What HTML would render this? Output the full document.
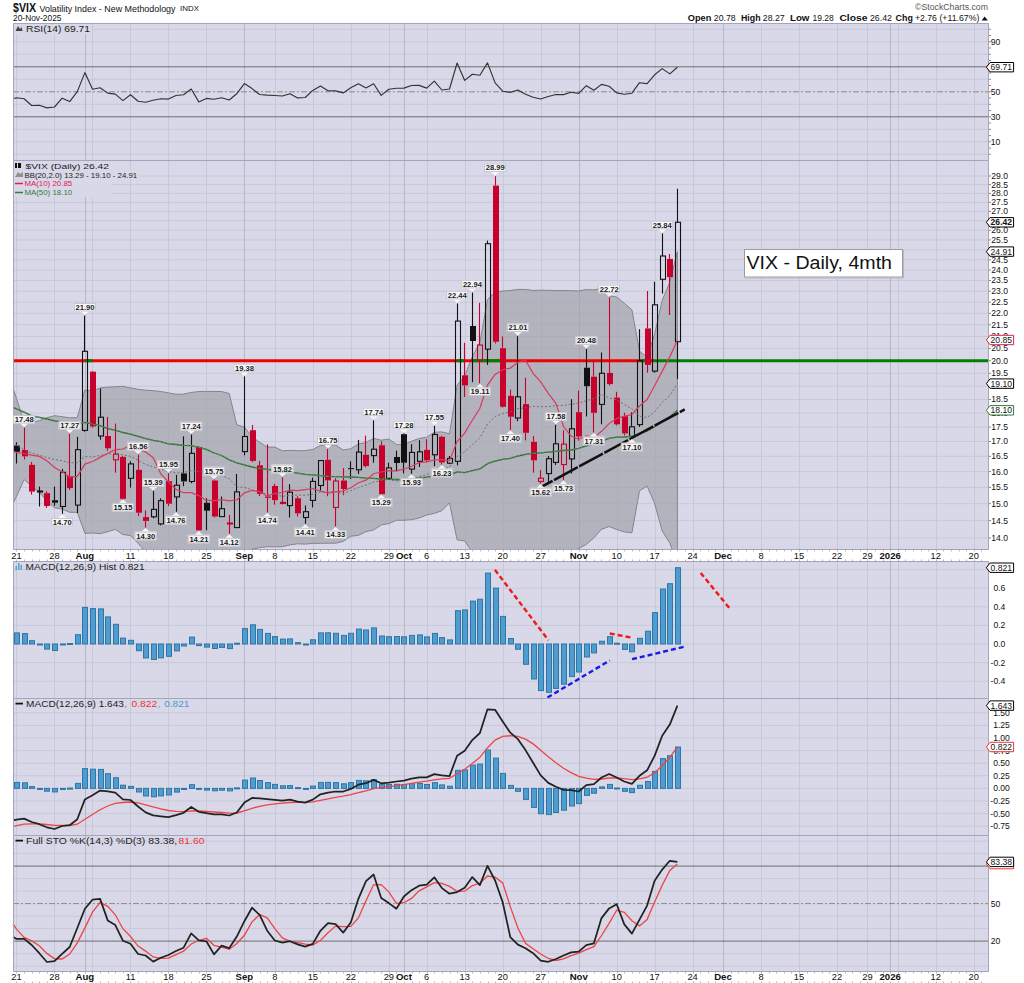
<!DOCTYPE html><html><head><meta charset="utf-8"><style>html,body{margin:0;padding:0;background:#fff;width:1024px;height:983px;overflow:hidden}svg{display:block}</style></head><body><svg width="1024" height="983" viewBox="0 0 1024 983" font-family='"Liberation Sans", sans-serif'>
<rect width="1024" height="983" fill="#fff"/>
<text x="13" y="11.5" font-size="12" font-weight="bold" fill="#111" textLength="23" lengthAdjust="spacingAndGlyphs">$VIX</text>
<text x="39.5" y="11.5" font-size="9.6" fill="#111" textLength="136" lengthAdjust="spacingAndGlyphs">Volatility Index - New Methodology</text>
<text x="180" y="11" font-size="8" fill="#111" textLength="19" lengthAdjust="spacingAndGlyphs">INDX</text>
<text x="13" y="21" font-size="8.5" fill="#111" textLength="48.5" lengthAdjust="spacingAndGlyphs">20-Nov-2025</text>
<text x="915" y="9.5" font-size="8.5" fill="#555" textLength="73" lengthAdjust="spacingAndGlyphs">&#169;StockCharts.com</text>
<text x="687.8" y="21.3" font-size="9" font-weight="bold" fill="#111" textLength="23.5" lengthAdjust="spacingAndGlyphs">Open</text>
<text x="713.8" y="21.3" font-size="9" fill="#111" textLength="21.8" lengthAdjust="spacingAndGlyphs">20.78</text>
<text x="741" y="21.3" font-size="9" font-weight="bold" fill="#111" textLength="19.6" lengthAdjust="spacingAndGlyphs">High</text>
<text x="762.8" y="21.3" font-size="9" fill="#111" textLength="21.9" lengthAdjust="spacingAndGlyphs">28.27</text>
<text x="790" y="21.3" font-size="9" font-weight="bold" fill="#111" textLength="19.4" lengthAdjust="spacingAndGlyphs">Low</text>
<text x="812.5" y="21.3" font-size="9" fill="#111" textLength="21.3" lengthAdjust="spacingAndGlyphs">19.28</text>
<text x="839.4" y="21.3" font-size="9" font-weight="bold" fill="#111" textLength="28.1" lengthAdjust="spacingAndGlyphs">Close</text>
<text x="870" y="21.3" font-size="9" fill="#111" textLength="21.9" lengthAdjust="spacingAndGlyphs">26.42</text>
<text x="895.6" y="21.3" font-size="9" font-weight="bold" fill="#111" textLength="17.2" lengthAdjust="spacingAndGlyphs">Chg</text>
<text x="915" y="21.3" font-size="9" fill="#111" textLength="21.9" lengthAdjust="spacingAndGlyphs">+2.76</text>
<text x="939.4" y="21.3" font-size="9" fill="#111" textLength="40" lengthAdjust="spacingAndGlyphs">(+11.67%)</text>
<polygon points="981.6,20.5 987.8,20.5 984.7,16.5" fill="#111"/>
<rect x="13" y="23" width="976" height="138" fill="#d8d8e8"/>
<line x1="13" x2="989" y1="29.3" y2="29.3" stroke="#c8c8da" stroke-width="1"/>
<line x1="13" x2="989" y1="41.8" y2="41.8" stroke="#c8c8da" stroke-width="1"/>
<line x1="13" x2="989" y1="54.3" y2="54.3" stroke="#c8c8da" stroke-width="1"/>
<line x1="13" x2="989" y1="79.3" y2="79.3" stroke="#c8c8da" stroke-width="1"/>
<line x1="13" x2="989" y1="104.3" y2="104.3" stroke="#c8c8da" stroke-width="1"/>
<line x1="13" x2="989" y1="129.3" y2="129.3" stroke="#c8c8da" stroke-width="1"/>
<line x1="13" x2="989" y1="141.8" y2="141.8" stroke="#c8c8da" stroke-width="1"/>
<line x1="13" x2="989" y1="154.3" y2="154.3" stroke="#c8c8da" stroke-width="1"/>
<line x1="16.5" x2="16.5" y1="23" y2="160" stroke="#c8c8da" stroke-width="1"/>
<line x1="54.5" x2="54.5" y1="23" y2="160" stroke="#c8c8da" stroke-width="1"/>
<line x1="92.5" x2="92.5" y1="23" y2="160" stroke="#c8c8da" stroke-width="1"/>
<line x1="130.5" x2="130.5" y1="23" y2="160" stroke="#c8c8da" stroke-width="1"/>
<line x1="168.5" x2="168.5" y1="23" y2="160" stroke="#c8c8da" stroke-width="1"/>
<line x1="206.5" x2="206.5" y1="23" y2="160" stroke="#c8c8da" stroke-width="1"/>
<line x1="275.5" x2="275.5" y1="23" y2="160" stroke="#c8c8da" stroke-width="1"/>
<line x1="313.5" x2="313.5" y1="23" y2="160" stroke="#c8c8da" stroke-width="1"/>
<line x1="351.5" x2="351.5" y1="23" y2="160" stroke="#c8c8da" stroke-width="1"/>
<line x1="389.5" x2="389.5" y1="23" y2="160" stroke="#c8c8da" stroke-width="1"/>
<line x1="427.5" x2="427.5" y1="23" y2="160" stroke="#c8c8da" stroke-width="1"/>
<line x1="465.5" x2="465.5" y1="23" y2="160" stroke="#c8c8da" stroke-width="1"/>
<line x1="503.5" x2="503.5" y1="23" y2="160" stroke="#c8c8da" stroke-width="1"/>
<line x1="541.5" x2="541.5" y1="23" y2="160" stroke="#c8c8da" stroke-width="1"/>
<line x1="617.5" x2="617.5" y1="23" y2="160" stroke="#c8c8da" stroke-width="1"/>
<line x1="655.5" x2="655.5" y1="23" y2="160" stroke="#c8c8da" stroke-width="1"/>
<line x1="693.5" x2="693.5" y1="23" y2="160" stroke="#c8c8da" stroke-width="1"/>
<line x1="761.5" x2="761.5" y1="23" y2="160" stroke="#c8c8da" stroke-width="1"/>
<line x1="799.5" x2="799.5" y1="23" y2="160" stroke="#c8c8da" stroke-width="1"/>
<line x1="837.5" x2="837.5" y1="23" y2="160" stroke="#c8c8da" stroke-width="1"/>
<line x1="867.5" x2="867.5" y1="23" y2="160" stroke="#c8c8da" stroke-width="1"/>
<line x1="898.5" x2="898.5" y1="23" y2="160" stroke="#c8c8da" stroke-width="1"/>
<line x1="936.5" x2="936.5" y1="23" y2="160" stroke="#c8c8da" stroke-width="1"/>
<line x1="974.5" x2="974.5" y1="23" y2="160" stroke="#c8c8da" stroke-width="1"/>
<line x1="85.5" x2="85.5" y1="23" y2="160" stroke="#b6b6c6" stroke-width="1"/>
<line x1="244.5" x2="244.5" y1="23" y2="160" stroke="#b6b6c6" stroke-width="1"/>
<line x1="404.5" x2="404.5" y1="23" y2="160" stroke="#b6b6c6" stroke-width="1"/>
<line x1="579.5" x2="579.5" y1="23" y2="160" stroke="#b6b6c6" stroke-width="1"/>
<line x1="723.5" x2="723.5" y1="23" y2="160" stroke="#b6b6c6" stroke-width="1"/>
<line x1="890.5" x2="890.5" y1="23" y2="160" stroke="#b6b6c6" stroke-width="1"/>
<line x1="13" x2="989" y1="66.8" y2="66.8" stroke="#6e6e6e" stroke-width="1"/>
<line x1="13" x2="989" y1="116.8" y2="116.8" stroke="#6e6e6e" stroke-width="1"/>
<line x1="13" x2="989" y1="91.8" y2="91.8" stroke="#8a8a8a" stroke-width="1" stroke-dasharray="6,2,2,2"/>
<polyline points="13,98.7 16.5,97.8 24.1,98.8 31.7,105.5 39.3,105.3 46.9,107.9 54.5,107.0 62.1,98.2 69.7,101.6 77.3,91.6 84.9,72.6 92.5,89.3 100.1,87.8 107.7,93.1 115.3,94.1 122.9,100.6 130.5,94.7 138.1,101.2 145.6,102.2 153.2,100.2 160.8,98.7 168.4,99.1 176.0,95.5 183.6,94.7 191.2,89.0 198.8,101.9 206.4,98.4 214.0,99.2 221.6,97.7 229.2,100.0 236.8,93.7 244.4,83.6 252.0,88.6 259.6,94.5 267.2,95.1 274.8,95.5 282.4,96.0 290.0,93.7 297.6,97.9 305.2,97.5 312.8,90.4 320.4,85.9 328.0,90.8 335.6,90.9 343.2,92.9 350.8,87.8 358.4,83.8 366.0,87.9 373.6,83.8 381.2,95.4 388.8,89.3 396.4,88.2 403.9,88.1 411.5,85.5 419.1,85.4 426.7,88.1 434.3,81.1 441.9,90.0 449.5,89.0 457.1,63.0 464.7,80.4 472.3,74.2 479.9,75.2 487.5,62.9 495.1,82.9 502.7,91.2 510.3,92.4 517.9,90.0 525.5,94.3 533.1,97.2 540.7,99.0 548.3,96.5 555.9,94.5 563.5,94.6 571.1,92.3 578.7,93.4 586.3,85.7 593.9,90.2 601.5,84.4 609.1,86.3 616.7,92.9 624.3,94.3 631.9,93.2 639.5,82.7 647.1,83.6 654.6,74.8 662.2,68.6 669.8,73.9 677.4,67.2" fill="none" stroke="#333" stroke-width="1.15" stroke-linejoin="round"/>
<path d="M13.5,23.5 H988.5 V160.5 H13.5 Z" fill="none" stroke="#a4a4bc" stroke-width="1"/>
<text x="1000.3" text-anchor="end" y="44.7" font-size="8.6" fill="#111">90</text>
<text x="1000.3" text-anchor="end" y="94.7" font-size="8.6" fill="#111">50</text>
<text x="1000.3" text-anchor="end" y="119.7" font-size="8.6" fill="#111">30</text>
<text x="1000.3" text-anchor="end" y="144.7" font-size="8.6" fill="#111">10</text>
<line x1="989" x2="991" y1="154.3" y2="154.3" stroke="#888"/>
<line x1="989" x2="991" y1="148.1" y2="148.1" stroke="#888"/>
<line x1="989" x2="991" y1="141.8" y2="141.8" stroke="#888"/>
<line x1="989" x2="991" y1="135.6" y2="135.6" stroke="#888"/>
<line x1="989" x2="991" y1="129.3" y2="129.3" stroke="#888"/>
<line x1="989" x2="991" y1="123.0" y2="123.0" stroke="#888"/>
<line x1="989" x2="991" y1="116.8" y2="116.8" stroke="#888"/>
<line x1="989" x2="991" y1="110.5" y2="110.5" stroke="#888"/>
<line x1="989" x2="991" y1="104.3" y2="104.3" stroke="#888"/>
<line x1="989" x2="991" y1="98.0" y2="98.0" stroke="#888"/>
<line x1="989" x2="991" y1="91.8" y2="91.8" stroke="#888"/>
<line x1="989" x2="991" y1="85.5" y2="85.5" stroke="#888"/>
<line x1="989" x2="991" y1="79.3" y2="79.3" stroke="#888"/>
<line x1="989" x2="991" y1="73.0" y2="73.0" stroke="#888"/>
<line x1="989" x2="991" y1="66.8" y2="66.8" stroke="#888"/>
<line x1="989" x2="991" y1="60.5" y2="60.5" stroke="#888"/>
<line x1="989" x2="991" y1="54.3" y2="54.3" stroke="#888"/>
<line x1="989" x2="991" y1="48.0" y2="48.0" stroke="#888"/>
<line x1="989" x2="991" y1="41.8" y2="41.8" stroke="#888"/>
<line x1="989" x2="991" y1="35.5" y2="35.5" stroke="#888"/>
<line x1="989" x2="991" y1="29.3" y2="29.3" stroke="#888"/>
<polygon points="986.4,67.2 990,62.5 1013.6,62.5 1013.6,71.9 990,71.9" fill="#fff" stroke="#000" stroke-width="1"/>
<text x="990.6" y="70.1" font-size="8.2" fill="#111" textLength="21.5" lengthAdjust="spacingAndGlyphs">69.71</text>
<rect x="14" y="24" width="78" height="10" fill="#d8d8e8"/>
<path d="M15.5,31 l2.5,-5 l2,3 l1.5,-2 l1,4 z" fill="#444"/>
<text x="26" y="32" font-size="8.4" fill="#222" textLength="64" lengthAdjust="spacingAndGlyphs">RSI(14) 69.71</text>
<rect x="13" y="160" width="976" height="390" fill="#d8d8e8"/>
<line x1="13" x2="989" y1="538.0" y2="538.0" stroke="#c8c8da" stroke-width="1"/>
<line x1="13" x2="989" y1="520.6" y2="520.6" stroke="#c8c8da" stroke-width="1"/>
<line x1="13" x2="989" y1="503.7" y2="503.7" stroke="#c8c8da" stroke-width="1"/>
<line x1="13" x2="989" y1="487.4" y2="487.4" stroke="#c8c8da" stroke-width="1"/>
<line x1="13" x2="989" y1="471.6" y2="471.6" stroke="#c8c8da" stroke-width="1"/>
<line x1="13" x2="989" y1="456.3" y2="456.3" stroke="#c8c8da" stroke-width="1"/>
<line x1="13" x2="989" y1="441.5" y2="441.5" stroke="#c8c8da" stroke-width="1"/>
<line x1="13" x2="989" y1="427.1" y2="427.1" stroke="#c8c8da" stroke-width="1"/>
<line x1="13" x2="989" y1="413.1" y2="413.1" stroke="#c8c8da" stroke-width="1"/>
<line x1="13" x2="989" y1="399.5" y2="399.5" stroke="#c8c8da" stroke-width="1"/>
<line x1="13" x2="989" y1="386.2" y2="386.2" stroke="#c8c8da" stroke-width="1"/>
<line x1="13" x2="989" y1="373.3" y2="373.3" stroke="#c8c8da" stroke-width="1"/>
<line x1="13" x2="989" y1="360.7" y2="360.7" stroke="#c8c8da" stroke-width="1"/>
<line x1="13" x2="989" y1="348.4" y2="348.4" stroke="#c8c8da" stroke-width="1"/>
<line x1="13" x2="989" y1="336.5" y2="336.5" stroke="#c8c8da" stroke-width="1"/>
<line x1="13" x2="989" y1="324.8" y2="324.8" stroke="#c8c8da" stroke-width="1"/>
<line x1="13" x2="989" y1="313.3" y2="313.3" stroke="#c8c8da" stroke-width="1"/>
<line x1="13" x2="989" y1="302.2" y2="302.2" stroke="#c8c8da" stroke-width="1"/>
<line x1="13" x2="989" y1="291.2" y2="291.2" stroke="#c8c8da" stroke-width="1"/>
<line x1="13" x2="989" y1="280.5" y2="280.5" stroke="#c8c8da" stroke-width="1"/>
<line x1="13" x2="989" y1="270.1" y2="270.1" stroke="#c8c8da" stroke-width="1"/>
<line x1="13" x2="989" y1="259.8" y2="259.8" stroke="#c8c8da" stroke-width="1"/>
<line x1="13" x2="989" y1="249.8" y2="249.8" stroke="#c8c8da" stroke-width="1"/>
<line x1="13" x2="989" y1="239.9" y2="239.9" stroke="#c8c8da" stroke-width="1"/>
<line x1="13" x2="989" y1="230.3" y2="230.3" stroke="#c8c8da" stroke-width="1"/>
<line x1="13" x2="989" y1="220.8" y2="220.8" stroke="#c8c8da" stroke-width="1"/>
<line x1="13" x2="989" y1="211.5" y2="211.5" stroke="#c8c8da" stroke-width="1"/>
<line x1="13" x2="989" y1="202.4" y2="202.4" stroke="#c8c8da" stroke-width="1"/>
<line x1="13" x2="989" y1="193.4" y2="193.4" stroke="#c8c8da" stroke-width="1"/>
<line x1="13" x2="989" y1="184.6" y2="184.6" stroke="#c8c8da" stroke-width="1"/>
<line x1="13" x2="989" y1="176.0" y2="176.0" stroke="#c8c8da" stroke-width="1"/>
<line x1="16.5" x2="16.5" y1="160" y2="549" stroke="#c8c8da" stroke-width="1"/>
<line x1="54.5" x2="54.5" y1="160" y2="549" stroke="#c8c8da" stroke-width="1"/>
<line x1="92.5" x2="92.5" y1="160" y2="549" stroke="#c8c8da" stroke-width="1"/>
<line x1="130.5" x2="130.5" y1="160" y2="549" stroke="#c8c8da" stroke-width="1"/>
<line x1="168.5" x2="168.5" y1="160" y2="549" stroke="#c8c8da" stroke-width="1"/>
<line x1="206.5" x2="206.5" y1="160" y2="549" stroke="#c8c8da" stroke-width="1"/>
<line x1="275.5" x2="275.5" y1="160" y2="549" stroke="#c8c8da" stroke-width="1"/>
<line x1="313.5" x2="313.5" y1="160" y2="549" stroke="#c8c8da" stroke-width="1"/>
<line x1="351.5" x2="351.5" y1="160" y2="549" stroke="#c8c8da" stroke-width="1"/>
<line x1="389.5" x2="389.5" y1="160" y2="549" stroke="#c8c8da" stroke-width="1"/>
<line x1="427.5" x2="427.5" y1="160" y2="549" stroke="#c8c8da" stroke-width="1"/>
<line x1="465.5" x2="465.5" y1="160" y2="549" stroke="#c8c8da" stroke-width="1"/>
<line x1="503.5" x2="503.5" y1="160" y2="549" stroke="#c8c8da" stroke-width="1"/>
<line x1="541.5" x2="541.5" y1="160" y2="549" stroke="#c8c8da" stroke-width="1"/>
<line x1="617.5" x2="617.5" y1="160" y2="549" stroke="#c8c8da" stroke-width="1"/>
<line x1="655.5" x2="655.5" y1="160" y2="549" stroke="#c8c8da" stroke-width="1"/>
<line x1="693.5" x2="693.5" y1="160" y2="549" stroke="#c8c8da" stroke-width="1"/>
<line x1="761.5" x2="761.5" y1="160" y2="549" stroke="#c8c8da" stroke-width="1"/>
<line x1="799.5" x2="799.5" y1="160" y2="549" stroke="#c8c8da" stroke-width="1"/>
<line x1="837.5" x2="837.5" y1="160" y2="549" stroke="#c8c8da" stroke-width="1"/>
<line x1="867.5" x2="867.5" y1="160" y2="549" stroke="#c8c8da" stroke-width="1"/>
<line x1="898.5" x2="898.5" y1="160" y2="549" stroke="#c8c8da" stroke-width="1"/>
<line x1="936.5" x2="936.5" y1="160" y2="549" stroke="#c8c8da" stroke-width="1"/>
<line x1="974.5" x2="974.5" y1="160" y2="549" stroke="#c8c8da" stroke-width="1"/>
<line x1="85.5" x2="85.5" y1="160" y2="549" stroke="#b6b6c6" stroke-width="1"/>
<line x1="244.5" x2="244.5" y1="160" y2="549" stroke="#b6b6c6" stroke-width="1"/>
<line x1="404.5" x2="404.5" y1="160" y2="549" stroke="#b6b6c6" stroke-width="1"/>
<line x1="579.5" x2="579.5" y1="160" y2="549" stroke="#b6b6c6" stroke-width="1"/>
<line x1="723.5" x2="723.5" y1="160" y2="549" stroke="#b6b6c6" stroke-width="1"/>
<line x1="890.5" x2="890.5" y1="160" y2="549" stroke="#b6b6c6" stroke-width="1"/>
<clipPath id="cp"><rect x="13" y="160" width="976" height="389"/></clipPath><g clip-path="url(#cp)">
<polygon points="8.9,375.8 16.5,398.4 24.1,422.0 31.7,422.2 39.3,420.7 46.9,417.7 54.5,415.7 62.1,416.7 69.7,417.8 77.3,417.6 84.9,390.1 92.5,391.1 100.1,387.9 107.7,387.1 115.3,386.8 122.9,386.3 130.5,387.9 138.1,389.3 145.6,390.2 153.2,390.7 160.8,391.5 168.4,392.9 176.0,394.3 183.6,394.1 191.2,392.5 198.8,391.5 206.4,391.4 214.0,391.5 221.6,391.5 229.2,393.5 236.8,424.8 244.4,427.1 252.0,436.7 259.6,442.2 267.2,447.1 274.8,447.1 282.4,450.8 290.0,450.4 297.6,450.7 305.2,450.6 312.8,449.5 320.4,445.5 328.0,445.1 335.6,445.1 343.2,450.0 350.8,448.8 358.4,444.0 366.0,442.5 373.6,438.4 381.2,440.2 388.8,439.0 396.4,444.4 403.9,444.7 411.5,441.3 419.1,438.4 426.7,437.3 434.3,432.3 441.9,431.9 449.5,433.8 457.1,385.3 464.7,375.8 472.3,356.8 479.9,342.6 487.5,299.5 495.1,292.0 502.7,291.1 510.3,290.5 517.9,289.4 525.5,289.4 533.1,290.5 540.7,290.2 548.3,290.3 555.9,290.6 563.5,290.6 571.1,290.7 578.7,291.0 586.3,289.6 593.9,289.9 601.5,288.5 609.1,295.8 616.7,297.0 624.3,303.3 631.9,309.7 639.5,351.2 647.1,357.2 654.6,334.4 662.2,300.4 669.8,282.2 677.4,251.6 677.4,563.9 669.8,542.9 662.2,531.0 654.6,503.3 647.1,486.1 639.5,490.8 631.9,532.8 624.3,531.9 616.7,529.5 609.1,526.5 601.5,529.3 593.9,537.8 586.3,544.4 578.7,548.4 571.1,551.8 563.5,554.8 555.9,555.9 548.3,558.7 540.7,559.4 533.1,557.6 525.5,563.6 517.9,565.6 510.3,572.8 502.7,576.6 495.1,583.2 487.5,590.5 479.9,555.6 472.3,552.3 464.7,540.9 457.1,539.8 449.5,502.8 441.9,510.7 434.3,513.4 426.7,515.0 419.1,518.0 411.5,519.7 403.9,520.2 396.4,520.3 388.8,523.6 381.2,524.9 373.6,530.0 366.0,531.6 358.4,535.4 350.8,536.2 343.2,541.4 335.6,543.2 328.0,543.2 320.4,543.3 312.8,543.4 305.2,544.1 297.6,543.8 290.0,544.9 282.4,546.7 274.8,546.8 267.2,546.7 259.6,547.7 252.0,549.1 244.4,556.0 236.8,557.7 229.2,581.9 221.6,576.0 214.0,573.6 206.4,568.6 198.8,567.5 191.2,563.4 183.6,565.7 176.0,566.6 168.4,565.0 160.8,561.0 153.2,557.2 145.6,551.7 138.1,543.3 130.5,535.6 122.9,534.5 115.3,529.4 107.7,531.7 100.1,533.7 92.5,533.0 84.9,533.4 77.3,512.3 69.7,512.3 62.1,509.0 54.5,507.7 46.9,501.1 39.3,492.2 31.7,486.1 24.1,479.6 16.5,496.5 8.9,511.8" fill="#a0a0a8" fill-opacity="0.65" stroke="#84848e" stroke-width="1"/>
<line x1="13" x2="654" y1="360.7" y2="360.7" stroke="#f00000" stroke-width="3"/>
<line x1="85.2" x2="92.5" y1="360.7" y2="360.7" stroke="#008000" stroke-width="3"/>
<line x1="457" x2="464" y1="360.7" y2="360.7" stroke="#008000" stroke-width="3"/>
<line x1="473" x2="503" y1="360.7" y2="360.7" stroke="#008000" stroke-width="3"/>
<line x1="640.7" x2="645.6" y1="360.7" y2="360.7" stroke="#008000" stroke-width="3"/>
<line x1="654" x2="989" y1="360.7" y2="360.7" stroke="#008000" stroke-width="3"/>
<line x1="16.5" x2="16.5" y1="442.3" y2="445.6" stroke="#111111" stroke-width="1.1"/><line x1="16.5" x2="16.5" y1="451.8" y2="463.5" stroke="#111111" stroke-width="1.1"/>
<rect x="14" y="445.6" width="6" height="6.2" fill="#111111"/>
<line x1="24.5" x2="24.5" y1="427.7" y2="450.0" stroke="#c8002c" stroke-width="1.1"/><line x1="24.5" x2="24.5" y1="456.3" y2="459.5" stroke="#c8002c" stroke-width="1.1"/>
<rect x="22" y="450.0" width="6" height="6.3" fill="#c8002c"/>
<line x1="31.5" x2="31.5" y1="462.0" y2="464.8" stroke="#c8002c" stroke-width="1.1"/><line x1="31.5" x2="31.5" y1="491.6" y2="494.6" stroke="#c8002c" stroke-width="1.1"/>
<rect x="29" y="464.8" width="6" height="26.8" fill="#c8002c"/>
<line x1="39.5" x2="39.5" y1="486.6" y2="491.0" stroke="#111111" stroke-width="1.1"/><line x1="39.5" x2="39.5" y1="492.0" y2="506.5" stroke="#111111" stroke-width="1.1"/>
<rect x="37.5" y="491.0" width="5" height="1.0" fill="none" stroke="#111111" stroke-width="1.1"/>
<line x1="46.5" x2="46.5" y1="491.3" y2="493.2" stroke="#c8002c" stroke-width="1.1"/><line x1="46.5" x2="46.5" y1="506.0" y2="507.8" stroke="#c8002c" stroke-width="1.1"/>
<rect x="44" y="493.2" width="6" height="12.8" fill="#c8002c"/>
<line x1="54.5" x2="54.5" y1="486.6" y2="500.2" stroke="#111111" stroke-width="1.1"/><line x1="54.5" x2="54.5" y1="502.7" y2="505.8" stroke="#111111" stroke-width="1.1"/>
<rect x="52" y="500.2" width="6" height="2.5" fill="#111111"/>
<line x1="62.5" x2="62.5" y1="468.8" y2="472.3" stroke="#111111" stroke-width="1.1"/><line x1="62.5" x2="62.5" y1="506.5" y2="513.8" stroke="#111111" stroke-width="1.1"/>
<rect x="60.5" y="472.3" width="5" height="34.2" fill="none" stroke="#111111" stroke-width="1.1"/>
<line x1="69.5" x2="69.5" y1="433.7" y2="476.0" stroke="#c8002c" stroke-width="1.1"/><line x1="69.5" x2="69.5" y1="488.1" y2="490.0" stroke="#c8002c" stroke-width="1.1"/>
<rect x="67" y="476.0" width="6" height="12.1" fill="#c8002c"/>
<line x1="77.5" x2="77.5" y1="436.8" y2="449.7" stroke="#111111" stroke-width="1.1"/><line x1="77.5" x2="77.5" y1="505.1" y2="513.0" stroke="#111111" stroke-width="1.1"/>
<rect x="75.5" y="449.7" width="5" height="55.4" fill="none" stroke="#111111" stroke-width="1.1"/>
<line x1="84.5" x2="84.5" y1="315.6" y2="351.3" stroke="#111111" stroke-width="1.1"/><line x1="84.5" x2="84.5" y1="430.4" y2="431.7" stroke="#111111" stroke-width="1.1"/>
<rect x="82.5" y="351.3" width="5" height="79.1" fill="none" stroke="#111111" stroke-width="1.1"/>
<line x1="92.5" x2="92.5" y1="371.0" y2="371.7" stroke="#c8002c" stroke-width="1.1"/><line x1="92.5" x2="92.5" y1="426.5" y2="427.8" stroke="#c8002c" stroke-width="1.1"/>
<rect x="90" y="371.7" width="6" height="54.8" fill="#c8002c"/>
<line x1="100.5" x2="100.5" y1="388.5" y2="417.2" stroke="#111111" stroke-width="1.1"/><line x1="100.5" x2="100.5" y1="436.0" y2="439.7" stroke="#111111" stroke-width="1.1"/>
<rect x="98.5" y="417.2" width="5" height="18.8" fill="none" stroke="#111111" stroke-width="1.1"/>
<line x1="107.5" x2="107.5" y1="416.9" y2="436.0" stroke="#c8002c" stroke-width="1.1"/><line x1="107.5" x2="107.5" y1="448.3" y2="450.9" stroke="#c8002c" stroke-width="1.1"/>
<rect x="105" y="436.0" width="6" height="12.3" fill="#c8002c"/>
<line x1="115.5" x2="115.5" y1="423.5" y2="454.2" stroke="#c8002c" stroke-width="1.1"/><line x1="115.5" x2="115.5" y1="459.8" y2="472.7" stroke="#c8002c" stroke-width="1.1"/>
<rect x="113.5" y="454.2" width="5" height="5.6" fill="none" stroke="#c8002c" stroke-width="1.1"/>
<line x1="122.5" x2="122.5" y1="456.0" y2="456.9" stroke="#c8002c" stroke-width="1.1"/><line x1="122.5" x2="122.5" y1="498.8" y2="500.0" stroke="#c8002c" stroke-width="1.1"/>
<rect x="120" y="456.9" width="6" height="41.9" fill="#c8002c"/>
<line x1="130.5" x2="130.5" y1="461.3" y2="463.9" stroke="#111111" stroke-width="1.1"/><line x1="130.5" x2="130.5" y1="478.3" y2="487.6" stroke="#111111" stroke-width="1.1"/>
<rect x="128.5" y="463.9" width="5" height="14.4" fill="none" stroke="#111111" stroke-width="1.1"/>
<line x1="138.5" x2="138.5" y1="454.5" y2="469.8" stroke="#c8002c" stroke-width="1.1"/><line x1="138.5" x2="138.5" y1="512.7" y2="516.1" stroke="#c8002c" stroke-width="1.1"/>
<rect x="136" y="469.8" width="6" height="42.9" fill="#c8002c"/>
<line x1="145.5" x2="145.5" y1="510.4" y2="517.1" stroke="#c8002c" stroke-width="1.1"/><line x1="145.5" x2="145.5" y1="520.9" y2="527.5" stroke="#c8002c" stroke-width="1.1"/>
<rect x="143" y="517.1" width="6" height="3.8" fill="#c8002c"/>
<line x1="153.5" x2="153.5" y1="491.0" y2="509.4" stroke="#111111" stroke-width="1.1"/><line x1="153.5" x2="153.5" y1="516.8" y2="518.2" stroke="#111111" stroke-width="1.1"/>
<rect x="151.5" y="509.4" width="5" height="7.4" fill="none" stroke="#111111" stroke-width="1.1"/>
<line x1="160.5" x2="160.5" y1="498.3" y2="500.7" stroke="#111111" stroke-width="1.1"/><line x1="160.5" x2="160.5" y1="523.9" y2="525.4" stroke="#111111" stroke-width="1.1"/>
<rect x="158.5" y="500.7" width="5" height="23.2" fill="none" stroke="#111111" stroke-width="1.1"/>
<line x1="168.5" x2="168.5" y1="473.2" y2="481.2" stroke="#c8002c" stroke-width="1.1"/><line x1="168.5" x2="168.5" y1="503.7" y2="506.1" stroke="#c8002c" stroke-width="1.1"/>
<rect x="166" y="481.2" width="6" height="22.5" fill="#c8002c"/>
<line x1="176.5" x2="176.5" y1="474.8" y2="485.2" stroke="#111111" stroke-width="1.1"/><line x1="176.5" x2="176.5" y1="496.9" y2="511.7" stroke="#111111" stroke-width="1.1"/>
<rect x="174.5" y="485.2" width="5" height="11.7" fill="none" stroke="#111111" stroke-width="1.1"/>
<line x1="183.5" x2="183.5" y1="436.3" y2="473.4" stroke="#111111" stroke-width="1.1"/><line x1="183.5" x2="183.5" y1="481.4" y2="486.2" stroke="#111111" stroke-width="1.1"/>
<rect x="181" y="473.4" width="6" height="8.0" fill="#111111"/>
<line x1="191.5" x2="191.5" y1="434.5" y2="453.3" stroke="#111111" stroke-width="1.1"/><line x1="191.5" x2="191.5" y1="481.5" y2="483.3" stroke="#111111" stroke-width="1.1"/>
<rect x="189.5" y="453.3" width="5" height="28.2" fill="none" stroke="#111111" stroke-width="1.1"/>
<line x1="198.5" x2="198.5" y1="446.0" y2="447.0" stroke="#c8002c" stroke-width="1.1"/><line x1="198.5" x2="198.5" y1="530.3" y2="530.6" stroke="#c8002c" stroke-width="1.1"/>
<rect x="196" y="447.0" width="6" height="83.3" fill="#c8002c"/>
<line x1="206.5" x2="206.5" y1="498.3" y2="502.8" stroke="#111111" stroke-width="1.1"/><line x1="206.5" x2="206.5" y1="510.7" y2="530.3" stroke="#111111" stroke-width="1.1"/>
<rect x="204" y="502.8" width="6" height="7.9" fill="#111111"/>
<line x1="214.5" x2="214.5" y1="479.5" y2="480.5" stroke="#c8002c" stroke-width="1.1"/><line x1="214.5" x2="214.5" y1="516.5" y2="517.6" stroke="#c8002c" stroke-width="1.1"/>
<rect x="212" y="480.5" width="6" height="36.0" fill="#c8002c"/>
<line x1="221.5" x2="221.5" y1="496.5" y2="508.7" stroke="#111111" stroke-width="1.1"/><line x1="221.5" x2="221.5" y1="516.6" y2="517.0" stroke="#111111" stroke-width="1.1"/>
<rect x="219.5" y="508.7" width="5" height="7.9" fill="none" stroke="#111111" stroke-width="1.1"/>
<line x1="229.5" x2="229.5" y1="514.8" y2="523.0" stroke="#c8002c" stroke-width="1.1"/><line x1="229.5" x2="229.5" y1="524.0" y2="533.8" stroke="#c8002c" stroke-width="1.1"/>
<rect x="227.5" y="523.0" width="5" height="1.0" fill="none" stroke="#c8002c" stroke-width="1.1"/>
<line x1="236.5" x2="236.5" y1="474.0" y2="491.9" stroke="#111111" stroke-width="1.1"/><line x1="236.5" x2="236.5" y1="527.6" y2="528.0" stroke="#111111" stroke-width="1.1"/>
<rect x="234.5" y="491.9" width="5" height="35.7" fill="none" stroke="#111111" stroke-width="1.1"/>
<line x1="244.5" x2="244.5" y1="376.4" y2="436.5" stroke="#111111" stroke-width="1.1"/><line x1="244.5" x2="244.5" y1="451.6" y2="455.3" stroke="#111111" stroke-width="1.1"/>
<rect x="242.5" y="436.5" width="5" height="15.1" fill="none" stroke="#111111" stroke-width="1.1"/>
<line x1="252.5" x2="252.5" y1="425.0" y2="430.2" stroke="#c8002c" stroke-width="1.1"/><line x1="252.5" x2="252.5" y1="460.9" y2="462.0" stroke="#c8002c" stroke-width="1.1"/>
<rect x="250" y="430.2" width="6" height="30.7" fill="#c8002c"/>
<line x1="259.5" x2="259.5" y1="460.8" y2="465.3" stroke="#c8002c" stroke-width="1.1"/><line x1="259.5" x2="259.5" y1="493.9" y2="496.0" stroke="#c8002c" stroke-width="1.1"/>
<rect x="257" y="465.3" width="6" height="28.6" fill="#c8002c"/>
<line x1="267.5" x2="267.5" y1="444.3" y2="496.5" stroke="#c8002c" stroke-width="1.1"/><line x1="267.5" x2="267.5" y1="497.8" y2="512.4" stroke="#c8002c" stroke-width="1.1"/>
<rect x="265" y="496.5" width="6" height="1.3" fill="#c8002c"/>
<line x1="274.5" x2="274.5" y1="483.7" y2="486.0" stroke="#c8002c" stroke-width="1.1"/><line x1="274.5" x2="274.5" y1="500.1" y2="504.7" stroke="#c8002c" stroke-width="1.1"/>
<rect x="272" y="486.0" width="6" height="14.1" fill="#c8002c"/>
<line x1="282.5" x2="282.5" y1="477.3" y2="502.4" stroke="#c8002c" stroke-width="1.1"/><line x1="282.5" x2="282.5" y1="503.5" y2="504.5" stroke="#c8002c" stroke-width="1.1"/>
<rect x="280.5" y="502.4" width="5" height="1.1" fill="none" stroke="#c8002c" stroke-width="1.1"/>
<line x1="289.5" x2="289.5" y1="484.2" y2="492.2" stroke="#111111" stroke-width="1.1"/><line x1="289.5" x2="289.5" y1="505.6" y2="517.6" stroke="#111111" stroke-width="1.1"/>
<rect x="287.5" y="492.2" width="5" height="13.4" fill="none" stroke="#111111" stroke-width="1.1"/>
<line x1="297.5" x2="297.5" y1="496.2" y2="498.3" stroke="#c8002c" stroke-width="1.1"/><line x1="297.5" x2="297.5" y1="513.4" y2="516.5" stroke="#c8002c" stroke-width="1.1"/>
<rect x="295" y="498.3" width="6" height="15.1" fill="#c8002c"/>
<line x1="305.5" x2="305.5" y1="505.4" y2="511.7" stroke="#111111" stroke-width="1.1"/><line x1="305.5" x2="305.5" y1="517.5" y2="523.7" stroke="#111111" stroke-width="1.1"/>
<rect x="303.5" y="511.7" width="5" height="5.8" fill="none" stroke="#111111" stroke-width="1.1"/>
<line x1="312.5" x2="312.5" y1="477.6" y2="481.4" stroke="#111111" stroke-width="1.1"/><line x1="312.5" x2="312.5" y1="500.4" y2="507.5" stroke="#111111" stroke-width="1.1"/>
<rect x="310.5" y="481.4" width="5" height="19.0" fill="none" stroke="#111111" stroke-width="1.1"/>
<line x1="320.5" x2="320.5" y1="460.5" y2="460.6" stroke="#111111" stroke-width="1.1"/><line x1="320.5" x2="320.5" y1="485.5" y2="490.5" stroke="#111111" stroke-width="1.1"/>
<rect x="318.5" y="460.6" width="5" height="24.9" fill="none" stroke="#111111" stroke-width="1.1"/>
<line x1="327.5" x2="327.5" y1="448.9" y2="459.8" stroke="#c8002c" stroke-width="1.1"/><line x1="327.5" x2="327.5" y1="480.4" y2="496.2" stroke="#c8002c" stroke-width="1.1"/>
<rect x="325" y="459.8" width="6" height="20.6" fill="#c8002c"/>
<line x1="335.5" x2="335.5" y1="478.3" y2="481.0" stroke="#c8002c" stroke-width="1.1"/><line x1="335.5" x2="335.5" y1="507.5" y2="526.4" stroke="#c8002c" stroke-width="1.1"/>
<rect x="333.5" y="481.0" width="5" height="26.5" fill="none" stroke="#c8002c" stroke-width="1.1"/>
<line x1="343.5" x2="343.5" y1="468.1" y2="480.5" stroke="#c8002c" stroke-width="1.1"/><line x1="343.5" x2="343.5" y1="489.0" y2="495.2" stroke="#c8002c" stroke-width="1.1"/>
<rect x="341" y="480.5" width="6" height="8.5" fill="#c8002c"/>
<line x1="350.5" x2="350.5" y1="461.3" y2="468.1" stroke="#111111" stroke-width="1.1"/><line x1="350.5" x2="350.5" y1="469.1" y2="479.0" stroke="#111111" stroke-width="1.1"/>
<rect x="348" y="468.1" width="6" height="1.0" fill="#111111"/>
<line x1="358.5" x2="358.5" y1="439.9" y2="452.1" stroke="#111111" stroke-width="1.1"/><line x1="358.5" x2="358.5" y1="469.8" y2="474.0" stroke="#111111" stroke-width="1.1"/>
<rect x="356.5" y="452.1" width="5" height="17.7" fill="none" stroke="#111111" stroke-width="1.1"/>
<line x1="365.5" x2="365.5" y1="435.6" y2="454.8" stroke="#c8002c" stroke-width="1.1"/><line x1="365.5" x2="365.5" y1="466.1" y2="467.5" stroke="#c8002c" stroke-width="1.1"/>
<rect x="363" y="454.8" width="6" height="11.3" fill="#c8002c"/>
<line x1="373.5" x2="373.5" y1="420.3" y2="449.2" stroke="#111111" stroke-width="1.1"/><line x1="373.5" x2="373.5" y1="455.6" y2="462.7" stroke="#111111" stroke-width="1.1"/>
<rect x="371.5" y="449.2" width="5" height="6.4" fill="none" stroke="#111111" stroke-width="1.1"/>
<line x1="381.5" x2="381.5" y1="441.3" y2="445.3" stroke="#c8002c" stroke-width="1.1"/><line x1="381.5" x2="381.5" y1="494.2" y2="494.2" stroke="#c8002c" stroke-width="1.1"/>
<rect x="379" y="445.3" width="6" height="48.9" fill="#c8002c"/>
<line x1="388.5" x2="388.5" y1="462.7" y2="467.9" stroke="#111111" stroke-width="1.1"/><line x1="388.5" x2="388.5" y1="478.3" y2="479.8" stroke="#111111" stroke-width="1.1"/>
<rect x="386.5" y="467.9" width="5" height="10.4" fill="none" stroke="#111111" stroke-width="1.1"/>
<line x1="396.5" x2="396.5" y1="450.6" y2="457.0" stroke="#111111" stroke-width="1.1"/><line x1="396.5" x2="396.5" y1="463.0" y2="471.2" stroke="#111111" stroke-width="1.1"/>
<rect x="394" y="457.0" width="6" height="6.0" fill="#111111"/>
<line x1="403.5" x2="403.5" y1="433.4" y2="434.2" stroke="#111111" stroke-width="1.1"/><line x1="403.5" x2="403.5" y1="462.7" y2="473.4" stroke="#111111" stroke-width="1.1"/>
<rect x="401" y="434.2" width="6" height="28.5" fill="#111111"/>
<line x1="411.5" x2="411.5" y1="444.2" y2="452.4" stroke="#111111" stroke-width="1.1"/><line x1="411.5" x2="411.5" y1="469.1" y2="473.8" stroke="#111111" stroke-width="1.1"/>
<rect x="409.5" y="452.4" width="5" height="16.7" fill="none" stroke="#111111" stroke-width="1.1"/>
<line x1="419.5" x2="419.5" y1="440.2" y2="451.8" stroke="#111111" stroke-width="1.1"/><line x1="419.5" x2="419.5" y1="461.3" y2="467.0" stroke="#111111" stroke-width="1.1"/>
<rect x="417.5" y="451.8" width="5" height="9.5" fill="none" stroke="#111111" stroke-width="1.1"/>
<line x1="426.5" x2="426.5" y1="439.2" y2="449.9" stroke="#c8002c" stroke-width="1.1"/><line x1="426.5" x2="426.5" y1="460.3" y2="462.0" stroke="#c8002c" stroke-width="1.1"/>
<rect x="424" y="449.9" width="6" height="10.4" fill="#c8002c"/>
<line x1="434.5" x2="434.5" y1="425.7" y2="434.5" stroke="#111111" stroke-width="1.1"/><line x1="434.5" x2="434.5" y1="454.8" y2="466.2" stroke="#111111" stroke-width="1.1"/>
<rect x="432.5" y="434.5" width="5" height="20.3" fill="none" stroke="#111111" stroke-width="1.1"/>
<line x1="441.5" x2="441.5" y1="435.6" y2="436.8" stroke="#c8002c" stroke-width="1.1"/><line x1="441.5" x2="441.5" y1="462.4" y2="464.5" stroke="#c8002c" stroke-width="1.1"/>
<rect x="439" y="436.8" width="6" height="25.6" fill="#c8002c"/>
<line x1="449.5" x2="449.5" y1="456.0" y2="458.4" stroke="#111111" stroke-width="1.1"/><line x1="449.5" x2="449.5" y1="463.2" y2="464.0" stroke="#111111" stroke-width="1.1"/>
<rect x="447.5" y="458.4" width="5" height="4.8" fill="none" stroke="#111111" stroke-width="1.1"/>
<line x1="457.5" x2="457.5" y1="303.5" y2="321.1" stroke="#111111" stroke-width="1.1"/><line x1="457.5" x2="457.5" y1="461.3" y2="465.3" stroke="#111111" stroke-width="1.1"/>
<rect x="455.5" y="321.1" width="5" height="140.2" fill="none" stroke="#111111" stroke-width="1.1"/>
<line x1="464.5" x2="464.5" y1="342.8" y2="375.3" stroke="#c8002c" stroke-width="1.1"/><line x1="464.5" x2="464.5" y1="385.4" y2="397.0" stroke="#c8002c" stroke-width="1.1"/>
<rect x="462" y="375.3" width="6" height="10.1" fill="#c8002c"/>
<line x1="472.5" x2="472.5" y1="292.5" y2="326.0" stroke="#111111" stroke-width="1.1"/><line x1="472.5" x2="472.5" y1="341.0" y2="382.2" stroke="#111111" stroke-width="1.1"/>
<rect x="470" y="326.0" width="6" height="15.0" fill="#111111"/>
<line x1="479.5" x2="479.5" y1="302.8" y2="345.0" stroke="#c8002c" stroke-width="1.1"/><line x1="479.5" x2="479.5" y1="360.6" y2="383.3" stroke="#c8002c" stroke-width="1.1"/>
<rect x="477.5" y="345.0" width="5" height="15.6" fill="none" stroke="#c8002c" stroke-width="1.1"/>
<line x1="487.5" x2="487.5" y1="240.6" y2="243.7" stroke="#111111" stroke-width="1.1"/><line x1="487.5" x2="487.5" y1="349.2" y2="364.9" stroke="#111111" stroke-width="1.1"/>
<rect x="485.5" y="243.7" width="5" height="105.5" fill="none" stroke="#111111" stroke-width="1.1"/>
<line x1="495.5" x2="495.5" y1="176.2" y2="185.6" stroke="#c8002c" stroke-width="1.1"/><line x1="495.5" x2="495.5" y1="341.7" y2="343.5" stroke="#c8002c" stroke-width="1.1"/>
<rect x="493" y="185.6" width="6" height="156.1" fill="#c8002c"/>
<line x1="502.5" x2="502.5" y1="336.4" y2="348.2" stroke="#c8002c" stroke-width="1.1"/><line x1="502.5" x2="502.5" y1="406.8" y2="407.6" stroke="#c8002c" stroke-width="1.1"/>
<rect x="500" y="348.2" width="6" height="58.6" fill="#c8002c"/>
<line x1="510.5" x2="510.5" y1="389.5" y2="395.8" stroke="#c8002c" stroke-width="1.1"/><line x1="510.5" x2="510.5" y1="416.7" y2="429.9" stroke="#c8002c" stroke-width="1.1"/>
<rect x="508" y="395.8" width="6" height="20.9" fill="#c8002c"/>
<line x1="517.5" x2="517.5" y1="336.2" y2="396.8" stroke="#111111" stroke-width="1.1"/><line x1="517.5" x2="517.5" y1="418.0" y2="421.2" stroke="#111111" stroke-width="1.1"/>
<rect x="515.5" y="396.8" width="5" height="21.2" fill="none" stroke="#111111" stroke-width="1.1"/>
<line x1="525.5" x2="525.5" y1="377.7" y2="404.1" stroke="#c8002c" stroke-width="1.1"/><line x1="525.5" x2="525.5" y1="432.8" y2="440.4" stroke="#c8002c" stroke-width="1.1"/>
<rect x="523" y="404.1" width="6" height="28.7" fill="#c8002c"/>
<line x1="533.5" x2="533.5" y1="436.0" y2="441.8" stroke="#c8002c" stroke-width="1.1"/><line x1="533.5" x2="533.5" y1="460.3" y2="472.7" stroke="#c8002c" stroke-width="1.1"/>
<rect x="531" y="441.8" width="6" height="18.5" fill="#c8002c"/>
<line x1="540.5" x2="540.5" y1="470.1" y2="478.2" stroke="#c8002c" stroke-width="1.1"/><line x1="540.5" x2="540.5" y1="481.4" y2="483.6" stroke="#c8002c" stroke-width="1.1"/>
<rect x="538.5" y="478.2" width="5" height="3.2" fill="none" stroke="#c8002c" stroke-width="1.1"/>
<line x1="548.5" x2="548.5" y1="456.0" y2="458.7" stroke="#111111" stroke-width="1.1"/><line x1="548.5" x2="548.5" y1="473.6" y2="483.0" stroke="#111111" stroke-width="1.1"/>
<rect x="546.5" y="458.7" width="5" height="14.9" fill="none" stroke="#111111" stroke-width="1.1"/>
<line x1="555.5" x2="555.5" y1="424.8" y2="443.8" stroke="#111111" stroke-width="1.1"/><line x1="555.5" x2="555.5" y1="462.4" y2="465.0" stroke="#111111" stroke-width="1.1"/>
<rect x="553.5" y="443.8" width="5" height="18.6" fill="none" stroke="#111111" stroke-width="1.1"/>
<line x1="563.5" x2="563.5" y1="430.3" y2="444.1" stroke="#c8002c" stroke-width="1.1"/><line x1="563.5" x2="563.5" y1="464.6" y2="480.1" stroke="#c8002c" stroke-width="1.1"/>
<rect x="561.5" y="444.1" width="5" height="20.5" fill="none" stroke="#c8002c" stroke-width="1.1"/>
<line x1="571.5" x2="571.5" y1="399.2" y2="428.8" stroke="#111111" stroke-width="1.1"/><line x1="571.5" x2="571.5" y1="458.9" y2="473.6" stroke="#111111" stroke-width="1.1"/>
<rect x="569.5" y="428.8" width="5" height="30.1" fill="none" stroke="#111111" stroke-width="1.1"/>
<line x1="578.5" x2="578.5" y1="390.6" y2="412.2" stroke="#c8002c" stroke-width="1.1"/><line x1="578.5" x2="578.5" y1="436.5" y2="440.7" stroke="#c8002c" stroke-width="1.1"/>
<rect x="576" y="412.2" width="6" height="24.3" fill="#c8002c"/>
<line x1="586.5" x2="586.5" y1="348.9" y2="367.7" stroke="#111111" stroke-width="1.1"/><line x1="586.5" x2="586.5" y1="386.2" y2="416.5" stroke="#111111" stroke-width="1.1"/>
<rect x="584" y="367.7" width="6" height="18.5" fill="#111111"/>
<line x1="593.5" x2="593.5" y1="361.1" y2="376.7" stroke="#c8002c" stroke-width="1.1"/><line x1="593.5" x2="593.5" y1="412.8" y2="432.5" stroke="#c8002c" stroke-width="1.1"/>
<rect x="591" y="376.7" width="6" height="36.1" fill="#c8002c"/>
<line x1="601.5" x2="601.5" y1="352.5" y2="373.3" stroke="#111111" stroke-width="1.1"/><line x1="601.5" x2="601.5" y1="404.4" y2="424.3" stroke="#111111" stroke-width="1.1"/>
<rect x="599.5" y="373.3" width="5" height="31.1" fill="none" stroke="#111111" stroke-width="1.1"/>
<line x1="609.5" x2="609.5" y1="297.3" y2="372.9" stroke="#c8002c" stroke-width="1.1"/><line x1="609.5" x2="609.5" y1="384.1" y2="385.5" stroke="#c8002c" stroke-width="1.1"/>
<rect x="607" y="372.9" width="6" height="11.2" fill="#c8002c"/>
<line x1="616.5" x2="616.5" y1="391.8" y2="397.6" stroke="#c8002c" stroke-width="1.1"/><line x1="616.5" x2="616.5" y1="424.3" y2="425.5" stroke="#c8002c" stroke-width="1.1"/>
<rect x="614" y="397.6" width="6" height="26.7" fill="#c8002c"/>
<line x1="624.5" x2="624.5" y1="412.8" y2="416.2" stroke="#c8002c" stroke-width="1.1"/><line x1="624.5" x2="624.5" y1="433.4" y2="435.5" stroke="#c8002c" stroke-width="1.1"/>
<rect x="622" y="416.2" width="6" height="17.2" fill="#c8002c"/>
<line x1="631.5" x2="631.5" y1="412.4" y2="426.8" stroke="#111111" stroke-width="1.1"/><line x1="631.5" x2="631.5" y1="436.3" y2="438.6" stroke="#111111" stroke-width="1.1"/>
<rect x="629.5" y="426.8" width="5" height="9.5" fill="none" stroke="#111111" stroke-width="1.1"/>
<line x1="639.5" x2="639.5" y1="329.2" y2="360.7" stroke="#111111" stroke-width="1.1"/><line x1="639.5" x2="639.5" y1="424.6" y2="426.9" stroke="#111111" stroke-width="1.1"/>
<rect x="637.5" y="360.7" width="5" height="63.9" fill="none" stroke="#111111" stroke-width="1.1"/>
<line x1="647.5" x2="647.5" y1="291.0" y2="328.4" stroke="#c8002c" stroke-width="1.1"/><line x1="647.5" x2="647.5" y1="364.9" y2="372.7" stroke="#c8002c" stroke-width="1.1"/>
<rect x="645" y="328.4" width="6" height="36.5" fill="#c8002c"/>
<line x1="654.5" x2="654.5" y1="281.7" y2="304.8" stroke="#111111" stroke-width="1.1"/><line x1="654.5" x2="654.5" y1="371.1" y2="372.7" stroke="#111111" stroke-width="1.1"/>
<rect x="652.5" y="304.8" width="5" height="66.3" fill="none" stroke="#111111" stroke-width="1.1"/>
<line x1="662.5" x2="662.5" y1="233.4" y2="256.0" stroke="#111111" stroke-width="1.1"/><line x1="662.5" x2="662.5" y1="279.3" y2="293.6" stroke="#111111" stroke-width="1.1"/>
<rect x="660.5" y="256.0" width="5" height="23.3" fill="none" stroke="#111111" stroke-width="1.1"/>
<line x1="669.5" x2="669.5" y1="254.0" y2="258.9" stroke="#c8002c" stroke-width="1.1"/><line x1="669.5" x2="669.5" y1="277.2" y2="315.0" stroke="#c8002c" stroke-width="1.1"/>
<rect x="667" y="258.9" width="6" height="18.3" fill="#c8002c"/>
<line x1="677.5" x2="677.5" y1="188.7" y2="222.3" stroke="#111111" stroke-width="1.1"/><line x1="677.5" x2="677.5" y1="341.7" y2="378.9" stroke="#111111" stroke-width="1.1"/>
<rect x="675.5" y="222.3" width="5" height="119.4" fill="none" stroke="#111111" stroke-width="1.1"/>
<polyline points="8.9,439.2 16.5,445.0 24.1,449.9 31.7,453.1 39.3,455.1 46.9,457.6 54.5,459.6 62.1,460.7 69.7,462.8 77.3,462.7 84.9,456.6 92.5,457.0 100.1,455.4 107.7,454.2 115.3,453.0 122.9,454.9 130.5,456.3 138.1,460.3 145.6,464.4 153.2,467.0 160.8,469.0 168.4,471.6 176.0,473.0 183.6,472.5 191.2,470.7 198.8,471.8 206.4,472.1 214.0,474.2 221.6,475.2 229.2,478.8 236.8,486.8 244.4,487.4 252.0,489.8 259.6,492.1 267.2,494.4 274.8,494.5 282.4,496.4 290.0,495.4 297.6,495.1 305.2,495.2 312.8,494.2 320.4,492.0 328.0,491.8 335.6,491.7 343.2,493.6 350.8,490.6 358.4,487.6 366.0,485.1 373.6,482.1 381.2,480.7 388.8,479.5 396.4,480.9 403.9,481.0 411.5,478.9 419.1,476.6 426.7,474.6 434.3,471.2 441.9,469.7 449.5,467.1 457.1,456.6 464.7,451.6 472.3,445.0 479.9,437.8 487.5,424.0 495.1,416.6 502.7,413.6 510.3,411.9 517.9,408.6 525.5,407.8 533.1,406.3 540.7,406.8 548.3,406.6 555.9,405.7 563.5,405.4 571.1,404.3 578.7,403.2 586.3,400.8 593.9,398.5 601.5,394.4 609.1,397.9 616.7,399.8 624.3,404.6 631.9,408.8 639.5,416.2 647.1,417.5 654.6,411.7 662.2,402.4 669.8,395.6 677.4,383.6" fill="none" stroke="#6e6e6e" stroke-width="1" stroke-dasharray="2,2"/>
<polyline points="8.9,405.1 16.5,408.9 24.1,412.2 31.7,415.8 39.3,417.4 46.9,419.0 54.5,420.8 62.1,421.8 69.7,422.8 77.3,423.6 84.9,422.3 92.5,424.2 100.1,425.6 107.7,428.7 115.3,430.1 122.9,432.5 130.5,434.1 138.1,436.4 145.6,438.6 153.2,440.3 160.8,441.7 168.4,443.8 176.0,444.5 183.6,445.4 191.2,445.6 198.8,447.4 206.4,449.3 214.0,453.0 221.6,455.5 229.2,459.9 236.8,462.8 244.4,464.9 252.0,467.0 259.6,468.4 267.2,469.3 274.8,470.3 282.4,471.1 290.0,471.9 297.6,473.2 305.2,474.4 312.8,474.8 320.4,475.7 328.0,476.4 335.6,476.6 343.2,476.8 350.8,477.0 358.4,477.3 366.0,478.1 373.6,478.3 381.2,479.1 388.8,479.3 396.4,479.5 403.9,479.7 411.5,478.9 419.1,478.1 426.7,477.2 434.3,475.8 441.9,475.6 449.5,475.0 457.1,471.9 464.7,472.7 472.3,470.7 479.9,469.0 487.5,463.7 495.1,461.1 502.7,459.3 510.3,458.3 517.9,456.0 525.5,454.3 533.1,453.3 540.7,452.9 548.3,452.1 555.9,451.3 563.5,450.5 571.1,450.0 578.7,448.3 586.3,445.8 593.9,443.8 601.5,441.1 609.1,438.4 616.7,437.1 624.3,437.0 631.9,436.3 639.5,433.6 647.1,431.0 654.6,426.8 662.2,421.4 669.8,416.7 677.4,410.2" fill="none" stroke="#4a5a4a" stroke-width="1.3"/>
<polyline points="8.9,405.1 16.5,408.9 24.1,412.2 31.7,415.8 39.3,417.4 46.9,419.0 54.5,420.8 62.1,421.8 69.7,422.8 77.3,423.6 84.9,422.3 92.5,424.2 100.1,425.6 107.7,428.7 115.3,430.1 122.9,432.5 130.5,434.1 138.1,436.4 145.6,438.6 153.2,440.3 160.8,441.7 168.4,443.8 176.0,444.5 183.6,445.4 191.2,445.6 198.8,447.4 206.4,449.3 214.0,453.0 221.6,455.5 229.2,459.9 236.8,462.8 244.4,464.9 252.0,467.0 259.6,468.4 267.2,469.3 274.8,470.3 282.4,471.1 290.0,471.9 297.6,473.2 305.2,474.4 312.8,474.8 320.4,475.7 328.0,476.4 335.6,476.6 343.2,476.8 350.8,477.0 358.4,477.3 366.0,478.1 373.6,478.3 381.2,479.1 388.8,479.3 396.4,479.5 403.9,479.7 411.5,478.9 419.1,478.1 426.7,477.2 434.3,475.8 441.9,475.6 449.5,475.0 457.1,471.9 464.7,472.7 472.3,470.7 479.9,469.0 487.5,463.7 495.1,461.1 502.7,459.3 510.3,458.3 517.9,456.0 525.5,454.3 533.1,453.3 540.7,452.9 548.3,452.1 555.9,451.3 563.5,450.5 571.1,450.0 578.7,448.3 586.3,445.8 593.9,443.8 601.5,441.1 609.1,438.4 616.7,437.1 624.3,437.0 631.9,436.3 639.5,433.6 647.1,431.0 654.6,426.8 662.2,421.4 669.8,416.7 677.4,410.2" fill="none" stroke="#3aa040" stroke-width="1.3" stroke-dasharray="2.2,1.8"/>
<polyline points="8.9,449.2 16.5,452.6 24.1,453.5 31.7,455.2 39.3,456.4 46.9,460.8 54.5,467.5 62.1,471.8 69.7,477.1 77.3,476.4 84.9,464.1 92.5,461.5 100.1,457.4 107.7,453.2 115.3,449.7 122.9,449.0 130.5,445.4 138.1,449.1 145.6,452.0 153.2,457.7 160.8,474.0 168.4,481.9 176.0,489.2 183.6,492.7 191.2,492.6 198.8,495.6 206.4,500.4 214.0,500.7 221.6,499.6 229.2,500.9 236.8,500.0 244.4,492.9 252.0,490.4 259.6,491.6 267.2,496.2 274.8,493.3 282.4,492.5 290.0,490.2 297.6,490.6 305.2,489.6 312.8,488.5 320.4,491.1 328.0,493.2 335.6,491.9 343.2,491.0 350.8,487.8 358.4,482.7 366.0,480.1 373.6,473.7 381.2,472.0 388.8,470.7 396.4,470.9 403.9,469.2 411.5,466.3 419.1,462.6 426.7,461.8 434.3,460.0 441.9,459.6 449.5,460.6 457.1,441.6 464.7,433.1 472.3,420.3 479.9,408.2 487.5,385.1 495.1,374.4 502.7,369.7 510.3,368.1 517.9,362.3 525.5,360.1 533.1,373.4 540.7,381.8 548.3,393.3 555.9,403.3 563.5,426.5 571.1,436.1 578.7,439.2 586.3,435.9 593.9,437.6 601.5,431.3 609.1,423.6 616.7,418.5 624.3,416.1 631.9,414.5 639.5,406.0 647.1,399.5 654.6,385.7 662.2,371.1 669.8,356.9 677.4,340.1" fill="none" stroke="#d83a5c" stroke-width="1.2"/>
<line x1="541.7" y1="486.7" x2="684.7" y2="409.4" stroke="#111" stroke-width="2.5" stroke-dasharray="27,1.6" stroke-dashoffset="-14"/>
</g>
<path d="M13.5,160.5 H988.5 V549.5 H13.5 Z" fill="none" stroke="#a4a4bc" stroke-width="1"/>
<text x="1008" text-anchor="end" y="540.9" font-size="8.6" fill="#111">14.0</text>
<line x1="989" x2="991" y1="538.0" y2="538.0" stroke="#888"/>
<text x="1008" text-anchor="end" y="523.5" font-size="8.6" fill="#111">14.5</text>
<line x1="989" x2="991" y1="520.6" y2="520.6" stroke="#888"/>
<text x="1008" text-anchor="end" y="506.6" font-size="8.6" fill="#111">15.0</text>
<line x1="989" x2="991" y1="503.7" y2="503.7" stroke="#888"/>
<text x="1008" text-anchor="end" y="490.3" font-size="8.6" fill="#111">15.5</text>
<line x1="989" x2="991" y1="487.4" y2="487.4" stroke="#888"/>
<text x="1008" text-anchor="end" y="474.5" font-size="8.6" fill="#111">16.0</text>
<line x1="989" x2="991" y1="471.6" y2="471.6" stroke="#888"/>
<text x="1008" text-anchor="end" y="459.2" font-size="8.6" fill="#111">16.5</text>
<line x1="989" x2="991" y1="456.3" y2="456.3" stroke="#888"/>
<text x="1008" text-anchor="end" y="444.4" font-size="8.6" fill="#111">17.0</text>
<line x1="989" x2="991" y1="441.5" y2="441.5" stroke="#888"/>
<text x="1008" text-anchor="end" y="430.0" font-size="8.6" fill="#111">17.5</text>
<line x1="989" x2="991" y1="427.1" y2="427.1" stroke="#888"/>
<text x="1008" text-anchor="end" y="416.0" font-size="8.6" fill="#111">18.0</text>
<line x1="989" x2="991" y1="413.1" y2="413.1" stroke="#888"/>
<text x="1008" text-anchor="end" y="402.4" font-size="8.6" fill="#111">18.5</text>
<line x1="989" x2="991" y1="399.5" y2="399.5" stroke="#888"/>
<text x="1008" text-anchor="end" y="389.1" font-size="8.6" fill="#111">19.0</text>
<line x1="989" x2="991" y1="386.2" y2="386.2" stroke="#888"/>
<text x="1008" text-anchor="end" y="376.2" font-size="8.6" fill="#111">19.5</text>
<line x1="989" x2="991" y1="373.3" y2="373.3" stroke="#888"/>
<text x="1008" text-anchor="end" y="363.6" font-size="8.6" fill="#111">20.0</text>
<line x1="989" x2="991" y1="360.7" y2="360.7" stroke="#888"/>
<text x="1008" text-anchor="end" y="351.3" font-size="8.6" fill="#111">20.5</text>
<line x1="989" x2="991" y1="348.4" y2="348.4" stroke="#888"/>
<text x="1008" text-anchor="end" y="339.4" font-size="8.6" fill="#111">21.0</text>
<line x1="989" x2="991" y1="336.5" y2="336.5" stroke="#888"/>
<text x="1008" text-anchor="end" y="327.7" font-size="8.6" fill="#111">21.5</text>
<line x1="989" x2="991" y1="324.8" y2="324.8" stroke="#888"/>
<text x="1008" text-anchor="end" y="316.2" font-size="8.6" fill="#111">22.0</text>
<line x1="989" x2="991" y1="313.3" y2="313.3" stroke="#888"/>
<text x="1008" text-anchor="end" y="305.1" font-size="8.6" fill="#111">22.5</text>
<line x1="989" x2="991" y1="302.2" y2="302.2" stroke="#888"/>
<text x="1008" text-anchor="end" y="294.1" font-size="8.6" fill="#111">23.0</text>
<line x1="989" x2="991" y1="291.2" y2="291.2" stroke="#888"/>
<text x="1008" text-anchor="end" y="283.4" font-size="8.6" fill="#111">23.5</text>
<line x1="989" x2="991" y1="280.5" y2="280.5" stroke="#888"/>
<text x="1008" text-anchor="end" y="273.0" font-size="8.6" fill="#111">24.0</text>
<line x1="989" x2="991" y1="270.1" y2="270.1" stroke="#888"/>
<text x="1008" text-anchor="end" y="262.7" font-size="8.6" fill="#111">24.5</text>
<line x1="989" x2="991" y1="259.8" y2="259.8" stroke="#888"/>
<text x="1008" text-anchor="end" y="252.7" font-size="8.6" fill="#111">25.0</text>
<line x1="989" x2="991" y1="249.8" y2="249.8" stroke="#888"/>
<text x="1008" text-anchor="end" y="242.8" font-size="8.6" fill="#111">25.5</text>
<line x1="989" x2="991" y1="239.9" y2="239.9" stroke="#888"/>
<text x="1008" text-anchor="end" y="233.2" font-size="8.6" fill="#111">26.0</text>
<line x1="989" x2="991" y1="230.3" y2="230.3" stroke="#888"/>
<text x="1008" text-anchor="end" y="223.7" font-size="8.6" fill="#111">26.5</text>
<line x1="989" x2="991" y1="220.8" y2="220.8" stroke="#888"/>
<text x="1008" text-anchor="end" y="214.4" font-size="8.6" fill="#111">27.0</text>
<line x1="989" x2="991" y1="211.5" y2="211.5" stroke="#888"/>
<text x="1008" text-anchor="end" y="205.3" font-size="8.6" fill="#111">27.5</text>
<line x1="989" x2="991" y1="202.4" y2="202.4" stroke="#888"/>
<text x="1008" text-anchor="end" y="196.3" font-size="8.6" fill="#111">28.0</text>
<line x1="989" x2="991" y1="193.4" y2="193.4" stroke="#888"/>
<text x="1008" text-anchor="end" y="187.5" font-size="8.6" fill="#111">28.5</text>
<line x1="989" x2="991" y1="184.6" y2="184.6" stroke="#888"/>
<text x="1008" text-anchor="end" y="178.9" font-size="8.6" fill="#111">29.0</text>
<line x1="989" x2="991" y1="176.0" y2="176.0" stroke="#888"/>
<path d="M13.1,415.0 h22 v8.6 h-22 z M20.1,423.6 L24.1,427.2 L28.1,423.6 z" fill="#ffffff" fill-opacity="0.85" stroke="none"/>
<rect x="13.6" y="415.5" width="21" height="7.6" fill="none" stroke="#c4c4cc" stroke-width="1"/>
<text x="14.7" y="421.9" font-size="8" font-weight="bold" fill="#1a1a1a" textLength="19" lengthAdjust="spacingAndGlyphs">17.48</text>
<path d="M58.7,421.0 h22 v8.6 h-22 z M65.7,429.6 L69.7,433.2 L73.7,429.6 z" fill="#ffffff" fill-opacity="0.85" stroke="none"/>
<rect x="59.2" y="421.5" width="21" height="7.6" fill="none" stroke="#c4c4cc" stroke-width="1"/>
<text x="60.3" y="427.9" font-size="8" font-weight="bold" fill="#1a1a1a" textLength="19" lengthAdjust="spacingAndGlyphs">17.27</text>
<path d="M73.9,302.9 h22 v8.6 h-22 z M80.9,311.5 L84.9,315.1 L88.9,311.5 z" fill="#ffffff" fill-opacity="0.85" stroke="none"/>
<rect x="74.4" y="303.4" width="21" height="7.6" fill="none" stroke="#c4c4cc" stroke-width="1"/>
<text x="75.5" y="309.8" font-size="8" font-weight="bold" fill="#1a1a1a" textLength="19" lengthAdjust="spacingAndGlyphs">21.90</text>
<path d="M127.1,441.8 h22 v8.6 h-22 z M134.1,450.4 L138.1,454.0 L142.1,450.4 z" fill="#ffffff" fill-opacity="0.85" stroke="none"/>
<rect x="127.6" y="442.3" width="21" height="7.6" fill="none" stroke="#c4c4cc" stroke-width="1"/>
<text x="128.7" y="448.7" font-size="8" font-weight="bold" fill="#1a1a1a" textLength="19" lengthAdjust="spacingAndGlyphs">16.56</text>
<path d="M142.2,478.3 h22 v8.6 h-22 z M149.2,486.9 L153.2,490.5 L157.2,486.9 z" fill="#ffffff" fill-opacity="0.85" stroke="none"/>
<rect x="142.7" y="478.8" width="21" height="7.6" fill="none" stroke="#c4c4cc" stroke-width="1"/>
<text x="143.8" y="485.2" font-size="8" font-weight="bold" fill="#1a1a1a" textLength="19" lengthAdjust="spacingAndGlyphs">15.39</text>
<path d="M157.4,460.5 h22 v8.6 h-22 z M164.4,469.1 L168.4,472.7 L172.4,469.1 z" fill="#ffffff" fill-opacity="0.85" stroke="none"/>
<rect x="157.9" y="461.0" width="21" height="7.6" fill="none" stroke="#c4c4cc" stroke-width="1"/>
<text x="159.0" y="467.4" font-size="8" font-weight="bold" fill="#1a1a1a" textLength="19" lengthAdjust="spacingAndGlyphs">15.95</text>
<path d="M180.2,421.8 h22 v8.6 h-22 z M187.2,430.4 L191.2,434.0 L195.2,430.4 z" fill="#ffffff" fill-opacity="0.85" stroke="none"/>
<rect x="180.7" y="422.3" width="21" height="7.6" fill="none" stroke="#c4c4cc" stroke-width="1"/>
<text x="181.8" y="428.7" font-size="8" font-weight="bold" fill="#1a1a1a" textLength="19" lengthAdjust="spacingAndGlyphs">17.24</text>
<path d="M203.0,466.8 h22 v8.6 h-22 z M210.0,475.4 L214.0,479.0 L218.0,475.4 z" fill="#ffffff" fill-opacity="0.85" stroke="none"/>
<rect x="203.5" y="467.3" width="21" height="7.6" fill="none" stroke="#c4c4cc" stroke-width="1"/>
<text x="204.6" y="473.7" font-size="8" font-weight="bold" fill="#1a1a1a" textLength="19" lengthAdjust="spacingAndGlyphs">15.75</text>
<path d="M233.4,363.7 h22 v8.6 h-22 z M240.4,372.3 L244.4,375.9 L248.4,372.3 z" fill="#ffffff" fill-opacity="0.85" stroke="none"/>
<rect x="233.9" y="364.2" width="21" height="7.6" fill="none" stroke="#c4c4cc" stroke-width="1"/>
<text x="235.0" y="370.6" font-size="8" font-weight="bold" fill="#1a1a1a" textLength="19" lengthAdjust="spacingAndGlyphs">19.38</text>
<path d="M271.4,464.6 h22 v8.6 h-22 z M278.4,473.2 L282.4,476.8 L286.4,473.2 z" fill="#ffffff" fill-opacity="0.85" stroke="none"/>
<rect x="271.9" y="465.1" width="21" height="7.6" fill="none" stroke="#c4c4cc" stroke-width="1"/>
<text x="273.0" y="471.5" font-size="8" font-weight="bold" fill="#1a1a1a" textLength="19" lengthAdjust="spacingAndGlyphs">15.82</text>
<path d="M317.0,436.2 h22 v8.6 h-22 z M324.0,444.8 L328.0,448.4 L332.0,444.8 z" fill="#ffffff" fill-opacity="0.85" stroke="none"/>
<rect x="317.5" y="436.7" width="21" height="7.6" fill="none" stroke="#c4c4cc" stroke-width="1"/>
<text x="318.6" y="443.1" font-size="8" font-weight="bold" fill="#1a1a1a" textLength="19" lengthAdjust="spacingAndGlyphs">16.75</text>
<path d="M362.6,407.6 h22 v8.6 h-22 z M369.6,416.2 L373.6,419.8 L377.6,416.2 z" fill="#ffffff" fill-opacity="0.85" stroke="none"/>
<rect x="363.1" y="408.1" width="21" height="7.6" fill="none" stroke="#c4c4cc" stroke-width="1"/>
<text x="364.2" y="414.5" font-size="8" font-weight="bold" fill="#1a1a1a" textLength="19" lengthAdjust="spacingAndGlyphs">17.74</text>
<path d="M392.9,420.7 h22 v8.6 h-22 z M399.9,429.3 L403.9,432.9 L407.9,429.3 z" fill="#ffffff" fill-opacity="0.85" stroke="none"/>
<rect x="393.4" y="421.2" width="21" height="7.6" fill="none" stroke="#c4c4cc" stroke-width="1"/>
<text x="394.5" y="427.6" font-size="8" font-weight="bold" fill="#1a1a1a" textLength="19" lengthAdjust="spacingAndGlyphs">17.28</text>
<path d="M423.3,413.0 h22 v8.6 h-22 z M430.3,421.6 L434.3,425.2 L438.3,421.6 z" fill="#ffffff" fill-opacity="0.85" stroke="none"/>
<rect x="423.8" y="413.5" width="21" height="7.6" fill="none" stroke="#c4c4cc" stroke-width="1"/>
<text x="424.9" y="419.9" font-size="8" font-weight="bold" fill="#1a1a1a" textLength="19" lengthAdjust="spacingAndGlyphs">17.55</text>
<path d="M446.1,290.8 h22 v8.6 h-22 z M453.1,299.4 L457.1,303.0 L461.1,299.4 z" fill="#ffffff" fill-opacity="0.85" stroke="none"/>
<rect x="446.6" y="291.3" width="21" height="7.6" fill="none" stroke="#c4c4cc" stroke-width="1"/>
<text x="447.7" y="297.7" font-size="8" font-weight="bold" fill="#1a1a1a" textLength="19" lengthAdjust="spacingAndGlyphs">22.44</text>
<path d="M461.3,279.8 h22 v8.6 h-22 z M468.3,288.4 L472.3,292.0 L476.3,288.4 z" fill="#ffffff" fill-opacity="0.85" stroke="none"/>
<rect x="461.8" y="280.3" width="21" height="7.6" fill="none" stroke="#c4c4cc" stroke-width="1"/>
<text x="462.9" y="286.7" font-size="8" font-weight="bold" fill="#1a1a1a" textLength="19" lengthAdjust="spacingAndGlyphs">22.94</text>
<path d="M484.1,163.5 h22 v8.6 h-22 z M491.1,172.1 L495.1,175.7 L499.1,172.1 z" fill="#ffffff" fill-opacity="0.85" stroke="none"/>
<rect x="484.6" y="164.0" width="21" height="7.6" fill="none" stroke="#c4c4cc" stroke-width="1"/>
<text x="485.7" y="170.4" font-size="8" font-weight="bold" fill="#1a1a1a" textLength="19" lengthAdjust="spacingAndGlyphs">28.99</text>
<path d="M506.9,323.5 h22 v8.6 h-22 z M513.9,332.1 L517.9,335.7 L521.9,332.1 z" fill="#ffffff" fill-opacity="0.85" stroke="none"/>
<rect x="507.4" y="324.0" width="21" height="7.6" fill="none" stroke="#c4c4cc" stroke-width="1"/>
<text x="508.5" y="330.4" font-size="8" font-weight="bold" fill="#1a1a1a" textLength="19" lengthAdjust="spacingAndGlyphs">21.01</text>
<path d="M544.9,412.1 h22 v8.6 h-22 z M551.9,420.7 L555.9,424.3 L559.9,420.7 z" fill="#ffffff" fill-opacity="0.85" stroke="none"/>
<rect x="545.4" y="412.6" width="21" height="7.6" fill="none" stroke="#c4c4cc" stroke-width="1"/>
<text x="546.5" y="419.0" font-size="8" font-weight="bold" fill="#1a1a1a" textLength="19" lengthAdjust="spacingAndGlyphs">17.58</text>
<path d="M575.3,336.2 h22 v8.6 h-22 z M582.3,344.8 L586.3,348.4 L590.3,344.8 z" fill="#ffffff" fill-opacity="0.85" stroke="none"/>
<rect x="575.8" y="336.7" width="21" height="7.6" fill="none" stroke="#c4c4cc" stroke-width="1"/>
<text x="576.9" y="343.1" font-size="8" font-weight="bold" fill="#1a1a1a" textLength="19" lengthAdjust="spacingAndGlyphs">20.48</text>
<path d="M598.1,284.6 h22 v8.6 h-22 z M605.1,293.2 L609.1,296.8 L613.1,293.2 z" fill="#ffffff" fill-opacity="0.85" stroke="none"/>
<rect x="598.6" y="285.1" width="21" height="7.6" fill="none" stroke="#c4c4cc" stroke-width="1"/>
<text x="599.7" y="291.5" font-size="8" font-weight="bold" fill="#1a1a1a" textLength="19" lengthAdjust="spacingAndGlyphs">22.72</text>
<path d="M651.2,220.7 h22 v8.6 h-22 z M658.2,229.3 L662.2,232.9 L666.2,229.3 z" fill="#ffffff" fill-opacity="0.85" stroke="none"/>
<rect x="651.7" y="221.2" width="21" height="7.6" fill="none" stroke="#c4c4cc" stroke-width="1"/>
<text x="652.8" y="227.6" font-size="8" font-weight="bold" fill="#1a1a1a" textLength="19" lengthAdjust="spacingAndGlyphs">25.84</text>
<path d="M51.1,517.9 h22 v8.6 h-22 z M58.1,517.9 L62.1,514.3 L66.1,517.9 z" fill="#ffffff" fill-opacity="0.85" stroke="none"/>
<rect x="51.6" y="518.4" width="21" height="7.6" fill="none" stroke="#c4c4cc" stroke-width="1"/>
<text x="52.7" y="524.8" font-size="8" font-weight="bold" fill="#1a1a1a" textLength="19" lengthAdjust="spacingAndGlyphs">14.70</text>
<path d="M111.9,502.9 h22 v8.6 h-22 z M118.9,502.9 L122.9,499.3 L126.9,502.9 z" fill="#ffffff" fill-opacity="0.85" stroke="none"/>
<rect x="112.4" y="503.4" width="21" height="7.6" fill="none" stroke="#c4c4cc" stroke-width="1"/>
<text x="113.5" y="509.8" font-size="8" font-weight="bold" fill="#1a1a1a" textLength="19" lengthAdjust="spacingAndGlyphs">15.15</text>
<path d="M134.6,531.6 h22 v8.6 h-22 z M141.6,531.6 L145.6,528.0 L149.6,531.6 z" fill="#ffffff" fill-opacity="0.85" stroke="none"/>
<rect x="135.1" y="532.1" width="21" height="7.6" fill="none" stroke="#c4c4cc" stroke-width="1"/>
<text x="136.2" y="538.5" font-size="8" font-weight="bold" fill="#1a1a1a" textLength="19" lengthAdjust="spacingAndGlyphs">14.30</text>
<path d="M165.0,515.8 h22 v8.6 h-22 z M172.0,515.8 L176.0,512.2 L180.0,515.8 z" fill="#ffffff" fill-opacity="0.85" stroke="none"/>
<rect x="165.5" y="516.3" width="21" height="7.6" fill="none" stroke="#c4c4cc" stroke-width="1"/>
<text x="166.6" y="522.7" font-size="8" font-weight="bold" fill="#1a1a1a" textLength="19" lengthAdjust="spacingAndGlyphs">14.76</text>
<path d="M187.8,534.7 h22 v8.6 h-22 z M194.8,534.7 L198.8,531.1 L202.8,534.7 z" fill="#ffffff" fill-opacity="0.85" stroke="none"/>
<rect x="188.3" y="535.2" width="21" height="7.6" fill="none" stroke="#c4c4cc" stroke-width="1"/>
<text x="189.4" y="541.6" font-size="8" font-weight="bold" fill="#1a1a1a" textLength="19" lengthAdjust="spacingAndGlyphs">14.21</text>
<path d="M218.2,537.9 h22 v8.6 h-22 z M225.2,537.9 L229.2,534.3 L233.2,537.9 z" fill="#ffffff" fill-opacity="0.85" stroke="none"/>
<rect x="218.7" y="538.4" width="21" height="7.6" fill="none" stroke="#c4c4cc" stroke-width="1"/>
<text x="219.8" y="544.8" font-size="8" font-weight="bold" fill="#1a1a1a" textLength="19" lengthAdjust="spacingAndGlyphs">14.12</text>
<path d="M256.2,516.5 h22 v8.6 h-22 z M263.2,516.5 L267.2,512.9 L271.2,516.5 z" fill="#ffffff" fill-opacity="0.85" stroke="none"/>
<rect x="256.7" y="517.0" width="21" height="7.6" fill="none" stroke="#c4c4cc" stroke-width="1"/>
<text x="257.8" y="523.4" font-size="8" font-weight="bold" fill="#1a1a1a" textLength="19" lengthAdjust="spacingAndGlyphs">14.74</text>
<path d="M294.2,527.8 h22 v8.6 h-22 z M301.2,527.8 L305.2,524.2 L309.2,527.8 z" fill="#ffffff" fill-opacity="0.85" stroke="none"/>
<rect x="294.7" y="528.3" width="21" height="7.6" fill="none" stroke="#c4c4cc" stroke-width="1"/>
<text x="295.8" y="534.7" font-size="8" font-weight="bold" fill="#1a1a1a" textLength="19" lengthAdjust="spacingAndGlyphs">14.41</text>
<path d="M324.6,530.5 h22 v8.6 h-22 z M331.6,530.5 L335.6,526.9 L339.6,530.5 z" fill="#ffffff" fill-opacity="0.85" stroke="none"/>
<rect x="325.1" y="531.0" width="21" height="7.6" fill="none" stroke="#c4c4cc" stroke-width="1"/>
<text x="326.2" y="537.4" font-size="8" font-weight="bold" fill="#1a1a1a" textLength="19" lengthAdjust="spacingAndGlyphs">14.33</text>
<path d="M370.2,498.3 h22 v8.6 h-22 z M377.2,498.3 L381.2,494.7 L385.2,498.3 z" fill="#ffffff" fill-opacity="0.85" stroke="none"/>
<rect x="370.7" y="498.8" width="21" height="7.6" fill="none" stroke="#c4c4cc" stroke-width="1"/>
<text x="371.8" y="505.2" font-size="8" font-weight="bold" fill="#1a1a1a" textLength="19" lengthAdjust="spacingAndGlyphs">15.29</text>
<path d="M400.5,477.9 h22 v8.6 h-22 z M407.5,477.9 L411.5,474.3 L415.5,477.9 z" fill="#ffffff" fill-opacity="0.85" stroke="none"/>
<rect x="401.0" y="478.4" width="21" height="7.6" fill="none" stroke="#c4c4cc" stroke-width="1"/>
<text x="402.1" y="484.8" font-size="8" font-weight="bold" fill="#1a1a1a" textLength="19" lengthAdjust="spacingAndGlyphs">15.93</text>
<path d="M430.9,468.6 h22 v8.6 h-22 z M437.9,468.6 L441.9,465.0 L445.9,468.6 z" fill="#ffffff" fill-opacity="0.85" stroke="none"/>
<rect x="431.4" y="469.1" width="21" height="7.6" fill="none" stroke="#c4c4cc" stroke-width="1"/>
<text x="432.5" y="475.5" font-size="8" font-weight="bold" fill="#1a1a1a" textLength="19" lengthAdjust="spacingAndGlyphs">16.23</text>
<path d="M468.9,387.4 h22 v8.6 h-22 z M475.9,387.4 L479.9,383.8 L483.9,387.4 z" fill="#ffffff" fill-opacity="0.85" stroke="none"/>
<rect x="469.4" y="387.9" width="21" height="7.6" fill="none" stroke="#c4c4cc" stroke-width="1"/>
<text x="470.5" y="394.3" font-size="8" font-weight="bold" fill="#1a1a1a" textLength="19" lengthAdjust="spacingAndGlyphs">19.11</text>
<path d="M499.3,434.0 h22 v8.6 h-22 z M506.3,434.0 L510.3,430.4 L514.3,434.0 z" fill="#ffffff" fill-opacity="0.85" stroke="none"/>
<rect x="499.8" y="434.5" width="21" height="7.6" fill="none" stroke="#c4c4cc" stroke-width="1"/>
<text x="500.9" y="440.9" font-size="8" font-weight="bold" fill="#1a1a1a" textLength="19" lengthAdjust="spacingAndGlyphs">17.40</text>
<path d="M529.7,487.7 h22 v8.6 h-22 z M536.7,487.7 L540.7,484.1 L544.7,487.7 z" fill="#ffffff" fill-opacity="0.85" stroke="none"/>
<rect x="530.2" y="488.2" width="21" height="7.6" fill="none" stroke="#c4c4cc" stroke-width="1"/>
<text x="531.3" y="494.6" font-size="8" font-weight="bold" fill="#1a1a1a" textLength="19" lengthAdjust="spacingAndGlyphs">15.62</text>
<path d="M552.5,484.2 h22 v8.6 h-22 z M559.5,484.2 L563.5,480.6 L567.5,484.2 z" fill="#ffffff" fill-opacity="0.85" stroke="none"/>
<rect x="553.0" y="484.7" width="21" height="7.6" fill="none" stroke="#c4c4cc" stroke-width="1"/>
<text x="554.1" y="491.1" font-size="8" font-weight="bold" fill="#1a1a1a" textLength="19" lengthAdjust="spacingAndGlyphs">15.73</text>
<path d="M582.9,436.6 h22 v8.6 h-22 z M589.9,436.6 L593.9,433.0 L597.9,436.6 z" fill="#ffffff" fill-opacity="0.85" stroke="none"/>
<rect x="583.4" y="437.1" width="21" height="7.6" fill="none" stroke="#c4c4cc" stroke-width="1"/>
<text x="584.5" y="443.5" font-size="8" font-weight="bold" fill="#1a1a1a" textLength="19" lengthAdjust="spacingAndGlyphs">17.31</text>
<path d="M620.9,442.7 h22 v8.6 h-22 z M627.9,442.7 L631.9,439.1 L635.9,442.7 z" fill="#ffffff" fill-opacity="0.85" stroke="none"/>
<rect x="621.4" y="443.2" width="21" height="7.6" fill="none" stroke="#c4c4cc" stroke-width="1"/>
<text x="622.5" y="449.6" font-size="8" font-weight="bold" fill="#1a1a1a" textLength="19" lengthAdjust="spacingAndGlyphs">17.10</text>
<rect x="744.5" y="249.5" width="158" height="27.5" fill="#fff" stroke="#9a9a9a" stroke-width="1"/>
<line x1="745" y1="278" x2="903.5" y2="278" stroke="#b8b8c0" stroke-width="1"/><line x1="903.5" y1="250" x2="903.5" y2="278" stroke="#b8b8c0" stroke-width="1"/>
<text x="746.5" y="269.2" font-size="18.3" fill="#111" textLength="145.5" lengthAdjust="spacingAndGlyphs">VIX - Daily, 4mth</text>
<rect x="14" y="161" width="97" height="36" fill="#d8d8e8"/><rect x="14" y="170" width="125" height="9" fill="#d8d8e8"/>
<text x="25.5" y="168.7" font-size="7.6" fill="#222" textLength="83.5" lengthAdjust="spacingAndGlyphs">$VIX (Daily) 26.42</text>
<path d="M15,168 v-5 h2 v5 z M18,168 v-5 h3 v5 z" fill="#111"/>
<text x="24.4" y="177.6" font-size="7.6" fill="#222" textLength="112.8" lengthAdjust="spacingAndGlyphs">BB(20,2.0) 13.29 - 19.10 - 24.91</text>
<path d="M15,177 l3,-5 l2,2 l3,-2 v5 z" fill="#909090"/>
<line x1="15" x2="23" y1="183.5" y2="183.5" stroke="#e0204a" stroke-width="1.5"/>
<text x="24.4" y="186.2" font-size="7.6" fill="#e0204a" textLength="47.8" lengthAdjust="spacingAndGlyphs">MA(10) 20.85</text>
<line x1="15" x2="23" y1="192.5" y2="192.5" stroke="#2f7f3a" stroke-width="1.5"/>
<text x="24.4" y="195.3" font-size="7.6" fill="#2f7f3a" textLength="47.8" lengthAdjust="spacingAndGlyphs">MA(50) 18.10</text>
<polygon points="986.4,222.3 990,217.6 1013.6,217.6 1013.6,227.0 990,227.0" fill="#fff" stroke="#000" stroke-width="1"/>
<text x="990.6" y="225.2" font-size="8.2" font-weight="bold" fill="#111" textLength="21.5" lengthAdjust="spacingAndGlyphs">26.42</text>
<polygon points="986.4,251.6 990,246.9 1013.6,246.9 1013.6,256.3 990,256.3" fill="#fff" stroke="#000" stroke-width="1"/>
<text x="990.6" y="254.5" font-size="8.2" fill="#111" textLength="21.5" lengthAdjust="spacingAndGlyphs">24.91</text>
<polygon points="986.4,340.0 990,335.3 1013.6,335.3 1013.6,344.7 990,344.7" fill="#fff" stroke="#e0204a" stroke-width="1"/>
<text x="990.6" y="342.9" font-size="8.2" fill="#111" textLength="21.5" lengthAdjust="spacingAndGlyphs">20.85</text>
<polygon points="986.4,383.6 990,378.9 1013.6,378.9 1013.6,388.3 990,388.3" fill="#fff" stroke="#000" stroke-width="1"/>
<text x="990.6" y="386.5" font-size="8.2" fill="#111" textLength="21.5" lengthAdjust="spacingAndGlyphs">19.10</text>
<polygon points="986.4,410.3 990,405.6 1013.6,405.6 1013.6,415.0 990,415.0" fill="#fff" stroke="#2f7f3a" stroke-width="1"/>
<text x="990.6" y="413.2" font-size="8.2" fill="#111" textLength="21.5" lengthAdjust="spacingAndGlyphs">18.10</text>
<line x1="16.5" x2="16.5" y1="550" y2="551.5" stroke="#b8b8b8" stroke-width="1"/>
<line x1="16.5" x2="16.5" y1="559.5" y2="561" stroke="#b8b8b8" stroke-width="1"/>
<line x1="24.5" x2="24.5" y1="550" y2="551.5" stroke="#b8b8b8" stroke-width="1"/>
<line x1="24.5" x2="24.5" y1="559.5" y2="561" stroke="#b8b8b8" stroke-width="1"/>
<line x1="32.5" x2="32.5" y1="550" y2="551.5" stroke="#b8b8b8" stroke-width="1"/>
<line x1="32.5" x2="32.5" y1="559.5" y2="561" stroke="#b8b8b8" stroke-width="1"/>
<line x1="39.5" x2="39.5" y1="550" y2="551.5" stroke="#b8b8b8" stroke-width="1"/>
<line x1="39.5" x2="39.5" y1="559.5" y2="561" stroke="#b8b8b8" stroke-width="1"/>
<line x1="47.5" x2="47.5" y1="550" y2="551.5" stroke="#b8b8b8" stroke-width="1"/>
<line x1="47.5" x2="47.5" y1="559.5" y2="561" stroke="#b8b8b8" stroke-width="1"/>
<line x1="54.5" x2="54.5" y1="550" y2="551.5" stroke="#b8b8b8" stroke-width="1"/>
<line x1="54.5" x2="54.5" y1="559.5" y2="561" stroke="#b8b8b8" stroke-width="1"/>
<line x1="62.5" x2="62.5" y1="550" y2="551.5" stroke="#b8b8b8" stroke-width="1"/>
<line x1="62.5" x2="62.5" y1="559.5" y2="561" stroke="#b8b8b8" stroke-width="1"/>
<line x1="70.5" x2="70.5" y1="550" y2="551.5" stroke="#b8b8b8" stroke-width="1"/>
<line x1="70.5" x2="70.5" y1="559.5" y2="561" stroke="#b8b8b8" stroke-width="1"/>
<line x1="77.5" x2="77.5" y1="550" y2="551.5" stroke="#b8b8b8" stroke-width="1"/>
<line x1="77.5" x2="77.5" y1="559.5" y2="561" stroke="#b8b8b8" stroke-width="1"/>
<line x1="85.5" x2="85.5" y1="550" y2="551.5" stroke="#b8b8b8" stroke-width="1"/>
<line x1="85.5" x2="85.5" y1="559.5" y2="561" stroke="#b8b8b8" stroke-width="1"/>
<line x1="92.5" x2="92.5" y1="550" y2="551.5" stroke="#b8b8b8" stroke-width="1"/>
<line x1="92.5" x2="92.5" y1="559.5" y2="561" stroke="#b8b8b8" stroke-width="1"/>
<line x1="100.5" x2="100.5" y1="550" y2="551.5" stroke="#b8b8b8" stroke-width="1"/>
<line x1="100.5" x2="100.5" y1="559.5" y2="561" stroke="#b8b8b8" stroke-width="1"/>
<line x1="108.5" x2="108.5" y1="550" y2="551.5" stroke="#b8b8b8" stroke-width="1"/>
<line x1="108.5" x2="108.5" y1="559.5" y2="561" stroke="#b8b8b8" stroke-width="1"/>
<line x1="115.5" x2="115.5" y1="550" y2="551.5" stroke="#b8b8b8" stroke-width="1"/>
<line x1="115.5" x2="115.5" y1="559.5" y2="561" stroke="#b8b8b8" stroke-width="1"/>
<line x1="123.5" x2="123.5" y1="550" y2="551.5" stroke="#b8b8b8" stroke-width="1"/>
<line x1="123.5" x2="123.5" y1="559.5" y2="561" stroke="#b8b8b8" stroke-width="1"/>
<line x1="130.5" x2="130.5" y1="550" y2="551.5" stroke="#b8b8b8" stroke-width="1"/>
<line x1="130.5" x2="130.5" y1="559.5" y2="561" stroke="#b8b8b8" stroke-width="1"/>
<line x1="138.5" x2="138.5" y1="550" y2="551.5" stroke="#b8b8b8" stroke-width="1"/>
<line x1="138.5" x2="138.5" y1="559.5" y2="561" stroke="#b8b8b8" stroke-width="1"/>
<line x1="146.5" x2="146.5" y1="550" y2="551.5" stroke="#b8b8b8" stroke-width="1"/>
<line x1="146.5" x2="146.5" y1="559.5" y2="561" stroke="#b8b8b8" stroke-width="1"/>
<line x1="153.5" x2="153.5" y1="550" y2="551.5" stroke="#b8b8b8" stroke-width="1"/>
<line x1="153.5" x2="153.5" y1="559.5" y2="561" stroke="#b8b8b8" stroke-width="1"/>
<line x1="161.5" x2="161.5" y1="550" y2="551.5" stroke="#b8b8b8" stroke-width="1"/>
<line x1="161.5" x2="161.5" y1="559.5" y2="561" stroke="#b8b8b8" stroke-width="1"/>
<line x1="168.5" x2="168.5" y1="550" y2="551.5" stroke="#b8b8b8" stroke-width="1"/>
<line x1="168.5" x2="168.5" y1="559.5" y2="561" stroke="#b8b8b8" stroke-width="1"/>
<line x1="176.5" x2="176.5" y1="550" y2="551.5" stroke="#b8b8b8" stroke-width="1"/>
<line x1="176.5" x2="176.5" y1="559.5" y2="561" stroke="#b8b8b8" stroke-width="1"/>
<line x1="184.5" x2="184.5" y1="550" y2="551.5" stroke="#b8b8b8" stroke-width="1"/>
<line x1="184.5" x2="184.5" y1="559.5" y2="561" stroke="#b8b8b8" stroke-width="1"/>
<line x1="191.5" x2="191.5" y1="550" y2="551.5" stroke="#b8b8b8" stroke-width="1"/>
<line x1="191.5" x2="191.5" y1="559.5" y2="561" stroke="#b8b8b8" stroke-width="1"/>
<line x1="199.5" x2="199.5" y1="550" y2="551.5" stroke="#b8b8b8" stroke-width="1"/>
<line x1="199.5" x2="199.5" y1="559.5" y2="561" stroke="#b8b8b8" stroke-width="1"/>
<line x1="206.5" x2="206.5" y1="550" y2="551.5" stroke="#b8b8b8" stroke-width="1"/>
<line x1="206.5" x2="206.5" y1="559.5" y2="561" stroke="#b8b8b8" stroke-width="1"/>
<line x1="214.5" x2="214.5" y1="550" y2="551.5" stroke="#b8b8b8" stroke-width="1"/>
<line x1="214.5" x2="214.5" y1="559.5" y2="561" stroke="#b8b8b8" stroke-width="1"/>
<line x1="222.5" x2="222.5" y1="550" y2="551.5" stroke="#b8b8b8" stroke-width="1"/>
<line x1="222.5" x2="222.5" y1="559.5" y2="561" stroke="#b8b8b8" stroke-width="1"/>
<line x1="229.5" x2="229.5" y1="550" y2="551.5" stroke="#b8b8b8" stroke-width="1"/>
<line x1="229.5" x2="229.5" y1="559.5" y2="561" stroke="#b8b8b8" stroke-width="1"/>
<line x1="237.5" x2="237.5" y1="550" y2="551.5" stroke="#b8b8b8" stroke-width="1"/>
<line x1="237.5" x2="237.5" y1="559.5" y2="561" stroke="#b8b8b8" stroke-width="1"/>
<line x1="244.5" x2="244.5" y1="550" y2="551.5" stroke="#b8b8b8" stroke-width="1"/>
<line x1="244.5" x2="244.5" y1="559.5" y2="561" stroke="#b8b8b8" stroke-width="1"/>
<line x1="252.5" x2="252.5" y1="550" y2="551.5" stroke="#b8b8b8" stroke-width="1"/>
<line x1="252.5" x2="252.5" y1="559.5" y2="561" stroke="#b8b8b8" stroke-width="1"/>
<line x1="260.5" x2="260.5" y1="550" y2="551.5" stroke="#b8b8b8" stroke-width="1"/>
<line x1="260.5" x2="260.5" y1="559.5" y2="561" stroke="#b8b8b8" stroke-width="1"/>
<line x1="267.5" x2="267.5" y1="550" y2="551.5" stroke="#b8b8b8" stroke-width="1"/>
<line x1="267.5" x2="267.5" y1="559.5" y2="561" stroke="#b8b8b8" stroke-width="1"/>
<line x1="275.5" x2="275.5" y1="550" y2="551.5" stroke="#b8b8b8" stroke-width="1"/>
<line x1="275.5" x2="275.5" y1="559.5" y2="561" stroke="#b8b8b8" stroke-width="1"/>
<line x1="282.5" x2="282.5" y1="550" y2="551.5" stroke="#b8b8b8" stroke-width="1"/>
<line x1="282.5" x2="282.5" y1="559.5" y2="561" stroke="#b8b8b8" stroke-width="1"/>
<line x1="290.5" x2="290.5" y1="550" y2="551.5" stroke="#b8b8b8" stroke-width="1"/>
<line x1="290.5" x2="290.5" y1="559.5" y2="561" stroke="#b8b8b8" stroke-width="1"/>
<line x1="298.5" x2="298.5" y1="550" y2="551.5" stroke="#b8b8b8" stroke-width="1"/>
<line x1="298.5" x2="298.5" y1="559.5" y2="561" stroke="#b8b8b8" stroke-width="1"/>
<line x1="305.5" x2="305.5" y1="550" y2="551.5" stroke="#b8b8b8" stroke-width="1"/>
<line x1="305.5" x2="305.5" y1="559.5" y2="561" stroke="#b8b8b8" stroke-width="1"/>
<line x1="313.5" x2="313.5" y1="550" y2="551.5" stroke="#b8b8b8" stroke-width="1"/>
<line x1="313.5" x2="313.5" y1="559.5" y2="561" stroke="#b8b8b8" stroke-width="1"/>
<line x1="320.5" x2="320.5" y1="550" y2="551.5" stroke="#b8b8b8" stroke-width="1"/>
<line x1="320.5" x2="320.5" y1="559.5" y2="561" stroke="#b8b8b8" stroke-width="1"/>
<line x1="328.5" x2="328.5" y1="550" y2="551.5" stroke="#b8b8b8" stroke-width="1"/>
<line x1="328.5" x2="328.5" y1="559.5" y2="561" stroke="#b8b8b8" stroke-width="1"/>
<line x1="336.5" x2="336.5" y1="550" y2="551.5" stroke="#b8b8b8" stroke-width="1"/>
<line x1="336.5" x2="336.5" y1="559.5" y2="561" stroke="#b8b8b8" stroke-width="1"/>
<line x1="343.5" x2="343.5" y1="550" y2="551.5" stroke="#b8b8b8" stroke-width="1"/>
<line x1="343.5" x2="343.5" y1="559.5" y2="561" stroke="#b8b8b8" stroke-width="1"/>
<line x1="351.5" x2="351.5" y1="550" y2="551.5" stroke="#b8b8b8" stroke-width="1"/>
<line x1="351.5" x2="351.5" y1="559.5" y2="561" stroke="#b8b8b8" stroke-width="1"/>
<line x1="358.5" x2="358.5" y1="550" y2="551.5" stroke="#b8b8b8" stroke-width="1"/>
<line x1="358.5" x2="358.5" y1="559.5" y2="561" stroke="#b8b8b8" stroke-width="1"/>
<line x1="366.5" x2="366.5" y1="550" y2="551.5" stroke="#b8b8b8" stroke-width="1"/>
<line x1="366.5" x2="366.5" y1="559.5" y2="561" stroke="#b8b8b8" stroke-width="1"/>
<line x1="374.5" x2="374.5" y1="550" y2="551.5" stroke="#b8b8b8" stroke-width="1"/>
<line x1="374.5" x2="374.5" y1="559.5" y2="561" stroke="#b8b8b8" stroke-width="1"/>
<line x1="381.5" x2="381.5" y1="550" y2="551.5" stroke="#b8b8b8" stroke-width="1"/>
<line x1="381.5" x2="381.5" y1="559.5" y2="561" stroke="#b8b8b8" stroke-width="1"/>
<line x1="389.5" x2="389.5" y1="550" y2="551.5" stroke="#b8b8b8" stroke-width="1"/>
<line x1="389.5" x2="389.5" y1="559.5" y2="561" stroke="#b8b8b8" stroke-width="1"/>
<line x1="396.5" x2="396.5" y1="550" y2="551.5" stroke="#b8b8b8" stroke-width="1"/>
<line x1="396.5" x2="396.5" y1="559.5" y2="561" stroke="#b8b8b8" stroke-width="1"/>
<line x1="404.5" x2="404.5" y1="550" y2="551.5" stroke="#b8b8b8" stroke-width="1"/>
<line x1="404.5" x2="404.5" y1="559.5" y2="561" stroke="#b8b8b8" stroke-width="1"/>
<line x1="412.5" x2="412.5" y1="550" y2="551.5" stroke="#b8b8b8" stroke-width="1"/>
<line x1="412.5" x2="412.5" y1="559.5" y2="561" stroke="#b8b8b8" stroke-width="1"/>
<line x1="419.5" x2="419.5" y1="550" y2="551.5" stroke="#b8b8b8" stroke-width="1"/>
<line x1="419.5" x2="419.5" y1="559.5" y2="561" stroke="#b8b8b8" stroke-width="1"/>
<line x1="427.5" x2="427.5" y1="550" y2="551.5" stroke="#b8b8b8" stroke-width="1"/>
<line x1="427.5" x2="427.5" y1="559.5" y2="561" stroke="#b8b8b8" stroke-width="1"/>
<line x1="434.5" x2="434.5" y1="550" y2="551.5" stroke="#b8b8b8" stroke-width="1"/>
<line x1="434.5" x2="434.5" y1="559.5" y2="561" stroke="#b8b8b8" stroke-width="1"/>
<line x1="442.5" x2="442.5" y1="550" y2="551.5" stroke="#b8b8b8" stroke-width="1"/>
<line x1="442.5" x2="442.5" y1="559.5" y2="561" stroke="#b8b8b8" stroke-width="1"/>
<line x1="450.5" x2="450.5" y1="550" y2="551.5" stroke="#b8b8b8" stroke-width="1"/>
<line x1="450.5" x2="450.5" y1="559.5" y2="561" stroke="#b8b8b8" stroke-width="1"/>
<line x1="457.5" x2="457.5" y1="550" y2="551.5" stroke="#b8b8b8" stroke-width="1"/>
<line x1="457.5" x2="457.5" y1="559.5" y2="561" stroke="#b8b8b8" stroke-width="1"/>
<line x1="465.5" x2="465.5" y1="550" y2="551.5" stroke="#b8b8b8" stroke-width="1"/>
<line x1="465.5" x2="465.5" y1="559.5" y2="561" stroke="#b8b8b8" stroke-width="1"/>
<line x1="472.5" x2="472.5" y1="550" y2="551.5" stroke="#b8b8b8" stroke-width="1"/>
<line x1="472.5" x2="472.5" y1="559.5" y2="561" stroke="#b8b8b8" stroke-width="1"/>
<line x1="480.5" x2="480.5" y1="550" y2="551.5" stroke="#b8b8b8" stroke-width="1"/>
<line x1="480.5" x2="480.5" y1="559.5" y2="561" stroke="#b8b8b8" stroke-width="1"/>
<line x1="488.5" x2="488.5" y1="550" y2="551.5" stroke="#b8b8b8" stroke-width="1"/>
<line x1="488.5" x2="488.5" y1="559.5" y2="561" stroke="#b8b8b8" stroke-width="1"/>
<line x1="495.5" x2="495.5" y1="550" y2="551.5" stroke="#b8b8b8" stroke-width="1"/>
<line x1="495.5" x2="495.5" y1="559.5" y2="561" stroke="#b8b8b8" stroke-width="1"/>
<line x1="503.5" x2="503.5" y1="550" y2="551.5" stroke="#b8b8b8" stroke-width="1"/>
<line x1="503.5" x2="503.5" y1="559.5" y2="561" stroke="#b8b8b8" stroke-width="1"/>
<line x1="510.5" x2="510.5" y1="550" y2="551.5" stroke="#b8b8b8" stroke-width="1"/>
<line x1="510.5" x2="510.5" y1="559.5" y2="561" stroke="#b8b8b8" stroke-width="1"/>
<line x1="518.5" x2="518.5" y1="550" y2="551.5" stroke="#b8b8b8" stroke-width="1"/>
<line x1="518.5" x2="518.5" y1="559.5" y2="561" stroke="#b8b8b8" stroke-width="1"/>
<line x1="525.5" x2="525.5" y1="550" y2="551.5" stroke="#b8b8b8" stroke-width="1"/>
<line x1="525.5" x2="525.5" y1="559.5" y2="561" stroke="#b8b8b8" stroke-width="1"/>
<line x1="533.5" x2="533.5" y1="550" y2="551.5" stroke="#b8b8b8" stroke-width="1"/>
<line x1="533.5" x2="533.5" y1="559.5" y2="561" stroke="#b8b8b8" stroke-width="1"/>
<line x1="541.5" x2="541.5" y1="550" y2="551.5" stroke="#b8b8b8" stroke-width="1"/>
<line x1="541.5" x2="541.5" y1="559.5" y2="561" stroke="#b8b8b8" stroke-width="1"/>
<line x1="548.5" x2="548.5" y1="550" y2="551.5" stroke="#b8b8b8" stroke-width="1"/>
<line x1="548.5" x2="548.5" y1="559.5" y2="561" stroke="#b8b8b8" stroke-width="1"/>
<line x1="556.5" x2="556.5" y1="550" y2="551.5" stroke="#b8b8b8" stroke-width="1"/>
<line x1="556.5" x2="556.5" y1="559.5" y2="561" stroke="#b8b8b8" stroke-width="1"/>
<line x1="563.5" x2="563.5" y1="550" y2="551.5" stroke="#b8b8b8" stroke-width="1"/>
<line x1="563.5" x2="563.5" y1="559.5" y2="561" stroke="#b8b8b8" stroke-width="1"/>
<line x1="571.5" x2="571.5" y1="550" y2="551.5" stroke="#b8b8b8" stroke-width="1"/>
<line x1="571.5" x2="571.5" y1="559.5" y2="561" stroke="#b8b8b8" stroke-width="1"/>
<line x1="579.5" x2="579.5" y1="550" y2="551.5" stroke="#b8b8b8" stroke-width="1"/>
<line x1="579.5" x2="579.5" y1="559.5" y2="561" stroke="#b8b8b8" stroke-width="1"/>
<line x1="586.5" x2="586.5" y1="550" y2="551.5" stroke="#b8b8b8" stroke-width="1"/>
<line x1="586.5" x2="586.5" y1="559.5" y2="561" stroke="#b8b8b8" stroke-width="1"/>
<line x1="594.5" x2="594.5" y1="550" y2="551.5" stroke="#b8b8b8" stroke-width="1"/>
<line x1="594.5" x2="594.5" y1="559.5" y2="561" stroke="#b8b8b8" stroke-width="1"/>
<line x1="601.5" x2="601.5" y1="550" y2="551.5" stroke="#b8b8b8" stroke-width="1"/>
<line x1="601.5" x2="601.5" y1="559.5" y2="561" stroke="#b8b8b8" stroke-width="1"/>
<line x1="609.5" x2="609.5" y1="550" y2="551.5" stroke="#b8b8b8" stroke-width="1"/>
<line x1="609.5" x2="609.5" y1="559.5" y2="561" stroke="#b8b8b8" stroke-width="1"/>
<line x1="617.5" x2="617.5" y1="550" y2="551.5" stroke="#b8b8b8" stroke-width="1"/>
<line x1="617.5" x2="617.5" y1="559.5" y2="561" stroke="#b8b8b8" stroke-width="1"/>
<line x1="624.5" x2="624.5" y1="550" y2="551.5" stroke="#b8b8b8" stroke-width="1"/>
<line x1="624.5" x2="624.5" y1="559.5" y2="561" stroke="#b8b8b8" stroke-width="1"/>
<line x1="632.5" x2="632.5" y1="550" y2="551.5" stroke="#b8b8b8" stroke-width="1"/>
<line x1="632.5" x2="632.5" y1="559.5" y2="561" stroke="#b8b8b8" stroke-width="1"/>
<line x1="639.5" x2="639.5" y1="550" y2="551.5" stroke="#b8b8b8" stroke-width="1"/>
<line x1="639.5" x2="639.5" y1="559.5" y2="561" stroke="#b8b8b8" stroke-width="1"/>
<line x1="647.5" x2="647.5" y1="550" y2="551.5" stroke="#b8b8b8" stroke-width="1"/>
<line x1="647.5" x2="647.5" y1="559.5" y2="561" stroke="#b8b8b8" stroke-width="1"/>
<line x1="655.5" x2="655.5" y1="550" y2="551.5" stroke="#b8b8b8" stroke-width="1"/>
<line x1="655.5" x2="655.5" y1="559.5" y2="561" stroke="#b8b8b8" stroke-width="1"/>
<line x1="662.5" x2="662.5" y1="550" y2="551.5" stroke="#b8b8b8" stroke-width="1"/>
<line x1="662.5" x2="662.5" y1="559.5" y2="561" stroke="#b8b8b8" stroke-width="1"/>
<line x1="670.5" x2="670.5" y1="550" y2="551.5" stroke="#b8b8b8" stroke-width="1"/>
<line x1="670.5" x2="670.5" y1="559.5" y2="561" stroke="#b8b8b8" stroke-width="1"/>
<line x1="677.5" x2="677.5" y1="550" y2="551.5" stroke="#b8b8b8" stroke-width="1"/>
<line x1="677.5" x2="677.5" y1="559.5" y2="561" stroke="#b8b8b8" stroke-width="1"/>
<line x1="685.5" x2="685.5" y1="550" y2="551.5" stroke="#b8b8b8" stroke-width="1"/>
<line x1="685.5" x2="685.5" y1="559.5" y2="561" stroke="#b8b8b8" stroke-width="1"/>
<line x1="693.5" x2="693.5" y1="550" y2="551.5" stroke="#b8b8b8" stroke-width="1"/>
<line x1="693.5" x2="693.5" y1="559.5" y2="561" stroke="#b8b8b8" stroke-width="1"/>
<line x1="700.5" x2="700.5" y1="550" y2="551.5" stroke="#b8b8b8" stroke-width="1"/>
<line x1="700.5" x2="700.5" y1="559.5" y2="561" stroke="#b8b8b8" stroke-width="1"/>
<line x1="708.5" x2="708.5" y1="550" y2="551.5" stroke="#b8b8b8" stroke-width="1"/>
<line x1="708.5" x2="708.5" y1="559.5" y2="561" stroke="#b8b8b8" stroke-width="1"/>
<line x1="715.5" x2="715.5" y1="550" y2="551.5" stroke="#b8b8b8" stroke-width="1"/>
<line x1="715.5" x2="715.5" y1="559.5" y2="561" stroke="#b8b8b8" stroke-width="1"/>
<line x1="723.5" x2="723.5" y1="550" y2="551.5" stroke="#b8b8b8" stroke-width="1"/>
<line x1="723.5" x2="723.5" y1="559.5" y2="561" stroke="#b8b8b8" stroke-width="1"/>
<line x1="731.5" x2="731.5" y1="550" y2="551.5" stroke="#b8b8b8" stroke-width="1"/>
<line x1="731.5" x2="731.5" y1="559.5" y2="561" stroke="#b8b8b8" stroke-width="1"/>
<line x1="738.5" x2="738.5" y1="550" y2="551.5" stroke="#b8b8b8" stroke-width="1"/>
<line x1="738.5" x2="738.5" y1="559.5" y2="561" stroke="#b8b8b8" stroke-width="1"/>
<line x1="746.5" x2="746.5" y1="550" y2="551.5" stroke="#b8b8b8" stroke-width="1"/>
<line x1="746.5" x2="746.5" y1="559.5" y2="561" stroke="#b8b8b8" stroke-width="1"/>
<line x1="753.5" x2="753.5" y1="550" y2="551.5" stroke="#b8b8b8" stroke-width="1"/>
<line x1="753.5" x2="753.5" y1="559.5" y2="561" stroke="#b8b8b8" stroke-width="1"/>
<line x1="761.5" x2="761.5" y1="550" y2="551.5" stroke="#b8b8b8" stroke-width="1"/>
<line x1="761.5" x2="761.5" y1="559.5" y2="561" stroke="#b8b8b8" stroke-width="1"/>
<line x1="769.5" x2="769.5" y1="550" y2="551.5" stroke="#b8b8b8" stroke-width="1"/>
<line x1="769.5" x2="769.5" y1="559.5" y2="561" stroke="#b8b8b8" stroke-width="1"/>
<line x1="776.5" x2="776.5" y1="550" y2="551.5" stroke="#b8b8b8" stroke-width="1"/>
<line x1="776.5" x2="776.5" y1="559.5" y2="561" stroke="#b8b8b8" stroke-width="1"/>
<line x1="784.5" x2="784.5" y1="550" y2="551.5" stroke="#b8b8b8" stroke-width="1"/>
<line x1="784.5" x2="784.5" y1="559.5" y2="561" stroke="#b8b8b8" stroke-width="1"/>
<line x1="791.5" x2="791.5" y1="550" y2="551.5" stroke="#b8b8b8" stroke-width="1"/>
<line x1="791.5" x2="791.5" y1="559.5" y2="561" stroke="#b8b8b8" stroke-width="1"/>
<line x1="799.5" x2="799.5" y1="550" y2="551.5" stroke="#b8b8b8" stroke-width="1"/>
<line x1="799.5" x2="799.5" y1="559.5" y2="561" stroke="#b8b8b8" stroke-width="1"/>
<line x1="807.5" x2="807.5" y1="550" y2="551.5" stroke="#b8b8b8" stroke-width="1"/>
<line x1="807.5" x2="807.5" y1="559.5" y2="561" stroke="#b8b8b8" stroke-width="1"/>
<line x1="814.5" x2="814.5" y1="550" y2="551.5" stroke="#b8b8b8" stroke-width="1"/>
<line x1="814.5" x2="814.5" y1="559.5" y2="561" stroke="#b8b8b8" stroke-width="1"/>
<line x1="822.5" x2="822.5" y1="550" y2="551.5" stroke="#b8b8b8" stroke-width="1"/>
<line x1="822.5" x2="822.5" y1="559.5" y2="561" stroke="#b8b8b8" stroke-width="1"/>
<line x1="829.5" x2="829.5" y1="550" y2="551.5" stroke="#b8b8b8" stroke-width="1"/>
<line x1="829.5" x2="829.5" y1="559.5" y2="561" stroke="#b8b8b8" stroke-width="1"/>
<line x1="837.5" x2="837.5" y1="550" y2="551.5" stroke="#b8b8b8" stroke-width="1"/>
<line x1="837.5" x2="837.5" y1="559.5" y2="561" stroke="#b8b8b8" stroke-width="1"/>
<line x1="845.5" x2="845.5" y1="550" y2="551.5" stroke="#b8b8b8" stroke-width="1"/>
<line x1="845.5" x2="845.5" y1="559.5" y2="561" stroke="#b8b8b8" stroke-width="1"/>
<line x1="852.5" x2="852.5" y1="550" y2="551.5" stroke="#b8b8b8" stroke-width="1"/>
<line x1="852.5" x2="852.5" y1="559.5" y2="561" stroke="#b8b8b8" stroke-width="1"/>
<line x1="860.5" x2="860.5" y1="550" y2="551.5" stroke="#b8b8b8" stroke-width="1"/>
<line x1="860.5" x2="860.5" y1="559.5" y2="561" stroke="#b8b8b8" stroke-width="1"/>
<line x1="867.5" x2="867.5" y1="550" y2="551.5" stroke="#b8b8b8" stroke-width="1"/>
<line x1="867.5" x2="867.5" y1="559.5" y2="561" stroke="#b8b8b8" stroke-width="1"/>
<line x1="875.5" x2="875.5" y1="550" y2="551.5" stroke="#b8b8b8" stroke-width="1"/>
<line x1="875.5" x2="875.5" y1="559.5" y2="561" stroke="#b8b8b8" stroke-width="1"/>
<line x1="883.5" x2="883.5" y1="550" y2="551.5" stroke="#b8b8b8" stroke-width="1"/>
<line x1="883.5" x2="883.5" y1="559.5" y2="561" stroke="#b8b8b8" stroke-width="1"/>
<line x1="890.5" x2="890.5" y1="550" y2="551.5" stroke="#b8b8b8" stroke-width="1"/>
<line x1="890.5" x2="890.5" y1="559.5" y2="561" stroke="#b8b8b8" stroke-width="1"/>
<line x1="898.5" x2="898.5" y1="550" y2="551.5" stroke="#b8b8b8" stroke-width="1"/>
<line x1="898.5" x2="898.5" y1="559.5" y2="561" stroke="#b8b8b8" stroke-width="1"/>
<line x1="905.5" x2="905.5" y1="550" y2="551.5" stroke="#b8b8b8" stroke-width="1"/>
<line x1="905.5" x2="905.5" y1="559.5" y2="561" stroke="#b8b8b8" stroke-width="1"/>
<line x1="913.5" x2="913.5" y1="550" y2="551.5" stroke="#b8b8b8" stroke-width="1"/>
<line x1="913.5" x2="913.5" y1="559.5" y2="561" stroke="#b8b8b8" stroke-width="1"/>
<line x1="921.5" x2="921.5" y1="550" y2="551.5" stroke="#b8b8b8" stroke-width="1"/>
<line x1="921.5" x2="921.5" y1="559.5" y2="561" stroke="#b8b8b8" stroke-width="1"/>
<line x1="928.5" x2="928.5" y1="550" y2="551.5" stroke="#b8b8b8" stroke-width="1"/>
<line x1="928.5" x2="928.5" y1="559.5" y2="561" stroke="#b8b8b8" stroke-width="1"/>
<line x1="936.5" x2="936.5" y1="550" y2="551.5" stroke="#b8b8b8" stroke-width="1"/>
<line x1="936.5" x2="936.5" y1="559.5" y2="561" stroke="#b8b8b8" stroke-width="1"/>
<line x1="943.5" x2="943.5" y1="550" y2="551.5" stroke="#b8b8b8" stroke-width="1"/>
<line x1="943.5" x2="943.5" y1="559.5" y2="561" stroke="#b8b8b8" stroke-width="1"/>
<line x1="951.5" x2="951.5" y1="550" y2="551.5" stroke="#b8b8b8" stroke-width="1"/>
<line x1="951.5" x2="951.5" y1="559.5" y2="561" stroke="#b8b8b8" stroke-width="1"/>
<line x1="959.5" x2="959.5" y1="550" y2="551.5" stroke="#b8b8b8" stroke-width="1"/>
<line x1="959.5" x2="959.5" y1="559.5" y2="561" stroke="#b8b8b8" stroke-width="1"/>
<line x1="966.5" x2="966.5" y1="550" y2="551.5" stroke="#b8b8b8" stroke-width="1"/>
<line x1="966.5" x2="966.5" y1="559.5" y2="561" stroke="#b8b8b8" stroke-width="1"/>
<line x1="974.5" x2="974.5" y1="550" y2="551.5" stroke="#b8b8b8" stroke-width="1"/>
<line x1="974.5" x2="974.5" y1="559.5" y2="561" stroke="#b8b8b8" stroke-width="1"/>
<line x1="981.5" x2="981.5" y1="550" y2="551.5" stroke="#b8b8b8" stroke-width="1"/>
<line x1="981.5" x2="981.5" y1="559.5" y2="561" stroke="#b8b8b8" stroke-width="1"/>
<text x="16.5" y="558.6" font-size="9.3" font-weight="normal" text-anchor="middle" fill="#111">21</text>
<text x="54.5" y="558.6" font-size="9.3" font-weight="normal" text-anchor="middle" fill="#111">28</text>
<text x="130.5" y="558.6" font-size="9.3" font-weight="normal" text-anchor="middle" fill="#111">11</text>
<text x="168.4" y="558.6" font-size="9.3" font-weight="normal" text-anchor="middle" fill="#111">18</text>
<text x="206.4" y="558.6" font-size="9.3" font-weight="normal" text-anchor="middle" fill="#111">25</text>
<text x="274.8" y="558.6" font-size="9.3" font-weight="normal" text-anchor="middle" fill="#111">8</text>
<text x="312.8" y="558.6" font-size="9.3" font-weight="normal" text-anchor="middle" fill="#111">15</text>
<text x="350.8" y="558.6" font-size="9.3" font-weight="normal" text-anchor="middle" fill="#111">22</text>
<text x="388.8" y="558.6" font-size="9.3" font-weight="normal" text-anchor="middle" fill="#111">29</text>
<text x="426.7" y="558.6" font-size="9.3" font-weight="normal" text-anchor="middle" fill="#111">6</text>
<text x="464.7" y="558.6" font-size="9.3" font-weight="normal" text-anchor="middle" fill="#111">13</text>
<text x="502.7" y="558.6" font-size="9.3" font-weight="normal" text-anchor="middle" fill="#111">20</text>
<text x="540.7" y="558.6" font-size="9.3" font-weight="normal" text-anchor="middle" fill="#111">27</text>
<text x="616.7" y="558.6" font-size="9.3" font-weight="normal" text-anchor="middle" fill="#111">10</text>
<text x="654.6" y="558.6" font-size="9.3" font-weight="normal" text-anchor="middle" fill="#111">17</text>
<text x="692.6" y="558.6" font-size="9.3" font-weight="normal" text-anchor="middle" fill="#111">24</text>
<text x="761.0" y="558.6" font-size="9.3" font-weight="normal" text-anchor="middle" fill="#111">8</text>
<text x="799.0" y="558.6" font-size="9.3" font-weight="normal" text-anchor="middle" fill="#111">15</text>
<text x="837.0" y="558.6" font-size="9.3" font-weight="normal" text-anchor="middle" fill="#111">22</text>
<text x="867.4" y="558.6" font-size="9.3" font-weight="normal" text-anchor="middle" fill="#111">29</text>
<text x="935.7" y="558.6" font-size="9.3" font-weight="normal" text-anchor="middle" fill="#111">12</text>
<text x="973.7" y="558.6" font-size="9.3" font-weight="normal" text-anchor="middle" fill="#111">20</text>
<text x="84.9" y="558.6" font-size="9.6" font-weight="bold" text-anchor="middle" fill="#111">Aug</text>
<text x="244.4" y="558.6" font-size="9.6" font-weight="bold" text-anchor="middle" fill="#111">Sep</text>
<text x="403.9" y="558.6" font-size="9.6" font-weight="bold" text-anchor="middle" fill="#111">Oct</text>
<text x="578.7" y="558.6" font-size="9.6" font-weight="bold" text-anchor="middle" fill="#111">Nov</text>
<text x="723.0" y="558.6" font-size="9.6" font-weight="bold" text-anchor="middle" fill="#111">Dec</text>
<text x="890.2" y="558.6" font-size="9.6" font-weight="bold" text-anchor="middle" fill="#111">2026</text>
<rect x="13" y="561" width="976" height="138" fill="#d8d8e8"/>
<line x1="13" x2="989" y1="569.6" y2="569.6" stroke="#c8c8da" stroke-width="1"/>
<line x1="13" x2="989" y1="588.2" y2="588.2" stroke="#c8c8da" stroke-width="1"/>
<line x1="13" x2="989" y1="606.8" y2="606.8" stroke="#c8c8da" stroke-width="1"/>
<line x1="13" x2="989" y1="625.4" y2="625.4" stroke="#c8c8da" stroke-width="1"/>
<line x1="13" x2="989" y1="644.0" y2="644.0" stroke="#c8c8da" stroke-width="1"/>
<line x1="13" x2="989" y1="662.6" y2="662.6" stroke="#c8c8da" stroke-width="1"/>
<line x1="13" x2="989" y1="681.2" y2="681.2" stroke="#c8c8da" stroke-width="1"/>
<line x1="13" x2="989" y1="699.8" y2="699.8" stroke="#c8c8da" stroke-width="1"/>
<line x1="16.5" x2="16.5" y1="561" y2="698" stroke="#c8c8da" stroke-width="1"/>
<line x1="54.5" x2="54.5" y1="561" y2="698" stroke="#c8c8da" stroke-width="1"/>
<line x1="92.5" x2="92.5" y1="561" y2="698" stroke="#c8c8da" stroke-width="1"/>
<line x1="130.5" x2="130.5" y1="561" y2="698" stroke="#c8c8da" stroke-width="1"/>
<line x1="168.5" x2="168.5" y1="561" y2="698" stroke="#c8c8da" stroke-width="1"/>
<line x1="206.5" x2="206.5" y1="561" y2="698" stroke="#c8c8da" stroke-width="1"/>
<line x1="275.5" x2="275.5" y1="561" y2="698" stroke="#c8c8da" stroke-width="1"/>
<line x1="313.5" x2="313.5" y1="561" y2="698" stroke="#c8c8da" stroke-width="1"/>
<line x1="351.5" x2="351.5" y1="561" y2="698" stroke="#c8c8da" stroke-width="1"/>
<line x1="389.5" x2="389.5" y1="561" y2="698" stroke="#c8c8da" stroke-width="1"/>
<line x1="427.5" x2="427.5" y1="561" y2="698" stroke="#c8c8da" stroke-width="1"/>
<line x1="465.5" x2="465.5" y1="561" y2="698" stroke="#c8c8da" stroke-width="1"/>
<line x1="503.5" x2="503.5" y1="561" y2="698" stroke="#c8c8da" stroke-width="1"/>
<line x1="541.5" x2="541.5" y1="561" y2="698" stroke="#c8c8da" stroke-width="1"/>
<line x1="617.5" x2="617.5" y1="561" y2="698" stroke="#c8c8da" stroke-width="1"/>
<line x1="655.5" x2="655.5" y1="561" y2="698" stroke="#c8c8da" stroke-width="1"/>
<line x1="693.5" x2="693.5" y1="561" y2="698" stroke="#c8c8da" stroke-width="1"/>
<line x1="761.5" x2="761.5" y1="561" y2="698" stroke="#c8c8da" stroke-width="1"/>
<line x1="799.5" x2="799.5" y1="561" y2="698" stroke="#c8c8da" stroke-width="1"/>
<line x1="837.5" x2="837.5" y1="561" y2="698" stroke="#c8c8da" stroke-width="1"/>
<line x1="867.5" x2="867.5" y1="561" y2="698" stroke="#c8c8da" stroke-width="1"/>
<line x1="898.5" x2="898.5" y1="561" y2="698" stroke="#c8c8da" stroke-width="1"/>
<line x1="936.5" x2="936.5" y1="561" y2="698" stroke="#c8c8da" stroke-width="1"/>
<line x1="974.5" x2="974.5" y1="561" y2="698" stroke="#c8c8da" stroke-width="1"/>
<line x1="85.5" x2="85.5" y1="561" y2="698" stroke="#b6b6c6" stroke-width="1"/>
<line x1="244.5" x2="244.5" y1="561" y2="698" stroke="#b6b6c6" stroke-width="1"/>
<line x1="404.5" x2="404.5" y1="561" y2="698" stroke="#b6b6c6" stroke-width="1"/>
<line x1="579.5" x2="579.5" y1="561" y2="698" stroke="#b6b6c6" stroke-width="1"/>
<line x1="723.5" x2="723.5" y1="561" y2="698" stroke="#b6b6c6" stroke-width="1"/>
<line x1="890.5" x2="890.5" y1="561" y2="698" stroke="#b6b6c6" stroke-width="1"/>
<rect x="14.5" y="632.9" width="5" height="11.1" fill="#4d9dd0" stroke="#2f76a6" stroke-width="1"/>
<rect x="22.5" y="633.6" width="5" height="10.4" fill="#4d9dd0" stroke="#2f76a6" stroke-width="1"/>
<rect x="29.5" y="640.7" width="5" height="3.3" fill="#4d9dd0" stroke="#2f76a6" stroke-width="1"/>
<rect x="37.5" y="644.0" width="5" height="1.0" fill="#4d9dd0" stroke="#2f76a6" stroke-width="1"/>
<rect x="44.5" y="644.0" width="5" height="5.1" fill="#4d9dd0" stroke="#2f76a6" stroke-width="1"/>
<rect x="52.5" y="644.0" width="5" height="6.5" fill="#4d9dd0" stroke="#2f76a6" stroke-width="1"/>
<rect x="60.5" y="644.0" width="5" height="1.0" fill="#4d9dd0" stroke="#2f76a6" stroke-width="1"/>
<rect x="67.5" y="643.5" width="5" height="1.0" fill="#4d9dd0" stroke="#2f76a6" stroke-width="1"/>
<rect x="75.5" y="634.7" width="5" height="9.3" fill="#4d9dd0" stroke="#2f76a6" stroke-width="1"/>
<rect x="82.5" y="607.4" width="5" height="36.6" fill="#4d9dd0" stroke="#2f76a6" stroke-width="1"/>
<rect x="90.5" y="608.6" width="5" height="35.4" fill="#4d9dd0" stroke="#2f76a6" stroke-width="1"/>
<rect x="98.5" y="608.9" width="5" height="35.1" fill="#4d9dd0" stroke="#2f76a6" stroke-width="1"/>
<rect x="105.5" y="616.9" width="5" height="27.1" fill="#4d9dd0" stroke="#2f76a6" stroke-width="1"/>
<rect x="113.5" y="624.3" width="5" height="19.7" fill="#4d9dd0" stroke="#2f76a6" stroke-width="1"/>
<rect x="120.5" y="638.1" width="5" height="5.9" fill="#4d9dd0" stroke="#2f76a6" stroke-width="1"/>
<rect x="128.5" y="640.3" width="5" height="3.7" fill="#4d9dd0" stroke="#2f76a6" stroke-width="1"/>
<rect x="136.5" y="644.0" width="5" height="6.7" fill="#4d9dd0" stroke="#2f76a6" stroke-width="1"/>
<rect x="143.5" y="644.0" width="5" height="14.0" fill="#4d9dd0" stroke="#2f76a6" stroke-width="1"/>
<rect x="151.5" y="644.0" width="5" height="15.5" fill="#4d9dd0" stroke="#2f76a6" stroke-width="1"/>
<rect x="158.5" y="644.0" width="5" height="13.9" fill="#4d9dd0" stroke="#2f76a6" stroke-width="1"/>
<rect x="166.5" y="644.0" width="5" height="12.3" fill="#4d9dd0" stroke="#2f76a6" stroke-width="1"/>
<rect x="174.5" y="644.0" width="5" height="6.9" fill="#4d9dd0" stroke="#2f76a6" stroke-width="1"/>
<rect x="181.5" y="644.0" width="5" height="2.0" fill="#4d9dd0" stroke="#2f76a6" stroke-width="1"/>
<rect x="189.5" y="637.1" width="5" height="6.9" fill="#4d9dd0" stroke="#2f76a6" stroke-width="1"/>
<rect x="196.5" y="644.0" width="5" height="1.6" fill="#4d9dd0" stroke="#2f76a6" stroke-width="1"/>
<rect x="204.5" y="644.0" width="5" height="3.1" fill="#4d9dd0" stroke="#2f76a6" stroke-width="1"/>
<rect x="212.5" y="644.0" width="5" height="4.5" fill="#4d9dd0" stroke="#2f76a6" stroke-width="1"/>
<rect x="219.5" y="644.0" width="5" height="3.4" fill="#4d9dd0" stroke="#2f76a6" stroke-width="1"/>
<rect x="227.5" y="644.0" width="5" height="4.6" fill="#4d9dd0" stroke="#2f76a6" stroke-width="1"/>
<rect x="234.5" y="643.2" width="5" height="1.0" fill="#4d9dd0" stroke="#2f76a6" stroke-width="1"/>
<rect x="242.5" y="628.6" width="5" height="15.4" fill="#4d9dd0" stroke="#2f76a6" stroke-width="1"/>
<rect x="250.5" y="624.8" width="5" height="19.2" fill="#4d9dd0" stroke="#2f76a6" stroke-width="1"/>
<rect x="257.5" y="629.4" width="5" height="14.6" fill="#4d9dd0" stroke="#2f76a6" stroke-width="1"/>
<rect x="265.5" y="633.4" width="5" height="10.6" fill="#4d9dd0" stroke="#2f76a6" stroke-width="1"/>
<rect x="272.5" y="636.6" width="5" height="7.4" fill="#4d9dd0" stroke="#2f76a6" stroke-width="1"/>
<rect x="280.5" y="639.1" width="5" height="4.9" fill="#4d9dd0" stroke="#2f76a6" stroke-width="1"/>
<rect x="287.5" y="638.9" width="5" height="5.1" fill="#4d9dd0" stroke="#2f76a6" stroke-width="1"/>
<rect x="295.5" y="642.6" width="5" height="1.4" fill="#4d9dd0" stroke="#2f76a6" stroke-width="1"/>
<rect x="303.5" y="644.0" width="5" height="1.0" fill="#4d9dd0" stroke="#2f76a6" stroke-width="1"/>
<rect x="310.5" y="639.8" width="5" height="4.2" fill="#4d9dd0" stroke="#2f76a6" stroke-width="1"/>
<rect x="318.5" y="632.9" width="5" height="11.1" fill="#4d9dd0" stroke="#2f76a6" stroke-width="1"/>
<rect x="325.5" y="632.8" width="5" height="11.2" fill="#4d9dd0" stroke="#2f76a6" stroke-width="1"/>
<rect x="333.5" y="633.3" width="5" height="10.7" fill="#4d9dd0" stroke="#2f76a6" stroke-width="1"/>
<rect x="341.5" y="635.4" width="5" height="8.6" fill="#4d9dd0" stroke="#2f76a6" stroke-width="1"/>
<rect x="348.5" y="633.3" width="5" height="10.7" fill="#4d9dd0" stroke="#2f76a6" stroke-width="1"/>
<rect x="356.5" y="629.1" width="5" height="14.9" fill="#4d9dd0" stroke="#2f76a6" stroke-width="1"/>
<rect x="363.5" y="630.0" width="5" height="14.0" fill="#4d9dd0" stroke="#2f76a6" stroke-width="1"/>
<rect x="371.5" y="627.9" width="5" height="16.1" fill="#4d9dd0" stroke="#2f76a6" stroke-width="1"/>
<rect x="379.5" y="636.0" width="5" height="8.0" fill="#4d9dd0" stroke="#2f76a6" stroke-width="1"/>
<rect x="386.5" y="636.7" width="5" height="7.3" fill="#4d9dd0" stroke="#2f76a6" stroke-width="1"/>
<rect x="394.5" y="636.5" width="5" height="7.5" fill="#4d9dd0" stroke="#2f76a6" stroke-width="1"/>
<rect x="401.5" y="636.8" width="5" height="7.2" fill="#4d9dd0" stroke="#2f76a6" stroke-width="1"/>
<rect x="409.5" y="635.4" width="5" height="8.6" fill="#4d9dd0" stroke="#2f76a6" stroke-width="1"/>
<rect x="417.5" y="634.9" width="5" height="9.1" fill="#4d9dd0" stroke="#2f76a6" stroke-width="1"/>
<rect x="424.5" y="636.9" width="5" height="7.1" fill="#4d9dd0" stroke="#2f76a6" stroke-width="1"/>
<rect x="432.5" y="633.4" width="5" height="10.6" fill="#4d9dd0" stroke="#2f76a6" stroke-width="1"/>
<rect x="439.5" y="637.6" width="5" height="6.4" fill="#4d9dd0" stroke="#2f76a6" stroke-width="1"/>
<rect x="447.5" y="639.9" width="5" height="4.1" fill="#4d9dd0" stroke="#2f76a6" stroke-width="1"/>
<rect x="455.5" y="610.7" width="5" height="33.3" fill="#4d9dd0" stroke="#2f76a6" stroke-width="1"/>
<rect x="462.5" y="609.9" width="5" height="34.1" fill="#4d9dd0" stroke="#2f76a6" stroke-width="1"/>
<rect x="470.5" y="601.1" width="5" height="42.9" fill="#4d9dd0" stroke="#2f76a6" stroke-width="1"/>
<rect x="477.5" y="599.2" width="5" height="44.8" fill="#4d9dd0" stroke="#2f76a6" stroke-width="1"/>
<rect x="485.5" y="573.1" width="5" height="70.9" fill="#4d9dd0" stroke="#2f76a6" stroke-width="1"/>
<rect x="493.5" y="588.1" width="5" height="55.9" fill="#4d9dd0" stroke="#2f76a6" stroke-width="1"/>
<rect x="500.5" y="616.4" width="5" height="27.6" fill="#4d9dd0" stroke="#2f76a6" stroke-width="1"/>
<rect x="508.5" y="638.5" width="5" height="5.5" fill="#4d9dd0" stroke="#2f76a6" stroke-width="1"/>
<rect x="515.5" y="644.0" width="5" height="5.3" fill="#4d9dd0" stroke="#2f76a6" stroke-width="1"/>
<rect x="523.5" y="644.0" width="5" height="20.3" fill="#4d9dd0" stroke="#2f76a6" stroke-width="1"/>
<rect x="531.5" y="644.0" width="5" height="35.0" fill="#4d9dd0" stroke="#2f76a6" stroke-width="1"/>
<rect x="538.5" y="644.0" width="5" height="46.6" fill="#4d9dd0" stroke="#2f76a6" stroke-width="1"/>
<rect x="546.5" y="644.0" width="5" height="48.3" fill="#4d9dd0" stroke="#2f76a6" stroke-width="1"/>
<rect x="553.5" y="644.0" width="5" height="44.4" fill="#4d9dd0" stroke="#2f76a6" stroke-width="1"/>
<rect x="561.5" y="644.0" width="5" height="40.2" fill="#4d9dd0" stroke="#2f76a6" stroke-width="1"/>
<rect x="569.5" y="644.0" width="5" height="32.6" fill="#4d9dd0" stroke="#2f76a6" stroke-width="1"/>
<rect x="576.5" y="644.0" width="5" height="28.0" fill="#4d9dd0" stroke="#2f76a6" stroke-width="1"/>
<rect x="584.5" y="644.0" width="5" height="13.0" fill="#4d9dd0" stroke="#2f76a6" stroke-width="1"/>
<rect x="591.5" y="644.0" width="5" height="8.9" fill="#4d9dd0" stroke="#2f76a6" stroke-width="1"/>
<rect x="599.5" y="641.2" width="5" height="2.8" fill="#4d9dd0" stroke="#2f76a6" stroke-width="1"/>
<rect x="607.5" y="636.7" width="5" height="7.3" fill="#4d9dd0" stroke="#2f76a6" stroke-width="1"/>
<rect x="614.5" y="643.2" width="5" height="1.0" fill="#4d9dd0" stroke="#2f76a6" stroke-width="1"/>
<rect x="622.5" y="644.0" width="5" height="5.4" fill="#4d9dd0" stroke="#2f76a6" stroke-width="1"/>
<rect x="629.5" y="644.0" width="5" height="7.8" fill="#4d9dd0" stroke="#2f76a6" stroke-width="1"/>
<rect x="637.5" y="638.3" width="5" height="5.7" fill="#4d9dd0" stroke="#2f76a6" stroke-width="1"/>
<rect x="645.5" y="631.2" width="5" height="12.8" fill="#4d9dd0" stroke="#2f76a6" stroke-width="1"/>
<rect x="652.5" y="612.6" width="5" height="31.4" fill="#4d9dd0" stroke="#2f76a6" stroke-width="1"/>
<rect x="660.5" y="589.1" width="5" height="54.9" fill="#4d9dd0" stroke="#2f76a6" stroke-width="1"/>
<rect x="667.5" y="583.7" width="5" height="60.3" fill="#4d9dd0" stroke="#2f76a6" stroke-width="1"/>
<rect x="675.5" y="567.7" width="5" height="76.3" fill="#4d9dd0" stroke="#2f76a6" stroke-width="1"/>
<line x1="494.9" y1="569.8" x2="548.5" y2="640.3" stroke="#f01818" stroke-width="2.4" stroke-dasharray="5,3"/>
<line x1="547.5" y1="697.5" x2="609.8" y2="660.5" stroke="#1a1ae8" stroke-width="2.4" stroke-dasharray="5,3"/>
<line x1="609.8" y1="633.5" x2="632.4" y2="637.8" stroke="#f01818" stroke-width="2.4" stroke-dasharray="5,3"/>
<line x1="632" y1="659.2" x2="685.6" y2="646.4" stroke="#1a1ae8" stroke-width="2.4" stroke-dasharray="5,3"/>
<line x1="700.7" y1="572.9" x2="730.8" y2="609.8" stroke="#f01818" stroke-width="2.4" stroke-dasharray="5,3"/>
<path d="M15.5,570 v-4 h1.5 v4 z M18,570 v-7 h1.5 v7 z M20.5,570 v-5 h1.5 v5 z" fill="#55a3d0"/>
<text x="25.6" y="569.8" font-size="8.5" fill="#222" textLength="119" lengthAdjust="spacingAndGlyphs">MACD(12,26,9) Hist 0.821</text>
<path d="M13.5,561.5 H988.5 V698.5 H13.5 Z" fill="none" stroke="#a4a4bc" stroke-width="1"/>
<text x="1005.4" text-anchor="end" y="591.1" font-size="8.6" fill="#111">0.6</text>
<text x="1005.4" text-anchor="end" y="609.7" font-size="8.6" fill="#111">0.4</text>
<text x="1005.4" text-anchor="end" y="628.3" font-size="8.6" fill="#111">0.2</text>
<text x="1005.4" text-anchor="end" y="646.9" font-size="8.6" fill="#111">0.0</text>
<text x="1005.4" text-anchor="end" y="665.5" font-size="8.6" fill="#111">-0.2</text>
<text x="1005.4" text-anchor="end" y="684.1" font-size="8.6" fill="#111">-0.4</text>
<polygon points="986.4,567.7 990,563.0 1013.6,563.0 1013.6,572.4 990,572.4" fill="#fff" stroke="#000" stroke-width="1"/>
<text x="990.6" y="570.6" font-size="8.2" fill="#111" textLength="21.5" lengthAdjust="spacingAndGlyphs">0.821</text>
<rect x="13" y="698" width="976" height="138" fill="#d8d8e8"/>
<line x1="13" x2="989" y1="712.8" y2="712.8" stroke="#c8c8da" stroke-width="1"/>
<line x1="13" x2="989" y1="725.4" y2="725.4" stroke="#c8c8da" stroke-width="1"/>
<line x1="13" x2="989" y1="738.0" y2="738.0" stroke="#c8c8da" stroke-width="1"/>
<line x1="13" x2="989" y1="750.6" y2="750.6" stroke="#c8c8da" stroke-width="1"/>
<line x1="13" x2="989" y1="763.2" y2="763.2" stroke="#c8c8da" stroke-width="1"/>
<line x1="13" x2="989" y1="775.8" y2="775.8" stroke="#c8c8da" stroke-width="1"/>
<line x1="13" x2="989" y1="788.4" y2="788.4" stroke="#c8c8da" stroke-width="1"/>
<line x1="13" x2="989" y1="801.0" y2="801.0" stroke="#c8c8da" stroke-width="1"/>
<line x1="13" x2="989" y1="813.6" y2="813.6" stroke="#c8c8da" stroke-width="1"/>
<line x1="13" x2="989" y1="826.2" y2="826.2" stroke="#c8c8da" stroke-width="1"/>
<line x1="16.5" x2="16.5" y1="698" y2="835" stroke="#c8c8da" stroke-width="1"/>
<line x1="54.5" x2="54.5" y1="698" y2="835" stroke="#c8c8da" stroke-width="1"/>
<line x1="92.5" x2="92.5" y1="698" y2="835" stroke="#c8c8da" stroke-width="1"/>
<line x1="130.5" x2="130.5" y1="698" y2="835" stroke="#c8c8da" stroke-width="1"/>
<line x1="168.5" x2="168.5" y1="698" y2="835" stroke="#c8c8da" stroke-width="1"/>
<line x1="206.5" x2="206.5" y1="698" y2="835" stroke="#c8c8da" stroke-width="1"/>
<line x1="275.5" x2="275.5" y1="698" y2="835" stroke="#c8c8da" stroke-width="1"/>
<line x1="313.5" x2="313.5" y1="698" y2="835" stroke="#c8c8da" stroke-width="1"/>
<line x1="351.5" x2="351.5" y1="698" y2="835" stroke="#c8c8da" stroke-width="1"/>
<line x1="389.5" x2="389.5" y1="698" y2="835" stroke="#c8c8da" stroke-width="1"/>
<line x1="427.5" x2="427.5" y1="698" y2="835" stroke="#c8c8da" stroke-width="1"/>
<line x1="465.5" x2="465.5" y1="698" y2="835" stroke="#c8c8da" stroke-width="1"/>
<line x1="503.5" x2="503.5" y1="698" y2="835" stroke="#c8c8da" stroke-width="1"/>
<line x1="541.5" x2="541.5" y1="698" y2="835" stroke="#c8c8da" stroke-width="1"/>
<line x1="617.5" x2="617.5" y1="698" y2="835" stroke="#c8c8da" stroke-width="1"/>
<line x1="655.5" x2="655.5" y1="698" y2="835" stroke="#c8c8da" stroke-width="1"/>
<line x1="693.5" x2="693.5" y1="698" y2="835" stroke="#c8c8da" stroke-width="1"/>
<line x1="761.5" x2="761.5" y1="698" y2="835" stroke="#c8c8da" stroke-width="1"/>
<line x1="799.5" x2="799.5" y1="698" y2="835" stroke="#c8c8da" stroke-width="1"/>
<line x1="837.5" x2="837.5" y1="698" y2="835" stroke="#c8c8da" stroke-width="1"/>
<line x1="867.5" x2="867.5" y1="698" y2="835" stroke="#c8c8da" stroke-width="1"/>
<line x1="898.5" x2="898.5" y1="698" y2="835" stroke="#c8c8da" stroke-width="1"/>
<line x1="936.5" x2="936.5" y1="698" y2="835" stroke="#c8c8da" stroke-width="1"/>
<line x1="974.5" x2="974.5" y1="698" y2="835" stroke="#c8c8da" stroke-width="1"/>
<line x1="85.5" x2="85.5" y1="698" y2="835" stroke="#b6b6c6" stroke-width="1"/>
<line x1="244.5" x2="244.5" y1="698" y2="835" stroke="#b6b6c6" stroke-width="1"/>
<line x1="404.5" x2="404.5" y1="698" y2="835" stroke="#b6b6c6" stroke-width="1"/>
<line x1="579.5" x2="579.5" y1="698" y2="835" stroke="#b6b6c6" stroke-width="1"/>
<line x1="723.5" x2="723.5" y1="698" y2="835" stroke="#b6b6c6" stroke-width="1"/>
<line x1="890.5" x2="890.5" y1="698" y2="835" stroke="#b6b6c6" stroke-width="1"/>
<rect x="14.5" y="782.4" width="5" height="6.0" fill="#4d9dd0" stroke="#2f76a6" stroke-width="1"/>
<rect x="22.5" y="782.8" width="5" height="5.6" fill="#4d9dd0" stroke="#2f76a6" stroke-width="1"/>
<rect x="29.5" y="786.6" width="5" height="1.8" fill="#4d9dd0" stroke="#2f76a6" stroke-width="1"/>
<rect x="37.5" y="788.4" width="5" height="1.0" fill="#4d9dd0" stroke="#2f76a6" stroke-width="1"/>
<rect x="44.5" y="788.4" width="5" height="2.8" fill="#4d9dd0" stroke="#2f76a6" stroke-width="1"/>
<rect x="52.5" y="788.4" width="5" height="3.5" fill="#4d9dd0" stroke="#2f76a6" stroke-width="1"/>
<rect x="60.5" y="788.4" width="5" height="1.0" fill="#4d9dd0" stroke="#2f76a6" stroke-width="1"/>
<rect x="67.5" y="788.1" width="5" height="1.0" fill="#4d9dd0" stroke="#2f76a6" stroke-width="1"/>
<rect x="75.5" y="783.4" width="5" height="5.0" fill="#4d9dd0" stroke="#2f76a6" stroke-width="1"/>
<rect x="82.5" y="768.6" width="5" height="19.8" fill="#4d9dd0" stroke="#2f76a6" stroke-width="1"/>
<rect x="90.5" y="769.2" width="5" height="19.2" fill="#4d9dd0" stroke="#2f76a6" stroke-width="1"/>
<rect x="98.5" y="769.4" width="5" height="19.0" fill="#4d9dd0" stroke="#2f76a6" stroke-width="1"/>
<rect x="105.5" y="773.7" width="5" height="14.7" fill="#4d9dd0" stroke="#2f76a6" stroke-width="1"/>
<rect x="113.5" y="777.7" width="5" height="10.7" fill="#4d9dd0" stroke="#2f76a6" stroke-width="1"/>
<rect x="120.5" y="785.2" width="5" height="3.2" fill="#4d9dd0" stroke="#2f76a6" stroke-width="1"/>
<rect x="128.5" y="786.4" width="5" height="2.0" fill="#4d9dd0" stroke="#2f76a6" stroke-width="1"/>
<rect x="136.5" y="788.4" width="5" height="3.6" fill="#4d9dd0" stroke="#2f76a6" stroke-width="1"/>
<rect x="143.5" y="788.4" width="5" height="7.6" fill="#4d9dd0" stroke="#2f76a6" stroke-width="1"/>
<rect x="151.5" y="788.4" width="5" height="8.4" fill="#4d9dd0" stroke="#2f76a6" stroke-width="1"/>
<rect x="158.5" y="788.4" width="5" height="7.5" fill="#4d9dd0" stroke="#2f76a6" stroke-width="1"/>
<rect x="166.5" y="788.4" width="5" height="6.6" fill="#4d9dd0" stroke="#2f76a6" stroke-width="1"/>
<rect x="174.5" y="788.4" width="5" height="3.7" fill="#4d9dd0" stroke="#2f76a6" stroke-width="1"/>
<rect x="181.5" y="788.4" width="5" height="1.1" fill="#4d9dd0" stroke="#2f76a6" stroke-width="1"/>
<rect x="189.5" y="784.7" width="5" height="3.7" fill="#4d9dd0" stroke="#2f76a6" stroke-width="1"/>
<rect x="196.5" y="788.4" width="5" height="1.0" fill="#4d9dd0" stroke="#2f76a6" stroke-width="1"/>
<rect x="204.5" y="788.4" width="5" height="1.7" fill="#4d9dd0" stroke="#2f76a6" stroke-width="1"/>
<rect x="212.5" y="788.4" width="5" height="2.4" fill="#4d9dd0" stroke="#2f76a6" stroke-width="1"/>
<rect x="219.5" y="788.4" width="5" height="1.8" fill="#4d9dd0" stroke="#2f76a6" stroke-width="1"/>
<rect x="227.5" y="788.4" width="5" height="2.5" fill="#4d9dd0" stroke="#2f76a6" stroke-width="1"/>
<rect x="234.5" y="787.9" width="5" height="1.0" fill="#4d9dd0" stroke="#2f76a6" stroke-width="1"/>
<rect x="242.5" y="780.1" width="5" height="8.3" fill="#4d9dd0" stroke="#2f76a6" stroke-width="1"/>
<rect x="250.5" y="778.0" width="5" height="10.4" fill="#4d9dd0" stroke="#2f76a6" stroke-width="1"/>
<rect x="257.5" y="780.5" width="5" height="7.9" fill="#4d9dd0" stroke="#2f76a6" stroke-width="1"/>
<rect x="265.5" y="782.6" width="5" height="5.8" fill="#4d9dd0" stroke="#2f76a6" stroke-width="1"/>
<rect x="272.5" y="784.4" width="5" height="4.0" fill="#4d9dd0" stroke="#2f76a6" stroke-width="1"/>
<rect x="280.5" y="785.8" width="5" height="2.6" fill="#4d9dd0" stroke="#2f76a6" stroke-width="1"/>
<rect x="287.5" y="785.6" width="5" height="2.8" fill="#4d9dd0" stroke="#2f76a6" stroke-width="1"/>
<rect x="295.5" y="787.6" width="5" height="1.0" fill="#4d9dd0" stroke="#2f76a6" stroke-width="1"/>
<rect x="303.5" y="788.4" width="5" height="1.0" fill="#4d9dd0" stroke="#2f76a6" stroke-width="1"/>
<rect x="310.5" y="786.1" width="5" height="2.3" fill="#4d9dd0" stroke="#2f76a6" stroke-width="1"/>
<rect x="318.5" y="782.4" width="5" height="6.0" fill="#4d9dd0" stroke="#2f76a6" stroke-width="1"/>
<rect x="325.5" y="782.3" width="5" height="6.1" fill="#4d9dd0" stroke="#2f76a6" stroke-width="1"/>
<rect x="333.5" y="782.6" width="5" height="5.8" fill="#4d9dd0" stroke="#2f76a6" stroke-width="1"/>
<rect x="341.5" y="783.8" width="5" height="4.6" fill="#4d9dd0" stroke="#2f76a6" stroke-width="1"/>
<rect x="348.5" y="782.6" width="5" height="5.8" fill="#4d9dd0" stroke="#2f76a6" stroke-width="1"/>
<rect x="356.5" y="780.4" width="5" height="8.0" fill="#4d9dd0" stroke="#2f76a6" stroke-width="1"/>
<rect x="363.5" y="780.8" width="5" height="7.6" fill="#4d9dd0" stroke="#2f76a6" stroke-width="1"/>
<rect x="371.5" y="779.7" width="5" height="8.7" fill="#4d9dd0" stroke="#2f76a6" stroke-width="1"/>
<rect x="379.5" y="784.1" width="5" height="4.3" fill="#4d9dd0" stroke="#2f76a6" stroke-width="1"/>
<rect x="386.5" y="784.4" width="5" height="4.0" fill="#4d9dd0" stroke="#2f76a6" stroke-width="1"/>
<rect x="394.5" y="784.3" width="5" height="4.1" fill="#4d9dd0" stroke="#2f76a6" stroke-width="1"/>
<rect x="401.5" y="784.5" width="5" height="3.9" fill="#4d9dd0" stroke="#2f76a6" stroke-width="1"/>
<rect x="409.5" y="783.7" width="5" height="4.7" fill="#4d9dd0" stroke="#2f76a6" stroke-width="1"/>
<rect x="417.5" y="783.5" width="5" height="4.9" fill="#4d9dd0" stroke="#2f76a6" stroke-width="1"/>
<rect x="424.5" y="784.5" width="5" height="3.9" fill="#4d9dd0" stroke="#2f76a6" stroke-width="1"/>
<rect x="432.5" y="782.7" width="5" height="5.7" fill="#4d9dd0" stroke="#2f76a6" stroke-width="1"/>
<rect x="439.5" y="784.9" width="5" height="3.5" fill="#4d9dd0" stroke="#2f76a6" stroke-width="1"/>
<rect x="447.5" y="786.2" width="5" height="2.2" fill="#4d9dd0" stroke="#2f76a6" stroke-width="1"/>
<rect x="455.5" y="770.3" width="5" height="18.1" fill="#4d9dd0" stroke="#2f76a6" stroke-width="1"/>
<rect x="462.5" y="769.9" width="5" height="18.5" fill="#4d9dd0" stroke="#2f76a6" stroke-width="1"/>
<rect x="470.5" y="765.1" width="5" height="23.3" fill="#4d9dd0" stroke="#2f76a6" stroke-width="1"/>
<rect x="477.5" y="764.1" width="5" height="24.3" fill="#4d9dd0" stroke="#2f76a6" stroke-width="1"/>
<rect x="485.5" y="750.0" width="5" height="38.4" fill="#4d9dd0" stroke="#2f76a6" stroke-width="1"/>
<rect x="493.5" y="758.1" width="5" height="30.3" fill="#4d9dd0" stroke="#2f76a6" stroke-width="1"/>
<rect x="500.5" y="773.4" width="5" height="15.0" fill="#4d9dd0" stroke="#2f76a6" stroke-width="1"/>
<rect x="508.5" y="785.4" width="5" height="3.0" fill="#4d9dd0" stroke="#2f76a6" stroke-width="1"/>
<rect x="515.5" y="788.4" width="5" height="2.9" fill="#4d9dd0" stroke="#2f76a6" stroke-width="1"/>
<rect x="523.5" y="788.4" width="5" height="11.0" fill="#4d9dd0" stroke="#2f76a6" stroke-width="1"/>
<rect x="531.5" y="788.4" width="5" height="19.0" fill="#4d9dd0" stroke="#2f76a6" stroke-width="1"/>
<rect x="538.5" y="788.4" width="5" height="25.3" fill="#4d9dd0" stroke="#2f76a6" stroke-width="1"/>
<rect x="546.5" y="788.4" width="5" height="26.2" fill="#4d9dd0" stroke="#2f76a6" stroke-width="1"/>
<rect x="553.5" y="788.4" width="5" height="24.1" fill="#4d9dd0" stroke="#2f76a6" stroke-width="1"/>
<rect x="561.5" y="788.4" width="5" height="21.8" fill="#4d9dd0" stroke="#2f76a6" stroke-width="1"/>
<rect x="569.5" y="788.4" width="5" height="17.6" fill="#4d9dd0" stroke="#2f76a6" stroke-width="1"/>
<rect x="576.5" y="788.4" width="5" height="15.2" fill="#4d9dd0" stroke="#2f76a6" stroke-width="1"/>
<rect x="584.5" y="788.4" width="5" height="7.0" fill="#4d9dd0" stroke="#2f76a6" stroke-width="1"/>
<rect x="591.5" y="788.4" width="5" height="4.8" fill="#4d9dd0" stroke="#2f76a6" stroke-width="1"/>
<rect x="599.5" y="786.9" width="5" height="1.5" fill="#4d9dd0" stroke="#2f76a6" stroke-width="1"/>
<rect x="607.5" y="784.4" width="5" height="4.0" fill="#4d9dd0" stroke="#2f76a6" stroke-width="1"/>
<rect x="614.5" y="788.0" width="5" height="1.0" fill="#4d9dd0" stroke="#2f76a6" stroke-width="1"/>
<rect x="622.5" y="788.4" width="5" height="2.9" fill="#4d9dd0" stroke="#2f76a6" stroke-width="1"/>
<rect x="629.5" y="788.4" width="5" height="4.2" fill="#4d9dd0" stroke="#2f76a6" stroke-width="1"/>
<rect x="637.5" y="785.3" width="5" height="3.1" fill="#4d9dd0" stroke="#2f76a6" stroke-width="1"/>
<rect x="645.5" y="781.5" width="5" height="6.9" fill="#4d9dd0" stroke="#2f76a6" stroke-width="1"/>
<rect x="652.5" y="771.4" width="5" height="17.0" fill="#4d9dd0" stroke="#2f76a6" stroke-width="1"/>
<rect x="660.5" y="758.6" width="5" height="29.8" fill="#4d9dd0" stroke="#2f76a6" stroke-width="1"/>
<rect x="667.5" y="755.7" width="5" height="32.7" fill="#4d9dd0" stroke="#2f76a6" stroke-width="1"/>
<rect x="675.5" y="747.0" width="5" height="41.4" fill="#4d9dd0" stroke="#2f76a6" stroke-width="1"/>
<polyline points="13,826.3 16.5,825.6 24.1,824.2 31.7,823.8 39.3,823.9 46.9,824.5 54.5,825.4 62.1,825.5 69.7,825.5 77.3,824.2 84.9,819.2 92.5,814.5 100.1,809.7 107.7,806.0 115.3,803.3 122.9,802.5 130.5,802.0 138.1,802.9 145.6,804.8 153.2,806.9 160.8,808.8 168.4,810.5 176.0,811.4 183.6,811.7 191.2,810.8 198.8,811.0 206.4,811.4 214.0,812.0 221.6,812.5 229.2,813.1 236.8,813.0 244.4,810.9 252.0,808.3 259.6,806.3 267.2,804.9 274.8,803.9 282.4,803.2 290.0,802.5 297.6,802.3 305.2,802.4 312.8,801.8 320.4,800.3 328.0,798.8 335.6,797.3 343.2,796.2 350.8,794.7 358.4,792.7 366.0,790.8 373.6,788.6 381.2,787.6 388.8,786.6 396.4,785.6 403.9,784.6 411.5,783.4 419.1,782.2 426.7,781.2 434.3,779.8 441.9,778.9 449.5,778.3 457.1,773.8 464.7,769.2 472.3,763.4 479.9,757.3 487.5,747.7 495.1,740.1 502.7,736.4 510.3,735.7 517.9,736.4 525.5,739.1 533.1,743.9 540.7,750.2 548.3,756.7 555.9,762.7 563.5,768.2 571.1,772.6 578.7,776.4 586.3,778.1 593.9,779.4 601.5,779.0 609.1,778.0 616.7,777.9 624.3,778.6 631.9,779.7 639.5,778.9 647.1,777.2 654.6,772.9 662.2,765.5 669.8,757.3 677.4,747.0" fill="none" stroke="#ee4444" stroke-width="1.3"/>
<polyline points="13,820.4 16.5,819.6 24.1,818.6 31.7,822.0 39.3,824.2 46.9,827.3 54.5,829.0 62.1,826.0 69.7,825.2 77.3,819.2 84.9,799.4 92.5,795.3 100.1,790.6 107.7,791.3 115.3,792.6 122.9,799.3 130.5,800.0 138.1,806.5 145.6,812.4 153.2,815.4 160.8,816.3 168.4,817.1 176.0,815.1 183.6,812.8 191.2,807.0 198.8,811.8 206.4,813.1 214.0,814.4 221.6,814.3 229.2,815.5 236.8,812.5 244.4,802.6 252.0,797.9 259.6,798.4 267.2,799.1 274.8,799.8 282.4,800.6 290.0,799.7 297.6,801.6 305.2,802.6 312.8,799.6 320.4,794.3 328.0,792.7 335.6,791.5 343.2,791.5 350.8,788.9 358.4,784.7 366.0,783.2 373.6,779.9 381.2,783.3 388.8,782.6 396.4,781.5 403.9,780.7 411.5,778.7 419.1,777.3 426.7,777.4 434.3,774.1 441.9,775.4 449.5,776.1 457.1,755.8 464.7,750.8 472.3,740.1 479.9,733.0 487.5,709.3 495.1,709.8 502.7,721.4 510.3,732.7 517.9,739.2 525.5,750.1 533.1,762.8 540.7,775.4 548.3,782.9 555.9,786.8 563.5,789.9 571.1,790.2 578.7,791.5 586.3,785.2 593.9,784.2 601.5,777.5 609.1,774.0 616.7,777.5 624.3,781.5 631.9,783.9 639.5,775.8 647.1,770.3 654.6,755.9 662.2,735.7 669.8,724.6 677.4,705.6" fill="none" stroke="#222" stroke-width="1.75" stroke-linejoin="round"/>
<line x1="15.5" x2="23" y1="703.6" y2="703.6" stroke="#111" stroke-width="1.8"/>
<text x="26.1" y="706.8" font-size="8.5" fill="#222" textLength="97.8" lengthAdjust="spacingAndGlyphs">MACD(12,26,9) 1.643</text>
<text x="124.5" y="706.8" font-size="8.5" fill="#ee3333">,</text>
<text x="131.4" y="706.8" font-size="8.5" fill="#ee3333" textLength="25.8" lengthAdjust="spacingAndGlyphs">0.822</text>
<text x="158" y="706.8" font-size="8.5" fill="#4a9ad0">,</text>
<text x="164.2" y="706.8" font-size="8.5" fill="#4a9ad0" textLength="25.2" lengthAdjust="spacingAndGlyphs">0.821</text>
<path d="M13.5,698.5 H988.5 V835.5 H13.5 Z" fill="none" stroke="#a4a4bc" stroke-width="1"/>
<text x="1009.9" text-anchor="end" y="715.7" font-size="8.6" fill="#111">1.50</text>
<text x="1009.9" text-anchor="end" y="728.3" font-size="8.6" fill="#111">1.25</text>
<text x="1009.9" text-anchor="end" y="740.9" font-size="8.6" fill="#111">1.00</text>
<text x="1009.9" text-anchor="end" y="753.5" font-size="8.6" fill="#111">0.75</text>
<text x="1009.9" text-anchor="end" y="766.1" font-size="8.6" fill="#111">0.50</text>
<text x="1009.9" text-anchor="end" y="778.7" font-size="8.6" fill="#111">0.25</text>
<text x="1009.9" text-anchor="end" y="791.3" font-size="8.6" fill="#111">0.00</text>
<text x="1009.9" text-anchor="end" y="803.9" font-size="8.6" fill="#111">-0.25</text>
<text x="1009.9" text-anchor="end" y="816.5" font-size="8.6" fill="#111">-0.50</text>
<text x="1009.9" text-anchor="end" y="829.1" font-size="8.6" fill="#111">-0.75</text>
<polygon points="986.4,705.6 990,700.9 1013.6,700.9 1013.6,710.3 990,710.3" fill="#fff" stroke="#000" stroke-width="1"/>
<text x="990.6" y="708.5" font-size="8.2" fill="#111" textLength="21.5" lengthAdjust="spacingAndGlyphs">1.643</text>
<polygon points="986.4,747.0 990,742.3 1013.6,742.3 1013.6,751.7 990,751.7" fill="#fff" stroke="#ee3333" stroke-width="1"/>
<text x="990.6" y="749.9" font-size="8.2" fill="#111" textLength="21.5" lengthAdjust="spacingAndGlyphs">0.822</text>
<rect x="13" y="835" width="976" height="137" fill="#d8d8e8"/>
<line x1="13" x2="989" y1="841.1" y2="841.1" stroke="#c8c8da" stroke-width="1"/>
<line x1="13" x2="989" y1="853.6" y2="853.6" stroke="#c8c8da" stroke-width="1"/>
<line x1="13" x2="989" y1="878.6" y2="878.6" stroke="#c8c8da" stroke-width="1"/>
<line x1="13" x2="989" y1="891.1" y2="891.1" stroke="#c8c8da" stroke-width="1"/>
<line x1="13" x2="989" y1="916.1" y2="916.1" stroke="#c8c8da" stroke-width="1"/>
<line x1="13" x2="989" y1="928.6" y2="928.6" stroke="#c8c8da" stroke-width="1"/>
<line x1="13" x2="989" y1="953.6" y2="953.6" stroke="#c8c8da" stroke-width="1"/>
<line x1="13" x2="989" y1="966.1" y2="966.1" stroke="#c8c8da" stroke-width="1"/>
<line x1="16.5" x2="16.5" y1="835" y2="971" stroke="#c8c8da" stroke-width="1"/>
<line x1="54.5" x2="54.5" y1="835" y2="971" stroke="#c8c8da" stroke-width="1"/>
<line x1="92.5" x2="92.5" y1="835" y2="971" stroke="#c8c8da" stroke-width="1"/>
<line x1="130.5" x2="130.5" y1="835" y2="971" stroke="#c8c8da" stroke-width="1"/>
<line x1="168.5" x2="168.5" y1="835" y2="971" stroke="#c8c8da" stroke-width="1"/>
<line x1="206.5" x2="206.5" y1="835" y2="971" stroke="#c8c8da" stroke-width="1"/>
<line x1="275.5" x2="275.5" y1="835" y2="971" stroke="#c8c8da" stroke-width="1"/>
<line x1="313.5" x2="313.5" y1="835" y2="971" stroke="#c8c8da" stroke-width="1"/>
<line x1="351.5" x2="351.5" y1="835" y2="971" stroke="#c8c8da" stroke-width="1"/>
<line x1="389.5" x2="389.5" y1="835" y2="971" stroke="#c8c8da" stroke-width="1"/>
<line x1="427.5" x2="427.5" y1="835" y2="971" stroke="#c8c8da" stroke-width="1"/>
<line x1="465.5" x2="465.5" y1="835" y2="971" stroke="#c8c8da" stroke-width="1"/>
<line x1="503.5" x2="503.5" y1="835" y2="971" stroke="#c8c8da" stroke-width="1"/>
<line x1="541.5" x2="541.5" y1="835" y2="971" stroke="#c8c8da" stroke-width="1"/>
<line x1="617.5" x2="617.5" y1="835" y2="971" stroke="#c8c8da" stroke-width="1"/>
<line x1="655.5" x2="655.5" y1="835" y2="971" stroke="#c8c8da" stroke-width="1"/>
<line x1="693.5" x2="693.5" y1="835" y2="971" stroke="#c8c8da" stroke-width="1"/>
<line x1="761.5" x2="761.5" y1="835" y2="971" stroke="#c8c8da" stroke-width="1"/>
<line x1="799.5" x2="799.5" y1="835" y2="971" stroke="#c8c8da" stroke-width="1"/>
<line x1="837.5" x2="837.5" y1="835" y2="971" stroke="#c8c8da" stroke-width="1"/>
<line x1="867.5" x2="867.5" y1="835" y2="971" stroke="#c8c8da" stroke-width="1"/>
<line x1="898.5" x2="898.5" y1="835" y2="971" stroke="#c8c8da" stroke-width="1"/>
<line x1="936.5" x2="936.5" y1="835" y2="971" stroke="#c8c8da" stroke-width="1"/>
<line x1="974.5" x2="974.5" y1="835" y2="971" stroke="#c8c8da" stroke-width="1"/>
<line x1="85.5" x2="85.5" y1="835" y2="971" stroke="#b6b6c6" stroke-width="1"/>
<line x1="244.5" x2="244.5" y1="835" y2="971" stroke="#b6b6c6" stroke-width="1"/>
<line x1="404.5" x2="404.5" y1="835" y2="971" stroke="#b6b6c6" stroke-width="1"/>
<line x1="579.5" x2="579.5" y1="835" y2="971" stroke="#b6b6c6" stroke-width="1"/>
<line x1="723.5" x2="723.5" y1="835" y2="971" stroke="#b6b6c6" stroke-width="1"/>
<line x1="890.5" x2="890.5" y1="835" y2="971" stroke="#b6b6c6" stroke-width="1"/>
<line x1="13" x2="989" y1="866.1" y2="866.1" stroke="#6e6e6e" stroke-width="1"/>
<line x1="13" x2="989" y1="941.1" y2="941.1" stroke="#6e6e6e" stroke-width="1"/>
<line x1="13" x2="989" y1="903.6" y2="903.6" stroke="#8a8a8a" stroke-width="1" stroke-dasharray="6,2,2,2"/>
<polyline points="13,923.8 16.5,929.2 24.1,937.4 31.7,940.9 39.3,945.7 46.9,953.4 54.5,958.8 62.1,959.0 69.7,954.0 77.3,942.9 84.9,927.9 92.5,912.1 100.1,902.4 107.7,906.3 115.3,914.8 122.9,928.7 130.5,936.5 138.1,946.1 145.6,951.1 153.2,957.0 160.8,958.3 168.4,958.1 176.0,954.6 183.6,951.2 191.2,944.0 198.8,940.5 206.4,938.3 214.0,945.3 221.6,947.1 229.2,949.4 236.8,943.5 244.4,935.3 252.0,921.9 259.6,914.6 267.2,917.8 274.8,928.7 282.4,937.9 290.0,941.4 297.6,942.7 305.2,944.1 312.8,945.0 320.4,940.5 328.0,932.7 335.6,926.1 343.2,926.7 350.8,926.4 358.4,918.0 366.0,900.8 373.6,884.8 381.2,884.6 388.8,891.9 396.4,903.3 403.9,902.7 411.5,898.4 419.1,890.8 426.7,886.9 434.3,882.6 441.9,883.4 449.5,886.4 457.1,891.3 464.7,891.2 472.3,885.7 479.9,883.3 487.5,876.0 495.1,877.2 502.7,882.9 510.3,906.6 517.9,928.0 525.5,943.3 533.1,948.7 540.7,954.0 548.3,958.5 555.9,960.5 563.5,958.8 571.1,955.6 578.7,953.2 586.3,949.7 593.9,946.6 601.5,935.5 609.1,923.3 616.7,910.2 624.3,912.3 631.9,920.8 639.5,925.9 647.1,919.6 654.6,902.0 662.2,885.3 669.8,870.4 677.4,864.1" fill="none" stroke="#ee4444" stroke-width="1.3"/>
<polyline points="13,936.8 16.5,938.9 24.1,938.9 31.7,945.0 39.3,953.2 46.9,962.0 54.5,961.1 62.1,953.9 69.7,947.0 77.3,928.0 84.9,908.7 92.5,899.7 100.1,898.9 107.7,920.4 115.3,925.1 122.9,940.7 130.5,943.7 138.1,954.0 145.6,955.5 153.2,961.6 160.8,957.8 168.4,955.0 176.0,951.0 183.6,947.7 191.2,933.4 198.8,940.3 206.4,941.3 214.0,954.4 221.6,945.7 229.2,948.2 236.8,936.6 244.4,921.2 252.0,907.7 259.6,914.9 267.2,930.7 274.8,940.5 282.4,942.6 290.0,941.2 297.6,944.4 305.2,946.6 312.8,943.9 320.4,930.8 328.0,923.2 335.6,924.1 343.2,932.6 350.8,922.5 358.4,898.8 366.0,881.2 373.6,874.5 381.2,898.1 388.8,903.1 396.4,908.7 403.9,896.5 411.5,890.2 419.1,885.7 426.7,884.7 434.3,877.3 441.9,888.1 449.5,893.7 457.1,892.1 464.7,887.8 472.3,877.1 479.9,885.1 487.5,865.9 495.1,880.5 502.7,902.3 510.3,937.1 517.9,944.6 525.5,948.3 533.1,953.2 540.7,960.6 548.3,961.8 555.9,959.0 563.5,955.5 571.1,952.4 578.7,951.6 586.3,945.1 593.9,943.3 601.5,918.1 609.1,908.4 616.7,904.2 624.3,924.4 631.9,933.6 639.5,919.6 647.1,905.6 654.6,880.8 662.2,869.6 669.8,860.8 677.4,861.9" fill="none" stroke="#222" stroke-width="1.75" stroke-linejoin="round"/>
<line x1="15.5" x2="23" y1="840.6" y2="840.6" stroke="#111" stroke-width="1.8"/>
<text x="26.1" y="843.8" font-size="8.5" fill="#222" textLength="151" lengthAdjust="spacingAndGlyphs">Full STO %K(14,3) %D(3) 83.38,</text>
<text x="178.6" y="843.8" font-size="8.5" fill="#ee3333" textLength="25.8" lengthAdjust="spacingAndGlyphs">81.60</text>
<path d="M13.5,835.5 H988.5 V971.5 H13.5 Z" fill="none" stroke="#a4a4bc" stroke-width="1"/>
<text x="1000.3" text-anchor="end" y="906.5" font-size="8.6" fill="#111">50</text>
<text x="1000.3" text-anchor="end" y="944.0" font-size="8.6" fill="#111">20</text>
<polygon points="986.4,864.1 990,859.4 1013.6,859.4 1013.6,868.8 990,868.8" fill="#fff" stroke="#ee3333" stroke-width="1"/>
<polygon points="986.4,861.9 990,857.2 1013.6,857.2 1013.6,866.6 990,866.6" fill="#fff" stroke="#000" stroke-width="1"/>
<text x="990.6" y="864.8" font-size="8.2" fill="#111" textLength="21.5" lengthAdjust="spacingAndGlyphs">83.38</text>
<line x1="16.5" x2="16.5" y1="972" y2="973.5" stroke="#b8b8b8" stroke-width="1"/>
<line x1="16.5" x2="16.5" y1="981.5" y2="983" stroke="#b8b8b8" stroke-width="1"/>
<line x1="24.5" x2="24.5" y1="972" y2="973.5" stroke="#b8b8b8" stroke-width="1"/>
<line x1="24.5" x2="24.5" y1="981.5" y2="983" stroke="#b8b8b8" stroke-width="1"/>
<line x1="32.5" x2="32.5" y1="972" y2="973.5" stroke="#b8b8b8" stroke-width="1"/>
<line x1="32.5" x2="32.5" y1="981.5" y2="983" stroke="#b8b8b8" stroke-width="1"/>
<line x1="39.5" x2="39.5" y1="972" y2="973.5" stroke="#b8b8b8" stroke-width="1"/>
<line x1="39.5" x2="39.5" y1="981.5" y2="983" stroke="#b8b8b8" stroke-width="1"/>
<line x1="47.5" x2="47.5" y1="972" y2="973.5" stroke="#b8b8b8" stroke-width="1"/>
<line x1="47.5" x2="47.5" y1="981.5" y2="983" stroke="#b8b8b8" stroke-width="1"/>
<line x1="54.5" x2="54.5" y1="972" y2="973.5" stroke="#b8b8b8" stroke-width="1"/>
<line x1="54.5" x2="54.5" y1="981.5" y2="983" stroke="#b8b8b8" stroke-width="1"/>
<line x1="62.5" x2="62.5" y1="972" y2="973.5" stroke="#b8b8b8" stroke-width="1"/>
<line x1="62.5" x2="62.5" y1="981.5" y2="983" stroke="#b8b8b8" stroke-width="1"/>
<line x1="70.5" x2="70.5" y1="972" y2="973.5" stroke="#b8b8b8" stroke-width="1"/>
<line x1="70.5" x2="70.5" y1="981.5" y2="983" stroke="#b8b8b8" stroke-width="1"/>
<line x1="77.5" x2="77.5" y1="972" y2="973.5" stroke="#b8b8b8" stroke-width="1"/>
<line x1="77.5" x2="77.5" y1="981.5" y2="983" stroke="#b8b8b8" stroke-width="1"/>
<line x1="85.5" x2="85.5" y1="972" y2="973.5" stroke="#b8b8b8" stroke-width="1"/>
<line x1="85.5" x2="85.5" y1="981.5" y2="983" stroke="#b8b8b8" stroke-width="1"/>
<line x1="92.5" x2="92.5" y1="972" y2="973.5" stroke="#b8b8b8" stroke-width="1"/>
<line x1="92.5" x2="92.5" y1="981.5" y2="983" stroke="#b8b8b8" stroke-width="1"/>
<line x1="100.5" x2="100.5" y1="972" y2="973.5" stroke="#b8b8b8" stroke-width="1"/>
<line x1="100.5" x2="100.5" y1="981.5" y2="983" stroke="#b8b8b8" stroke-width="1"/>
<line x1="108.5" x2="108.5" y1="972" y2="973.5" stroke="#b8b8b8" stroke-width="1"/>
<line x1="108.5" x2="108.5" y1="981.5" y2="983" stroke="#b8b8b8" stroke-width="1"/>
<line x1="115.5" x2="115.5" y1="972" y2="973.5" stroke="#b8b8b8" stroke-width="1"/>
<line x1="115.5" x2="115.5" y1="981.5" y2="983" stroke="#b8b8b8" stroke-width="1"/>
<line x1="123.5" x2="123.5" y1="972" y2="973.5" stroke="#b8b8b8" stroke-width="1"/>
<line x1="123.5" x2="123.5" y1="981.5" y2="983" stroke="#b8b8b8" stroke-width="1"/>
<line x1="130.5" x2="130.5" y1="972" y2="973.5" stroke="#b8b8b8" stroke-width="1"/>
<line x1="130.5" x2="130.5" y1="981.5" y2="983" stroke="#b8b8b8" stroke-width="1"/>
<line x1="138.5" x2="138.5" y1="972" y2="973.5" stroke="#b8b8b8" stroke-width="1"/>
<line x1="138.5" x2="138.5" y1="981.5" y2="983" stroke="#b8b8b8" stroke-width="1"/>
<line x1="146.5" x2="146.5" y1="972" y2="973.5" stroke="#b8b8b8" stroke-width="1"/>
<line x1="146.5" x2="146.5" y1="981.5" y2="983" stroke="#b8b8b8" stroke-width="1"/>
<line x1="153.5" x2="153.5" y1="972" y2="973.5" stroke="#b8b8b8" stroke-width="1"/>
<line x1="153.5" x2="153.5" y1="981.5" y2="983" stroke="#b8b8b8" stroke-width="1"/>
<line x1="161.5" x2="161.5" y1="972" y2="973.5" stroke="#b8b8b8" stroke-width="1"/>
<line x1="161.5" x2="161.5" y1="981.5" y2="983" stroke="#b8b8b8" stroke-width="1"/>
<line x1="168.5" x2="168.5" y1="972" y2="973.5" stroke="#b8b8b8" stroke-width="1"/>
<line x1="168.5" x2="168.5" y1="981.5" y2="983" stroke="#b8b8b8" stroke-width="1"/>
<line x1="176.5" x2="176.5" y1="972" y2="973.5" stroke="#b8b8b8" stroke-width="1"/>
<line x1="176.5" x2="176.5" y1="981.5" y2="983" stroke="#b8b8b8" stroke-width="1"/>
<line x1="184.5" x2="184.5" y1="972" y2="973.5" stroke="#b8b8b8" stroke-width="1"/>
<line x1="184.5" x2="184.5" y1="981.5" y2="983" stroke="#b8b8b8" stroke-width="1"/>
<line x1="191.5" x2="191.5" y1="972" y2="973.5" stroke="#b8b8b8" stroke-width="1"/>
<line x1="191.5" x2="191.5" y1="981.5" y2="983" stroke="#b8b8b8" stroke-width="1"/>
<line x1="199.5" x2="199.5" y1="972" y2="973.5" stroke="#b8b8b8" stroke-width="1"/>
<line x1="199.5" x2="199.5" y1="981.5" y2="983" stroke="#b8b8b8" stroke-width="1"/>
<line x1="206.5" x2="206.5" y1="972" y2="973.5" stroke="#b8b8b8" stroke-width="1"/>
<line x1="206.5" x2="206.5" y1="981.5" y2="983" stroke="#b8b8b8" stroke-width="1"/>
<line x1="214.5" x2="214.5" y1="972" y2="973.5" stroke="#b8b8b8" stroke-width="1"/>
<line x1="214.5" x2="214.5" y1="981.5" y2="983" stroke="#b8b8b8" stroke-width="1"/>
<line x1="222.5" x2="222.5" y1="972" y2="973.5" stroke="#b8b8b8" stroke-width="1"/>
<line x1="222.5" x2="222.5" y1="981.5" y2="983" stroke="#b8b8b8" stroke-width="1"/>
<line x1="229.5" x2="229.5" y1="972" y2="973.5" stroke="#b8b8b8" stroke-width="1"/>
<line x1="229.5" x2="229.5" y1="981.5" y2="983" stroke="#b8b8b8" stroke-width="1"/>
<line x1="237.5" x2="237.5" y1="972" y2="973.5" stroke="#b8b8b8" stroke-width="1"/>
<line x1="237.5" x2="237.5" y1="981.5" y2="983" stroke="#b8b8b8" stroke-width="1"/>
<line x1="244.5" x2="244.5" y1="972" y2="973.5" stroke="#b8b8b8" stroke-width="1"/>
<line x1="244.5" x2="244.5" y1="981.5" y2="983" stroke="#b8b8b8" stroke-width="1"/>
<line x1="252.5" x2="252.5" y1="972" y2="973.5" stroke="#b8b8b8" stroke-width="1"/>
<line x1="252.5" x2="252.5" y1="981.5" y2="983" stroke="#b8b8b8" stroke-width="1"/>
<line x1="260.5" x2="260.5" y1="972" y2="973.5" stroke="#b8b8b8" stroke-width="1"/>
<line x1="260.5" x2="260.5" y1="981.5" y2="983" stroke="#b8b8b8" stroke-width="1"/>
<line x1="267.5" x2="267.5" y1="972" y2="973.5" stroke="#b8b8b8" stroke-width="1"/>
<line x1="267.5" x2="267.5" y1="981.5" y2="983" stroke="#b8b8b8" stroke-width="1"/>
<line x1="275.5" x2="275.5" y1="972" y2="973.5" stroke="#b8b8b8" stroke-width="1"/>
<line x1="275.5" x2="275.5" y1="981.5" y2="983" stroke="#b8b8b8" stroke-width="1"/>
<line x1="282.5" x2="282.5" y1="972" y2="973.5" stroke="#b8b8b8" stroke-width="1"/>
<line x1="282.5" x2="282.5" y1="981.5" y2="983" stroke="#b8b8b8" stroke-width="1"/>
<line x1="290.5" x2="290.5" y1="972" y2="973.5" stroke="#b8b8b8" stroke-width="1"/>
<line x1="290.5" x2="290.5" y1="981.5" y2="983" stroke="#b8b8b8" stroke-width="1"/>
<line x1="298.5" x2="298.5" y1="972" y2="973.5" stroke="#b8b8b8" stroke-width="1"/>
<line x1="298.5" x2="298.5" y1="981.5" y2="983" stroke="#b8b8b8" stroke-width="1"/>
<line x1="305.5" x2="305.5" y1="972" y2="973.5" stroke="#b8b8b8" stroke-width="1"/>
<line x1="305.5" x2="305.5" y1="981.5" y2="983" stroke="#b8b8b8" stroke-width="1"/>
<line x1="313.5" x2="313.5" y1="972" y2="973.5" stroke="#b8b8b8" stroke-width="1"/>
<line x1="313.5" x2="313.5" y1="981.5" y2="983" stroke="#b8b8b8" stroke-width="1"/>
<line x1="320.5" x2="320.5" y1="972" y2="973.5" stroke="#b8b8b8" stroke-width="1"/>
<line x1="320.5" x2="320.5" y1="981.5" y2="983" stroke="#b8b8b8" stroke-width="1"/>
<line x1="328.5" x2="328.5" y1="972" y2="973.5" stroke="#b8b8b8" stroke-width="1"/>
<line x1="328.5" x2="328.5" y1="981.5" y2="983" stroke="#b8b8b8" stroke-width="1"/>
<line x1="336.5" x2="336.5" y1="972" y2="973.5" stroke="#b8b8b8" stroke-width="1"/>
<line x1="336.5" x2="336.5" y1="981.5" y2="983" stroke="#b8b8b8" stroke-width="1"/>
<line x1="343.5" x2="343.5" y1="972" y2="973.5" stroke="#b8b8b8" stroke-width="1"/>
<line x1="343.5" x2="343.5" y1="981.5" y2="983" stroke="#b8b8b8" stroke-width="1"/>
<line x1="351.5" x2="351.5" y1="972" y2="973.5" stroke="#b8b8b8" stroke-width="1"/>
<line x1="351.5" x2="351.5" y1="981.5" y2="983" stroke="#b8b8b8" stroke-width="1"/>
<line x1="358.5" x2="358.5" y1="972" y2="973.5" stroke="#b8b8b8" stroke-width="1"/>
<line x1="358.5" x2="358.5" y1="981.5" y2="983" stroke="#b8b8b8" stroke-width="1"/>
<line x1="366.5" x2="366.5" y1="972" y2="973.5" stroke="#b8b8b8" stroke-width="1"/>
<line x1="366.5" x2="366.5" y1="981.5" y2="983" stroke="#b8b8b8" stroke-width="1"/>
<line x1="374.5" x2="374.5" y1="972" y2="973.5" stroke="#b8b8b8" stroke-width="1"/>
<line x1="374.5" x2="374.5" y1="981.5" y2="983" stroke="#b8b8b8" stroke-width="1"/>
<line x1="381.5" x2="381.5" y1="972" y2="973.5" stroke="#b8b8b8" stroke-width="1"/>
<line x1="381.5" x2="381.5" y1="981.5" y2="983" stroke="#b8b8b8" stroke-width="1"/>
<line x1="389.5" x2="389.5" y1="972" y2="973.5" stroke="#b8b8b8" stroke-width="1"/>
<line x1="389.5" x2="389.5" y1="981.5" y2="983" stroke="#b8b8b8" stroke-width="1"/>
<line x1="396.5" x2="396.5" y1="972" y2="973.5" stroke="#b8b8b8" stroke-width="1"/>
<line x1="396.5" x2="396.5" y1="981.5" y2="983" stroke="#b8b8b8" stroke-width="1"/>
<line x1="404.5" x2="404.5" y1="972" y2="973.5" stroke="#b8b8b8" stroke-width="1"/>
<line x1="404.5" x2="404.5" y1="981.5" y2="983" stroke="#b8b8b8" stroke-width="1"/>
<line x1="412.5" x2="412.5" y1="972" y2="973.5" stroke="#b8b8b8" stroke-width="1"/>
<line x1="412.5" x2="412.5" y1="981.5" y2="983" stroke="#b8b8b8" stroke-width="1"/>
<line x1="419.5" x2="419.5" y1="972" y2="973.5" stroke="#b8b8b8" stroke-width="1"/>
<line x1="419.5" x2="419.5" y1="981.5" y2="983" stroke="#b8b8b8" stroke-width="1"/>
<line x1="427.5" x2="427.5" y1="972" y2="973.5" stroke="#b8b8b8" stroke-width="1"/>
<line x1="427.5" x2="427.5" y1="981.5" y2="983" stroke="#b8b8b8" stroke-width="1"/>
<line x1="434.5" x2="434.5" y1="972" y2="973.5" stroke="#b8b8b8" stroke-width="1"/>
<line x1="434.5" x2="434.5" y1="981.5" y2="983" stroke="#b8b8b8" stroke-width="1"/>
<line x1="442.5" x2="442.5" y1="972" y2="973.5" stroke="#b8b8b8" stroke-width="1"/>
<line x1="442.5" x2="442.5" y1="981.5" y2="983" stroke="#b8b8b8" stroke-width="1"/>
<line x1="450.5" x2="450.5" y1="972" y2="973.5" stroke="#b8b8b8" stroke-width="1"/>
<line x1="450.5" x2="450.5" y1="981.5" y2="983" stroke="#b8b8b8" stroke-width="1"/>
<line x1="457.5" x2="457.5" y1="972" y2="973.5" stroke="#b8b8b8" stroke-width="1"/>
<line x1="457.5" x2="457.5" y1="981.5" y2="983" stroke="#b8b8b8" stroke-width="1"/>
<line x1="465.5" x2="465.5" y1="972" y2="973.5" stroke="#b8b8b8" stroke-width="1"/>
<line x1="465.5" x2="465.5" y1="981.5" y2="983" stroke="#b8b8b8" stroke-width="1"/>
<line x1="472.5" x2="472.5" y1="972" y2="973.5" stroke="#b8b8b8" stroke-width="1"/>
<line x1="472.5" x2="472.5" y1="981.5" y2="983" stroke="#b8b8b8" stroke-width="1"/>
<line x1="480.5" x2="480.5" y1="972" y2="973.5" stroke="#b8b8b8" stroke-width="1"/>
<line x1="480.5" x2="480.5" y1="981.5" y2="983" stroke="#b8b8b8" stroke-width="1"/>
<line x1="488.5" x2="488.5" y1="972" y2="973.5" stroke="#b8b8b8" stroke-width="1"/>
<line x1="488.5" x2="488.5" y1="981.5" y2="983" stroke="#b8b8b8" stroke-width="1"/>
<line x1="495.5" x2="495.5" y1="972" y2="973.5" stroke="#b8b8b8" stroke-width="1"/>
<line x1="495.5" x2="495.5" y1="981.5" y2="983" stroke="#b8b8b8" stroke-width="1"/>
<line x1="503.5" x2="503.5" y1="972" y2="973.5" stroke="#b8b8b8" stroke-width="1"/>
<line x1="503.5" x2="503.5" y1="981.5" y2="983" stroke="#b8b8b8" stroke-width="1"/>
<line x1="510.5" x2="510.5" y1="972" y2="973.5" stroke="#b8b8b8" stroke-width="1"/>
<line x1="510.5" x2="510.5" y1="981.5" y2="983" stroke="#b8b8b8" stroke-width="1"/>
<line x1="518.5" x2="518.5" y1="972" y2="973.5" stroke="#b8b8b8" stroke-width="1"/>
<line x1="518.5" x2="518.5" y1="981.5" y2="983" stroke="#b8b8b8" stroke-width="1"/>
<line x1="525.5" x2="525.5" y1="972" y2="973.5" stroke="#b8b8b8" stroke-width="1"/>
<line x1="525.5" x2="525.5" y1="981.5" y2="983" stroke="#b8b8b8" stroke-width="1"/>
<line x1="533.5" x2="533.5" y1="972" y2="973.5" stroke="#b8b8b8" stroke-width="1"/>
<line x1="533.5" x2="533.5" y1="981.5" y2="983" stroke="#b8b8b8" stroke-width="1"/>
<line x1="541.5" x2="541.5" y1="972" y2="973.5" stroke="#b8b8b8" stroke-width="1"/>
<line x1="541.5" x2="541.5" y1="981.5" y2="983" stroke="#b8b8b8" stroke-width="1"/>
<line x1="548.5" x2="548.5" y1="972" y2="973.5" stroke="#b8b8b8" stroke-width="1"/>
<line x1="548.5" x2="548.5" y1="981.5" y2="983" stroke="#b8b8b8" stroke-width="1"/>
<line x1="556.5" x2="556.5" y1="972" y2="973.5" stroke="#b8b8b8" stroke-width="1"/>
<line x1="556.5" x2="556.5" y1="981.5" y2="983" stroke="#b8b8b8" stroke-width="1"/>
<line x1="563.5" x2="563.5" y1="972" y2="973.5" stroke="#b8b8b8" stroke-width="1"/>
<line x1="563.5" x2="563.5" y1="981.5" y2="983" stroke="#b8b8b8" stroke-width="1"/>
<line x1="571.5" x2="571.5" y1="972" y2="973.5" stroke="#b8b8b8" stroke-width="1"/>
<line x1="571.5" x2="571.5" y1="981.5" y2="983" stroke="#b8b8b8" stroke-width="1"/>
<line x1="579.5" x2="579.5" y1="972" y2="973.5" stroke="#b8b8b8" stroke-width="1"/>
<line x1="579.5" x2="579.5" y1="981.5" y2="983" stroke="#b8b8b8" stroke-width="1"/>
<line x1="586.5" x2="586.5" y1="972" y2="973.5" stroke="#b8b8b8" stroke-width="1"/>
<line x1="586.5" x2="586.5" y1="981.5" y2="983" stroke="#b8b8b8" stroke-width="1"/>
<line x1="594.5" x2="594.5" y1="972" y2="973.5" stroke="#b8b8b8" stroke-width="1"/>
<line x1="594.5" x2="594.5" y1="981.5" y2="983" stroke="#b8b8b8" stroke-width="1"/>
<line x1="601.5" x2="601.5" y1="972" y2="973.5" stroke="#b8b8b8" stroke-width="1"/>
<line x1="601.5" x2="601.5" y1="981.5" y2="983" stroke="#b8b8b8" stroke-width="1"/>
<line x1="609.5" x2="609.5" y1="972" y2="973.5" stroke="#b8b8b8" stroke-width="1"/>
<line x1="609.5" x2="609.5" y1="981.5" y2="983" stroke="#b8b8b8" stroke-width="1"/>
<line x1="617.5" x2="617.5" y1="972" y2="973.5" stroke="#b8b8b8" stroke-width="1"/>
<line x1="617.5" x2="617.5" y1="981.5" y2="983" stroke="#b8b8b8" stroke-width="1"/>
<line x1="624.5" x2="624.5" y1="972" y2="973.5" stroke="#b8b8b8" stroke-width="1"/>
<line x1="624.5" x2="624.5" y1="981.5" y2="983" stroke="#b8b8b8" stroke-width="1"/>
<line x1="632.5" x2="632.5" y1="972" y2="973.5" stroke="#b8b8b8" stroke-width="1"/>
<line x1="632.5" x2="632.5" y1="981.5" y2="983" stroke="#b8b8b8" stroke-width="1"/>
<line x1="639.5" x2="639.5" y1="972" y2="973.5" stroke="#b8b8b8" stroke-width="1"/>
<line x1="639.5" x2="639.5" y1="981.5" y2="983" stroke="#b8b8b8" stroke-width="1"/>
<line x1="647.5" x2="647.5" y1="972" y2="973.5" stroke="#b8b8b8" stroke-width="1"/>
<line x1="647.5" x2="647.5" y1="981.5" y2="983" stroke="#b8b8b8" stroke-width="1"/>
<line x1="655.5" x2="655.5" y1="972" y2="973.5" stroke="#b8b8b8" stroke-width="1"/>
<line x1="655.5" x2="655.5" y1="981.5" y2="983" stroke="#b8b8b8" stroke-width="1"/>
<line x1="662.5" x2="662.5" y1="972" y2="973.5" stroke="#b8b8b8" stroke-width="1"/>
<line x1="662.5" x2="662.5" y1="981.5" y2="983" stroke="#b8b8b8" stroke-width="1"/>
<line x1="670.5" x2="670.5" y1="972" y2="973.5" stroke="#b8b8b8" stroke-width="1"/>
<line x1="670.5" x2="670.5" y1="981.5" y2="983" stroke="#b8b8b8" stroke-width="1"/>
<line x1="677.5" x2="677.5" y1="972" y2="973.5" stroke="#b8b8b8" stroke-width="1"/>
<line x1="677.5" x2="677.5" y1="981.5" y2="983" stroke="#b8b8b8" stroke-width="1"/>
<line x1="685.5" x2="685.5" y1="972" y2="973.5" stroke="#b8b8b8" stroke-width="1"/>
<line x1="685.5" x2="685.5" y1="981.5" y2="983" stroke="#b8b8b8" stroke-width="1"/>
<line x1="693.5" x2="693.5" y1="972" y2="973.5" stroke="#b8b8b8" stroke-width="1"/>
<line x1="693.5" x2="693.5" y1="981.5" y2="983" stroke="#b8b8b8" stroke-width="1"/>
<line x1="700.5" x2="700.5" y1="972" y2="973.5" stroke="#b8b8b8" stroke-width="1"/>
<line x1="700.5" x2="700.5" y1="981.5" y2="983" stroke="#b8b8b8" stroke-width="1"/>
<line x1="708.5" x2="708.5" y1="972" y2="973.5" stroke="#b8b8b8" stroke-width="1"/>
<line x1="708.5" x2="708.5" y1="981.5" y2="983" stroke="#b8b8b8" stroke-width="1"/>
<line x1="715.5" x2="715.5" y1="972" y2="973.5" stroke="#b8b8b8" stroke-width="1"/>
<line x1="715.5" x2="715.5" y1="981.5" y2="983" stroke="#b8b8b8" stroke-width="1"/>
<line x1="723.5" x2="723.5" y1="972" y2="973.5" stroke="#b8b8b8" stroke-width="1"/>
<line x1="723.5" x2="723.5" y1="981.5" y2="983" stroke="#b8b8b8" stroke-width="1"/>
<line x1="731.5" x2="731.5" y1="972" y2="973.5" stroke="#b8b8b8" stroke-width="1"/>
<line x1="731.5" x2="731.5" y1="981.5" y2="983" stroke="#b8b8b8" stroke-width="1"/>
<line x1="738.5" x2="738.5" y1="972" y2="973.5" stroke="#b8b8b8" stroke-width="1"/>
<line x1="738.5" x2="738.5" y1="981.5" y2="983" stroke="#b8b8b8" stroke-width="1"/>
<line x1="746.5" x2="746.5" y1="972" y2="973.5" stroke="#b8b8b8" stroke-width="1"/>
<line x1="746.5" x2="746.5" y1="981.5" y2="983" stroke="#b8b8b8" stroke-width="1"/>
<line x1="753.5" x2="753.5" y1="972" y2="973.5" stroke="#b8b8b8" stroke-width="1"/>
<line x1="753.5" x2="753.5" y1="981.5" y2="983" stroke="#b8b8b8" stroke-width="1"/>
<line x1="761.5" x2="761.5" y1="972" y2="973.5" stroke="#b8b8b8" stroke-width="1"/>
<line x1="761.5" x2="761.5" y1="981.5" y2="983" stroke="#b8b8b8" stroke-width="1"/>
<line x1="769.5" x2="769.5" y1="972" y2="973.5" stroke="#b8b8b8" stroke-width="1"/>
<line x1="769.5" x2="769.5" y1="981.5" y2="983" stroke="#b8b8b8" stroke-width="1"/>
<line x1="776.5" x2="776.5" y1="972" y2="973.5" stroke="#b8b8b8" stroke-width="1"/>
<line x1="776.5" x2="776.5" y1="981.5" y2="983" stroke="#b8b8b8" stroke-width="1"/>
<line x1="784.5" x2="784.5" y1="972" y2="973.5" stroke="#b8b8b8" stroke-width="1"/>
<line x1="784.5" x2="784.5" y1="981.5" y2="983" stroke="#b8b8b8" stroke-width="1"/>
<line x1="791.5" x2="791.5" y1="972" y2="973.5" stroke="#b8b8b8" stroke-width="1"/>
<line x1="791.5" x2="791.5" y1="981.5" y2="983" stroke="#b8b8b8" stroke-width="1"/>
<line x1="799.5" x2="799.5" y1="972" y2="973.5" stroke="#b8b8b8" stroke-width="1"/>
<line x1="799.5" x2="799.5" y1="981.5" y2="983" stroke="#b8b8b8" stroke-width="1"/>
<line x1="807.5" x2="807.5" y1="972" y2="973.5" stroke="#b8b8b8" stroke-width="1"/>
<line x1="807.5" x2="807.5" y1="981.5" y2="983" stroke="#b8b8b8" stroke-width="1"/>
<line x1="814.5" x2="814.5" y1="972" y2="973.5" stroke="#b8b8b8" stroke-width="1"/>
<line x1="814.5" x2="814.5" y1="981.5" y2="983" stroke="#b8b8b8" stroke-width="1"/>
<line x1="822.5" x2="822.5" y1="972" y2="973.5" stroke="#b8b8b8" stroke-width="1"/>
<line x1="822.5" x2="822.5" y1="981.5" y2="983" stroke="#b8b8b8" stroke-width="1"/>
<line x1="829.5" x2="829.5" y1="972" y2="973.5" stroke="#b8b8b8" stroke-width="1"/>
<line x1="829.5" x2="829.5" y1="981.5" y2="983" stroke="#b8b8b8" stroke-width="1"/>
<line x1="837.5" x2="837.5" y1="972" y2="973.5" stroke="#b8b8b8" stroke-width="1"/>
<line x1="837.5" x2="837.5" y1="981.5" y2="983" stroke="#b8b8b8" stroke-width="1"/>
<line x1="845.5" x2="845.5" y1="972" y2="973.5" stroke="#b8b8b8" stroke-width="1"/>
<line x1="845.5" x2="845.5" y1="981.5" y2="983" stroke="#b8b8b8" stroke-width="1"/>
<line x1="852.5" x2="852.5" y1="972" y2="973.5" stroke="#b8b8b8" stroke-width="1"/>
<line x1="852.5" x2="852.5" y1="981.5" y2="983" stroke="#b8b8b8" stroke-width="1"/>
<line x1="860.5" x2="860.5" y1="972" y2="973.5" stroke="#b8b8b8" stroke-width="1"/>
<line x1="860.5" x2="860.5" y1="981.5" y2="983" stroke="#b8b8b8" stroke-width="1"/>
<line x1="867.5" x2="867.5" y1="972" y2="973.5" stroke="#b8b8b8" stroke-width="1"/>
<line x1="867.5" x2="867.5" y1="981.5" y2="983" stroke="#b8b8b8" stroke-width="1"/>
<line x1="875.5" x2="875.5" y1="972" y2="973.5" stroke="#b8b8b8" stroke-width="1"/>
<line x1="875.5" x2="875.5" y1="981.5" y2="983" stroke="#b8b8b8" stroke-width="1"/>
<line x1="883.5" x2="883.5" y1="972" y2="973.5" stroke="#b8b8b8" stroke-width="1"/>
<line x1="883.5" x2="883.5" y1="981.5" y2="983" stroke="#b8b8b8" stroke-width="1"/>
<line x1="890.5" x2="890.5" y1="972" y2="973.5" stroke="#b8b8b8" stroke-width="1"/>
<line x1="890.5" x2="890.5" y1="981.5" y2="983" stroke="#b8b8b8" stroke-width="1"/>
<line x1="898.5" x2="898.5" y1="972" y2="973.5" stroke="#b8b8b8" stroke-width="1"/>
<line x1="898.5" x2="898.5" y1="981.5" y2="983" stroke="#b8b8b8" stroke-width="1"/>
<line x1="905.5" x2="905.5" y1="972" y2="973.5" stroke="#b8b8b8" stroke-width="1"/>
<line x1="905.5" x2="905.5" y1="981.5" y2="983" stroke="#b8b8b8" stroke-width="1"/>
<line x1="913.5" x2="913.5" y1="972" y2="973.5" stroke="#b8b8b8" stroke-width="1"/>
<line x1="913.5" x2="913.5" y1="981.5" y2="983" stroke="#b8b8b8" stroke-width="1"/>
<line x1="921.5" x2="921.5" y1="972" y2="973.5" stroke="#b8b8b8" stroke-width="1"/>
<line x1="921.5" x2="921.5" y1="981.5" y2="983" stroke="#b8b8b8" stroke-width="1"/>
<line x1="928.5" x2="928.5" y1="972" y2="973.5" stroke="#b8b8b8" stroke-width="1"/>
<line x1="928.5" x2="928.5" y1="981.5" y2="983" stroke="#b8b8b8" stroke-width="1"/>
<line x1="936.5" x2="936.5" y1="972" y2="973.5" stroke="#b8b8b8" stroke-width="1"/>
<line x1="936.5" x2="936.5" y1="981.5" y2="983" stroke="#b8b8b8" stroke-width="1"/>
<line x1="943.5" x2="943.5" y1="972" y2="973.5" stroke="#b8b8b8" stroke-width="1"/>
<line x1="943.5" x2="943.5" y1="981.5" y2="983" stroke="#b8b8b8" stroke-width="1"/>
<line x1="951.5" x2="951.5" y1="972" y2="973.5" stroke="#b8b8b8" stroke-width="1"/>
<line x1="951.5" x2="951.5" y1="981.5" y2="983" stroke="#b8b8b8" stroke-width="1"/>
<line x1="959.5" x2="959.5" y1="972" y2="973.5" stroke="#b8b8b8" stroke-width="1"/>
<line x1="959.5" x2="959.5" y1="981.5" y2="983" stroke="#b8b8b8" stroke-width="1"/>
<line x1="966.5" x2="966.5" y1="972" y2="973.5" stroke="#b8b8b8" stroke-width="1"/>
<line x1="966.5" x2="966.5" y1="981.5" y2="983" stroke="#b8b8b8" stroke-width="1"/>
<line x1="974.5" x2="974.5" y1="972" y2="973.5" stroke="#b8b8b8" stroke-width="1"/>
<line x1="974.5" x2="974.5" y1="981.5" y2="983" stroke="#b8b8b8" stroke-width="1"/>
<line x1="981.5" x2="981.5" y1="972" y2="973.5" stroke="#b8b8b8" stroke-width="1"/>
<line x1="981.5" x2="981.5" y1="981.5" y2="983" stroke="#b8b8b8" stroke-width="1"/>
<text x="16.5" y="979.6" font-size="9.3" font-weight="normal" text-anchor="middle" fill="#111">21</text>
<text x="54.5" y="979.6" font-size="9.3" font-weight="normal" text-anchor="middle" fill="#111">28</text>
<text x="130.5" y="979.6" font-size="9.3" font-weight="normal" text-anchor="middle" fill="#111">11</text>
<text x="168.4" y="979.6" font-size="9.3" font-weight="normal" text-anchor="middle" fill="#111">18</text>
<text x="206.4" y="979.6" font-size="9.3" font-weight="normal" text-anchor="middle" fill="#111">25</text>
<text x="274.8" y="979.6" font-size="9.3" font-weight="normal" text-anchor="middle" fill="#111">8</text>
<text x="312.8" y="979.6" font-size="9.3" font-weight="normal" text-anchor="middle" fill="#111">15</text>
<text x="350.8" y="979.6" font-size="9.3" font-weight="normal" text-anchor="middle" fill="#111">22</text>
<text x="388.8" y="979.6" font-size="9.3" font-weight="normal" text-anchor="middle" fill="#111">29</text>
<text x="426.7" y="979.6" font-size="9.3" font-weight="normal" text-anchor="middle" fill="#111">6</text>
<text x="464.7" y="979.6" font-size="9.3" font-weight="normal" text-anchor="middle" fill="#111">13</text>
<text x="502.7" y="979.6" font-size="9.3" font-weight="normal" text-anchor="middle" fill="#111">20</text>
<text x="540.7" y="979.6" font-size="9.3" font-weight="normal" text-anchor="middle" fill="#111">27</text>
<text x="616.7" y="979.6" font-size="9.3" font-weight="normal" text-anchor="middle" fill="#111">10</text>
<text x="654.6" y="979.6" font-size="9.3" font-weight="normal" text-anchor="middle" fill="#111">17</text>
<text x="692.6" y="979.6" font-size="9.3" font-weight="normal" text-anchor="middle" fill="#111">24</text>
<text x="761.0" y="979.6" font-size="9.3" font-weight="normal" text-anchor="middle" fill="#111">8</text>
<text x="799.0" y="979.6" font-size="9.3" font-weight="normal" text-anchor="middle" fill="#111">15</text>
<text x="837.0" y="979.6" font-size="9.3" font-weight="normal" text-anchor="middle" fill="#111">22</text>
<text x="867.4" y="979.6" font-size="9.3" font-weight="normal" text-anchor="middle" fill="#111">29</text>
<text x="935.7" y="979.6" font-size="9.3" font-weight="normal" text-anchor="middle" fill="#111">12</text>
<text x="973.7" y="979.6" font-size="9.3" font-weight="normal" text-anchor="middle" fill="#111">20</text>
<text x="84.9" y="979.6" font-size="9.6" font-weight="bold" text-anchor="middle" fill="#111">Aug</text>
<text x="244.4" y="979.6" font-size="9.6" font-weight="bold" text-anchor="middle" fill="#111">Sep</text>
<text x="403.9" y="979.6" font-size="9.6" font-weight="bold" text-anchor="middle" fill="#111">Oct</text>
<text x="578.7" y="979.6" font-size="9.6" font-weight="bold" text-anchor="middle" fill="#111">Nov</text>
<text x="723.0" y="979.6" font-size="9.6" font-weight="bold" text-anchor="middle" fill="#111">Dec</text>
<text x="890.2" y="979.6" font-size="9.6" font-weight="bold" text-anchor="middle" fill="#111">2026</text>
</svg></body></html>
